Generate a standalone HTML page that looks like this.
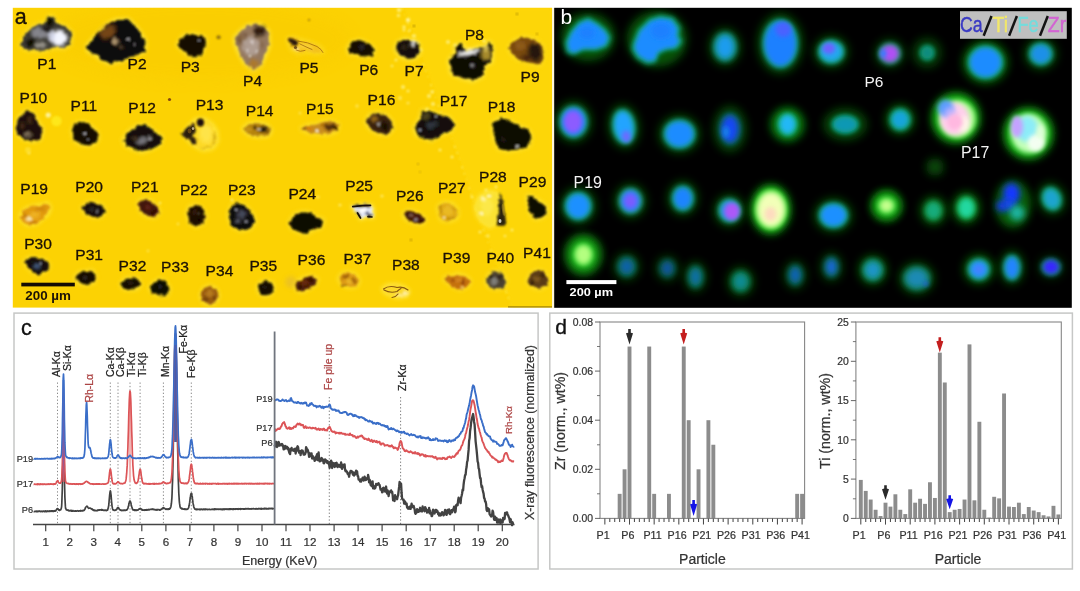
<!DOCTYPE html>
<html><head><meta charset="utf-8"><title>figure</title>
<style>
html,body{margin:0;padding:0;background:#fff;}
body{width:1080px;height:591px;overflow:hidden;font-family:"Liberation Sans",sans-serif;}
svg{display:block;position:absolute;left:0;top:0;will-change:transform;}
text{font-family:"Liberation Sans",sans-serif;}
</style></head><body>
<svg width="1080" height="591" viewBox="0 0 1080 591">
<rect x="0" y="0" width="1080" height="591" fill="#ffffff"/>
<g id="pa">
<defs>
<filter id="a07" x="-30%" y="-30%" width="160%" height="160%"><feGaussianBlur stdDeviation="0.75"/></filter>
<filter id="rg" x="-30%" y="-30%" width="160%" height="160%"><feTurbulence type="fractalNoise" baseFrequency="0.22" numOctaves="2" seed="3" result="n"/><feDisplacementMap in="SourceGraphic" in2="n" scale="4.5" xChannelSelector="R" yChannelSelector="G"/><feGaussianBlur stdDeviation="1.0"/></filter>
<filter id="rg2" x="-30%" y="-30%" width="160%" height="160%"><feTurbulence type="fractalNoise" baseFrequency="0.35" numOctaves="2" seed="8" result="n"/><feDisplacementMap in="SourceGraphic" in2="n" scale="4" xChannelSelector="G" yChannelSelector="R"/><feGaussianBlur stdDeviation="0.8"/></filter>
<filter id="a08" x="-50%" y="-50%" width="200%" height="200%"><feGaussianBlur stdDeviation="0.9"/></filter>
<filter id="a12" x="-50%" y="-50%" width="200%" height="200%"><feGaussianBlur stdDeviation="1.4"/></filter>
<filter id="a2" x="-50%" y="-50%" width="200%" height="200%"><feGaussianBlur stdDeviation="2"/></filter>
<filter id="a6" x="-50%" y="-50%" width="200%" height="200%"><feGaussianBlur stdDeviation="7"/></filter>
<clipPath id="ca"><rect x="12.8" y="7.8" width="539.2" height="299.8"/></clipPath>
</defs>
<rect x="12.8" y="7.8" width="539.2" height="299.8" fill="#fcd203"/>
<g clip-path="url(#ca)">
<polygon points="404,8 552,8 552,308 512,308 458,155" fill="#fed908" opacity="0.6" filter="url(#a12)"/>
<polyline points="402,8 420,55 440,110 458,155 478,215 498,270 512,308" fill="none" stroke="#ffef60" stroke-width="1.6" stroke-dasharray="2 5 1 7 3 4" opacity="0.7" filter="url(#a08)"/>
<ellipse cx="200" cy="40" rx="150" ry="40" fill="#f9cb00" opacity="0.45" filter="url(#a6)"/>
<polygon points="21.3,45.5 26.9,33.0 35.2,26.1 47.7,21.9 48.4,17.0 53.3,17.0 54.7,22.6 65.8,27.4 71.3,33.0 69.9,44.1 64.4,47.6 54.7,46.9 43.6,50.4 33.8,49.7 26.9,49.0" fill="#ffe840" stroke="#ffe840" stroke-width="4.0" stroke-linejoin="round" opacity="0.7425" filter="url(#a2)"/>
<g filter="url(#rg)"><polygon points="21.3,45.5 26.9,33.0 35.2,26.1 47.7,21.9 48.4,17.0 53.3,17.0 54.7,22.6 65.8,27.4 71.3,33.0 69.9,44.1 64.4,47.6 54.7,46.9 43.6,50.4 33.8,49.7 26.9,49.0" fill="#3a3832" stroke="#3a3832" stroke-width="0.8" stroke-linejoin="round"/>
<ellipse cx="40.0" cy="33.0" rx="9.0" ry="6.0" fill="#8e8e96" opacity="0.9" filter="url(#a12)"/>
<ellipse cx="59.0" cy="38.0" rx="8.0" ry="8.0" fill="#f4f6ff" filter="url(#a12)"/>
<ellipse cx="52.0" cy="36.0" rx="4.0" ry="6.0" fill="#d8dcf0" opacity="0.9" filter="url(#a12)"/>
<ellipse cx="31.0" cy="43.0" rx="4.2" ry="4.0" fill="#0c0806" filter="url(#a08)"/>
<ellipse cx="50.0" cy="22.0" rx="3.5" ry="4.5" fill="#0c0806" filter="url(#a08)"/>
<ellipse cx="40.0" cy="45.0" rx="7.0" ry="3.0" fill="#b8b4a8" opacity="0.8" filter="url(#a12)"/>
<ellipse cx="46.0" cy="29.0" rx="5.0" ry="3.0" fill="#1c1814" opacity="0.9" filter="url(#a08)"/>
</g>
<polygon points="87.3,46.2 96.3,35.8 107.4,24.7 115.8,20.5 128.3,19.8 138.0,30.2 144.9,41.3 144.3,51.1 133.8,55.2 124.1,59.4 110.2,62.9 101.9,59.4 94.9,53.8 88.7,51.1" fill="#ffe840" stroke="#ffe840" stroke-width="4.0" stroke-linejoin="round" opacity="0.945" filter="url(#a2)"/>
<g filter="url(#rg)"><polygon points="87.3,46.2 96.3,35.8 107.4,24.7 115.8,20.5 128.3,19.8 138.0,30.2 144.9,41.3 144.3,51.1 133.8,55.2 124.1,59.4 110.2,62.9 101.9,59.4 94.9,53.8 88.7,51.1" fill="#100a08" stroke="#100a08" stroke-width="0.8" stroke-linejoin="round"/>
<ellipse cx="108.0" cy="32.0" rx="9.0" ry="6.0" fill="#7a4a12" opacity="0.95" filter="url(#a12)" transform="rotate(-40 108.0 32.0)"/>
<ellipse cx="115.0" cy="41.0" rx="3.6" ry="3.4" fill="#b89c74" opacity="0.95" filter="url(#a08)"/>
<ellipse cx="121.0" cy="47.0" rx="2.5" ry="2.0" fill="#6a5a40" opacity="0.8" filter="url(#a08)"/>
<ellipse cx="128.0" cy="40.0" rx="1.0" ry="1.0" fill="#e8e8f0" opacity="0.8" filter="url(#a07)"/>
<ellipse cx="134.0" cy="45.0" rx="0.9" ry="0.9" fill="#e8e8f0" opacity="0.7" filter="url(#a07)"/>
</g>
<polygon points="177.6,44.8 183.8,35.8 194.9,34.4 204.7,37.9 205.4,42.7 201.2,53.8 194.9,57.3 188.0,54.5 182.4,49.0" fill="#ffe840" stroke="#ffe840" stroke-width="4.0" stroke-linejoin="round" opacity="0.7425" filter="url(#a2)"/>
<g filter="url(#rg)"><polygon points="177.6,44.8 183.8,35.8 194.9,34.4 204.7,37.9 205.4,42.7 201.2,53.8 194.9,57.3 188.0,54.5 182.4,49.0" fill="#140c06" stroke="#140c06" stroke-width="0.8" stroke-linejoin="round"/>
<ellipse cx="199.5" cy="41.0" rx="1.2" ry="1.0" fill="#c8c8d0" opacity="0.8" filter="url(#a07)"/>
</g>
<ellipse cx="218.6" cy="37.2" rx="2.2" ry="2.0" fill="#8a6a10" opacity="0.9" filter="url(#a08)"/>
<polygon points="235.2,37.9 240.8,31.6 249.1,25.4 260.2,24.7 267.9,31.6 268.6,45.5 265.1,53.8 260.2,64.9 253.3,69.8 244.9,62.2 238.7,51.1 235.9,44.1" fill="#ffe840" stroke="#ffe840" stroke-width="4.0" stroke-linejoin="round" opacity="1" filter="url(#a2)"/>
<g filter="url(#rg)"><polygon points="235.2,37.9 240.8,31.6 249.1,25.4 260.2,24.7 267.9,31.6 268.6,45.5 265.1,53.8 260.2,64.9 253.3,69.8 244.9,62.2 238.7,51.1 235.9,44.1" fill="#94785f" stroke="#94785f" stroke-width="0.8" stroke-linejoin="round"/>
<ellipse cx="251.0" cy="46.0" rx="8.5" ry="10.0" fill="#b4a49c" opacity="0.85" filter="url(#a12)"/>
<ellipse cx="259.5" cy="31.0" rx="6.5" ry="5.5" fill="#2c180c" opacity="0.95" filter="url(#a12)"/>
<ellipse cx="254.0" cy="64.0" rx="5.0" ry="4.5" fill="#b07822" opacity="0.9" filter="url(#a12)"/>
<ellipse cx="240.0" cy="40.0" rx="3.0" ry="5.0" fill="#70502a" opacity="0.8" filter="url(#a12)"/>
<ellipse cx="252.0" cy="42.0" rx="2.0" ry="2.0" fill="#d8ccc8" opacity="0.8" filter="url(#a07)"/>
<ellipse cx="247.0" cy="50.0" rx="1.3" ry="1.3" fill="#e0d8d4" opacity="0.8" filter="url(#a07)"/>
<ellipse cx="256.0" cy="52.0" rx="1.3" ry="1.3" fill="#dcd4d0" opacity="0.8" filter="url(#a07)"/>
<ellipse cx="250.0" cy="57.0" rx="1.2" ry="1.2" fill="#e8e0d0" opacity="0.8" filter="url(#a07)"/>
<ellipse cx="246.0" cy="35.0" rx="2.5" ry="2.0" fill="#6a4a30" opacity="0.7" filter="url(#a08)"/>
<ellipse cx="262.0" cy="45.0" rx="2.0" ry="4.0" fill="#7a5c40" opacity="0.6" filter="url(#a08)"/>
</g>
<polygon points="288.0,39.0 294.0,38.0 300.0,40.5 310.0,43.0 319.0,47.0 323.0,51.5 317.0,52.5 306.0,51.0 298.0,52.5 292.0,49.0" fill="#ffe840" stroke="#ffe840" stroke-width="4.0" stroke-linejoin="round" opacity="0.54" filter="url(#a2)"/>
<g filter="url(#rg)"><polygon points="288.0,39.0 294.0,38.0 300.0,40.5 310.0,43.0 319.0,47.0 323.0,51.5 317.0,52.5 306.0,51.0 298.0,52.5 292.0,49.0" fill="#f4c21c" stroke="#f4c21c" stroke-width="0.8" stroke-linejoin="round"/>
<ellipse cx="306.0" cy="46.5" rx="8.0" ry="2.0" fill="#fbd84a" opacity="0.8" filter="url(#a08)" transform="rotate(15 306.0 46.5)"/>
<ellipse cx="296.0" cy="49.0" rx="3.0" ry="2.0" fill="#f8e4a0" opacity="0.8" filter="url(#a07)"/>
</g>
<path d="M298,41 Q308,42 317,46.5 Q322,49.5 323,52.5 M296,50 Q300,52.5 305,50.5 M300,44 Q306,47 312,49.5" fill="none" stroke="#a8700f" stroke-width="1.0" stroke-linecap="round" opacity="0.85" filter="url(#a07)"/>
<polygon points="286.8,39.5 291,38.2 296.5,39.5 298.6,43 296,46 292.5,45 289.5,42.5" fill="#2a1608" filter="url(#rg2)"/>
<ellipse cx="295.5" cy="47.5" rx="1.6" ry="1.6" fill="#5a3a10" opacity="0.8" filter="url(#a07)"/>
<polygon points="348.0,49.0 352.0,42.5 360.0,40.5 368.0,44.0 374.0,49.5 372.0,55.0 364.0,56.0 357.0,53.5 350.0,53.5" fill="#ffe840" stroke="#ffe840" stroke-width="4.0" stroke-linejoin="round" opacity="0.7425" filter="url(#a2)"/>
<g filter="url(#rg)"><polygon points="348.0,49.0 352.0,42.5 360.0,40.5 368.0,44.0 374.0,49.5 372.0,55.0 364.0,56.0 357.0,53.5 350.0,53.5" fill="#140c06" stroke="#140c06" stroke-width="0.8" stroke-linejoin="round"/>
<ellipse cx="362.0" cy="47.0" rx="3.0" ry="2.0" fill="#3a3440" opacity="0.8" filter="url(#a08)"/>
</g>
<polygon points="396.0,50.0 398.0,43.0 405.0,39.5 411.0,41.0 418.0,44.0 419.5,52.0 415.0,57.5 408.0,58.5 401.0,56.0" fill="#ffe840" stroke="#ffe840" stroke-width="4.0" stroke-linejoin="round" opacity="1" filter="url(#a2)"/>
<g filter="url(#rg)"><polygon points="396.0,50.0 398.0,43.0 405.0,39.5 411.0,41.0 418.0,44.0 419.5,52.0 415.0,57.5 408.0,58.5 401.0,56.0" fill="#181008" stroke="#181008" stroke-width="0.8" stroke-linejoin="round"/>
<ellipse cx="412.7" cy="43.6" rx="2.2" ry="3.6" fill="#ffffff" filter="url(#a08)" transform="rotate(20 412.7 43.6)"/>
<ellipse cx="404.0" cy="47.0" rx="2.5" ry="2.0" fill="#40342c" opacity="0.8" filter="url(#a08)"/>
</g>
<polygon points="449.5,60.3 455.8,53.3 455.1,46.4 461.3,44.3 466.9,51.9 478.0,47.8 486.3,47.8 489.1,42.2 491.9,47.8 491.2,61.7 483.6,65.8 482.2,75.6 472.4,80.4 462.7,77.6 451.6,72.8" fill="#ffe840" stroke="#ffe840" stroke-width="4.0" stroke-linejoin="round" opacity="1" filter="url(#a2)"/>
<g filter="url(#rg)"><polygon points="449.5,60.3 455.8,53.3 455.1,46.4 461.3,44.3 466.9,51.9 478.0,47.8 486.3,47.8 489.1,42.2 491.9,47.8 491.2,61.7 483.6,65.8 482.2,75.6 472.4,80.4 462.7,77.6 451.6,72.8" fill="#0c0806" stroke="#0c0806" stroke-width="0.8" stroke-linejoin="round"/>
<ellipse cx="486.0" cy="54.0" rx="5.0" ry="7.0" fill="#b89a30" opacity="0.9" filter="url(#a12)"/>
<ellipse cx="469.0" cy="52.5" rx="12.0" ry="2.6" fill="#ffffff" filter="url(#a08)" transform="rotate(-12 469.0 52.5)"/>
<ellipse cx="473.0" cy="65.5" rx="2.0" ry="1.8" fill="#e0e0e8" opacity="0.9" filter="url(#a08)"/>
<ellipse cx="486.0" cy="48.0" rx="3.0" ry="3.0" fill="#e8d060" opacity="0.8" filter="url(#a08)"/>
</g>
<polygon points="509.3,48.5 514.1,40.8 523.8,37.4 533.6,39.4 541.9,46.4 542.6,56.1 539.8,64.4 528.0,61.7 518.3,58.9 512.0,53.3" fill="#ffe840" stroke="#ffe840" stroke-width="4.0" stroke-linejoin="round" opacity="0.54" filter="url(#a2)"/>
<g filter="url(#rg)"><polygon points="509.3,48.5 514.1,40.8 523.8,37.4 533.6,39.4 541.9,46.4 542.6,56.1 539.8,64.4 528.0,61.7 518.3,58.9 512.0,53.3" fill="#7a4a10" stroke="#7a4a10" stroke-width="0.8" stroke-linejoin="round"/>
<ellipse cx="535.0" cy="52.0" rx="6.5" ry="9.0" fill="#24120a" opacity="0.95" filter="url(#a12)" transform="rotate(-20 535.0 52.0)"/>
<ellipse cx="527.0" cy="58.0" rx="6.0" ry="3.0" fill="#3a1e0c" opacity="0.8" filter="url(#a12)" transform="rotate(15 527.0 58.0)"/>
<ellipse cx="520.0" cy="46.0" rx="5.0" ry="4.0" fill="#94601a" opacity="0.8" filter="url(#a12)"/>
</g>
<polygon points="16.0,128.0 19.0,118.0 26.0,111.5 32.0,113.0 37.0,121.0 42.5,130.0 40.0,139.0 32.0,141.0 23.0,138.0 18.0,134.0" fill="#ffe840" stroke="#ffe840" stroke-width="4.0" stroke-linejoin="round" opacity="0.81" filter="url(#a2)"/>
<g filter="url(#rg)"><polygon points="16.0,128.0 19.0,118.0 26.0,111.5 32.0,113.0 37.0,121.0 42.5,130.0 40.0,139.0 32.0,141.0 23.0,138.0 18.0,134.0" fill="#1c100a" stroke="#1c100a" stroke-width="0.8" stroke-linejoin="round"/>
<ellipse cx="30.0" cy="120.0" rx="3.0" ry="4.0" fill="#4a2c14" opacity="0.8" filter="url(#a08)"/>
<ellipse cx="28.0" cy="134.5" rx="4.0" ry="2.5" fill="#9a8a70" opacity="0.8" filter="url(#a08)"/>
<ellipse cx="22.0" cy="126.0" rx="2.5" ry="4.0" fill="#5a3414" opacity="0.7" filter="url(#a08)"/>
</g>
<polygon points="72.5,131.0 76.0,124.0 83.0,122.5 90.0,126.0 97.0,133.0 97.5,140.0 91.0,145.0 82.0,144.5 75.0,140.0" fill="#ffe840" stroke="#ffe840" stroke-width="4.0" stroke-linejoin="round" opacity="0.7425" filter="url(#a2)"/>
<g filter="url(#rg)"><polygon points="72.5,131.0 76.0,124.0 83.0,122.5 90.0,126.0 97.0,133.0 97.5,140.0 91.0,145.0 82.0,144.5 75.0,140.0" fill="#140c06" stroke="#140c06" stroke-width="0.8" stroke-linejoin="round"/>
<ellipse cx="84.0" cy="134.0" rx="1.6" ry="1.6" fill="#e8e8f0" opacity="0.9" filter="url(#a07)"/>
<ellipse cx="88.0" cy="139.0" rx="1.2" ry="1.0" fill="#c0c0d0" opacity="0.8" filter="url(#a07)"/>
</g>
<polygon points="123.5,140.0 129.0,132.0 138.0,126.0 146.0,125.5 152.0,131.0 161.5,137.0 160.0,144.0 152.0,148.0 142.0,151.5 132.0,148.0 126.0,145.0" fill="#ffe840" stroke="#ffe840" stroke-width="4.0" stroke-linejoin="round" opacity="0.81" filter="url(#a2)"/>
<g filter="url(#rg)"><polygon points="123.5,140.0 129.0,132.0 138.0,126.0 146.0,125.5 152.0,131.0 161.5,137.0 160.0,144.0 152.0,148.0 142.0,151.5 132.0,148.0 126.0,145.0" fill="#120c08" stroke="#120c08" stroke-width="0.8" stroke-linejoin="round"/>
<ellipse cx="142.0" cy="141.0" rx="6.0" ry="3.5" fill="#8c8c94" opacity="0.85" filter="url(#a12)" transform="rotate(-15 142.0 141.0)"/>
<ellipse cx="150.0" cy="138.0" rx="3.0" ry="2.0" fill="#c8c8d0" opacity="0.8" filter="url(#a08)"/>
<ellipse cx="135.0" cy="138.0" rx="3.0" ry="2.5" fill="#5a4630" opacity="0.7" filter="url(#a08)"/>
</g>
<polygon points="184.0,134.0 190.0,126.0 196.0,120.0 204.0,119.5 211.0,124.0 216.0,131.0 217.0,141.0 212.0,148.0 203.0,149.5 196.0,146.0 190.0,141.0" fill="#ffe840" stroke="#ffe840" stroke-width="4.0" stroke-linejoin="round" opacity="0.945" filter="url(#a2)"/>
<g filter="url(#rg)"><polygon points="184.0,134.0 190.0,126.0 196.0,120.0 204.0,119.5 211.0,124.0 216.0,131.0 217.0,141.0 212.0,148.0 203.0,149.5 196.0,146.0 190.0,141.0" fill="#fdd926" stroke="#fdd926" stroke-width="0.8" stroke-linejoin="round"/>
<ellipse cx="206.0" cy="134.0" rx="6.5" ry="9.0" fill="#ffe650" opacity="0.85" filter="url(#a12)"/>
<ellipse cx="214.0" cy="138.0" rx="1.1" ry="8.0" fill="#c09a10" opacity="0.6" filter="url(#a07)" transform="rotate(8 214.0 138.0)"/>
<ellipse cx="206.0" cy="148.0" rx="6.0" ry="1.1" fill="#c09a10" opacity="0.6" filter="url(#a07)" transform="rotate(-8 206.0 148.0)"/>
</g>
<polygon points="181,134 187,127.5 194.5,123.5 195,131 192,137 196.5,139.5 196,145 192,143.5 190,139 184.5,138" fill="#2a1a0a" filter="url(#rg2)"/>
<ellipse cx="200.4" cy="122.5" rx="3.6" ry="4.0" fill="#1c1008" filter="url(#a08)"/>
<ellipse cx="189.5" cy="131.0" rx="2.0" ry="2.4" fill="#6a4818" opacity="0.85" filter="url(#a07)"/>
<ellipse cx="193.0" cy="128.5" rx="1.2" ry="1.5" fill="#d8c8a0" opacity="0.8" filter="url(#a07)"/>
<polygon points="243.5,129.0 249.0,124.5 258.0,123.5 266.0,125.5 270.5,130.0 268.0,135.0 259.0,136.0 250.0,134.5" fill="#ffe840" stroke="#ffe840" stroke-width="4.0" stroke-linejoin="round" opacity="0.945" filter="url(#a2)"/>
<g filter="url(#rg)"><polygon points="243.5,129.0 249.0,124.5 258.0,123.5 266.0,125.5 270.5,130.0 268.0,135.0 259.0,136.0 250.0,134.5" fill="#b4820e" stroke="#b4820e" stroke-width="0.8" stroke-linejoin="round"/>
<ellipse cx="263.5" cy="129.5" rx="5.0" ry="3.2" fill="#1c1208" opacity="0.98" filter="url(#a08)"/>
<ellipse cx="254.5" cy="128.0" rx="2.2" ry="1.8" fill="#3a260e" opacity="0.85" filter="url(#a07)"/>
<ellipse cx="259.5" cy="129.0" rx="1.6" ry="1.4" fill="#e0dcd0" opacity="0.9" filter="url(#a07)"/>
<ellipse cx="248.5" cy="129.5" rx="3.0" ry="2.4" fill="#c89418" opacity="0.8" filter="url(#a08)"/>
</g>
<polygon points="301.5,128.5 308.0,125.5 316.0,125.0 322.0,122.5 331.0,121.5 338.5,125.0 336.0,131.0 327.0,134.0 316.0,133.0 307.0,131.5" fill="#ffe840" stroke="#ffe840" stroke-width="4.0" stroke-linejoin="round" opacity="0.675" filter="url(#a2)"/>
<g filter="url(#rg)"><polygon points="301.5,128.5 308.0,125.5 316.0,125.0 322.0,122.5 331.0,121.5 338.5,125.0 336.0,131.0 327.0,134.0 316.0,133.0 307.0,131.5" fill="#c88c1c" stroke="#c88c1c" stroke-width="0.8" stroke-linejoin="round"/>
<ellipse cx="330.0" cy="126.5" rx="6.0" ry="3.4" fill="#4a2808" opacity="0.95" filter="url(#a08)"/>
<ellipse cx="335.0" cy="128.0" rx="2.5" ry="2.0" fill="#2a1606" opacity="0.9" filter="url(#a07)"/>
<ellipse cx="323.0" cy="125.0" rx="2.5" ry="1.6" fill="#a8680f" opacity="0.8" filter="url(#a07)"/>
<ellipse cx="316.7" cy="130.8" rx="2.4" ry="1.5" fill="#fff8e0" opacity="0.9" filter="url(#a07)"/>
<ellipse cx="309.0" cy="128.5" rx="4.0" ry="1.4" fill="#d87c10" opacity="0.8" filter="url(#a07)"/>
<ellipse cx="304.0" cy="128.5" rx="1.6" ry="1.2" fill="#7a4a10" opacity="0.8" filter="url(#a07)"/>
</g>
<polygon points="366.5,122.0 370.0,115.5 378.0,113.5 386.0,116.0 391.5,122.0 392.0,129.0 387.0,134.0 379.0,133.0 371.0,129.0" fill="#ffe840" stroke="#ffe840" stroke-width="4.0" stroke-linejoin="round" opacity="0.81" filter="url(#a2)"/>
<g filter="url(#rg)"><polygon points="366.5,122.0 370.0,115.5 378.0,113.5 386.0,116.0 391.5,122.0 392.0,129.0 387.0,134.0 379.0,133.0 371.0,129.0" fill="#3a2410" stroke="#3a2410" stroke-width="0.8" stroke-linejoin="round"/>
<ellipse cx="374.0" cy="119.0" rx="4.0" ry="3.0" fill="#a0701c" opacity="0.9" filter="url(#a08)"/>
<ellipse cx="385.0" cy="127.0" rx="4.0" ry="4.5" fill="#120a06" opacity="0.9" filter="url(#a08)"/>
<ellipse cx="379.0" cy="124.0" rx="1.8" ry="1.5" fill="#d0d0d8" opacity="0.7" filter="url(#a07)"/>
</g>
<polygon points="414.8,127.5 421.1,117.8 422.4,110.8 430.8,111.5 439.1,115.0 448.8,117.8 453.7,124.7 450.9,130.3 440.5,134.4 430.8,140.0 423.8,137.2 416.9,134.4" fill="#ffe840" stroke="#ffe840" stroke-width="4.0" stroke-linejoin="round" opacity="0.81" filter="url(#a2)"/>
<g filter="url(#rg)"><polygon points="414.8,127.5 421.1,117.8 422.4,110.8 430.8,111.5 439.1,115.0 448.8,117.8 453.7,124.7 450.9,130.3 440.5,134.4 430.8,140.0 423.8,137.2 416.9,134.4" fill="#12100e" stroke="#12100e" stroke-width="0.8" stroke-linejoin="round"/>
<ellipse cx="426.0" cy="116.0" rx="4.0" ry="3.5" fill="#5a5020" opacity="0.8" filter="url(#a08)"/>
<ellipse cx="432.0" cy="125.0" rx="7.0" ry="3.0" fill="#3a4250" opacity="0.8" filter="url(#a12)" transform="rotate(-15 432.0 125.0)"/>
<ellipse cx="420.0" cy="130.0" rx="1.5" ry="1.5" fill="#b0b4c8" opacity="0.8" filter="url(#a07)"/>
<ellipse cx="436.0" cy="116.0" rx="1.5" ry="1.2" fill="#d8d8e0" opacity="0.8" filter="url(#a07)"/>
</g>
<polygon points="493.3,123.3 500.2,118.5 508.6,121.3 518.3,126.1 528.0,130.3 530.8,135.8 528.7,145.6 518.3,149.0 507.2,150.4 498.8,148.3 494.7,138.6" fill="#ffe840" stroke="#ffe840" stroke-width="4.0" stroke-linejoin="round" opacity="0.675" filter="url(#a2)"/>
<g filter="url(#rg)"><polygon points="493.3,123.3 500.2,118.5 508.6,121.3 518.3,126.1 528.0,130.3 530.8,135.8 528.7,145.6 518.3,149.0 507.2,150.4 498.8,148.3 494.7,138.6" fill="#0e0a06" stroke="#0e0a06" stroke-width="0.8" stroke-linejoin="round"/>
<ellipse cx="516.9" cy="146.3" rx="2.6" ry="1.4" fill="#d8d8d0" opacity="0.85" filter="url(#a07)"/>
<ellipse cx="503.0" cy="140.0" rx="2.5" ry="2.0" fill="#4a3a20" opacity="0.6" filter="url(#a08)"/>
</g>
<ellipse cx="169.5" cy="99.5" rx="1.6" ry="1.6" fill="#7a3a10" opacity="0.9" filter="url(#a07)"/>
<polygon points="20.5,216.0 25.0,209.5 33.0,206.5 42.0,205.5 47.0,203.5 50.0,207.5 47.5,214.0 42.0,218.5 36.0,223.5 28.0,224.5 23.0,221.0" fill="#ffe840" stroke="#ffe840" stroke-width="4.0" stroke-linejoin="round" opacity="0.81" filter="url(#a2)"/>
<g filter="url(#rg)"><polygon points="20.5,216.0 25.0,209.5 33.0,206.5 42.0,205.5 47.0,203.5 50.0,207.5 47.5,214.0 42.0,218.5 36.0,223.5 28.0,224.5 23.0,221.0" fill="#e29a10" stroke="#e29a10" stroke-width="0.8" stroke-linejoin="round"/>
<ellipse cx="29.0" cy="218.6" rx="2.4" ry="2.4" fill="#fffbe0" opacity="0.95" filter="url(#a08)"/>
<ellipse cx="40.0" cy="209.5" rx="6.0" ry="2.2" fill="#c87c0a" opacity="0.75" filter="url(#a08)" transform="rotate(-15 40.0 209.5)"/>
<ellipse cx="35.0" cy="215.0" rx="5.0" ry="3.5" fill="#f2b828" opacity="0.85" filter="url(#a12)"/>
<ellipse cx="24.0" cy="216.0" rx="2.0" ry="3.0" fill="#c07808" opacity="0.7" filter="url(#a07)"/>
<ellipse cx="33.0" cy="222.5" rx="4.0" ry="1.2" fill="#b86c08" opacity="0.7" filter="url(#a07)"/>
</g>
<polygon points="82.5,208.0 87.0,203.5 95.0,203.0 102.0,206.0 104.5,211.0 101.0,216.0 93.0,216.5 86.0,213.5" fill="#ffe840" stroke="#ffe840" stroke-width="4.0" stroke-linejoin="round" opacity="0.7425" filter="url(#a2)"/>
<g filter="url(#rg)"><polygon points="82.5,208.0 87.0,203.5 95.0,203.0 102.0,206.0 104.5,211.0 101.0,216.0 93.0,216.5 86.0,213.5" fill="#181008" stroke="#181008" stroke-width="0.8" stroke-linejoin="round"/>
<ellipse cx="92.0" cy="209.0" rx="2.5" ry="1.6" fill="#3c4054" opacity="0.8" filter="url(#a08)"/>
<ellipse cx="98.0" cy="211.0" rx="1.2" ry="1.0" fill="#a0a4b8" opacity="0.7" filter="url(#a07)"/>
</g>
<polygon points="138.5,203.0 143.0,199.8 150.0,201.0 156.0,206.0 158.8,212.0 155.0,216.5 147.0,215.5 141.0,211.0" fill="#ffe840" stroke="#ffe840" stroke-width="4.0" stroke-linejoin="round" opacity="0.7425" filter="url(#a2)"/>
<g filter="url(#rg)"><polygon points="138.5,203.0 143.0,199.8 150.0,201.0 156.0,206.0 158.8,212.0 155.0,216.5 147.0,215.5 141.0,211.0" fill="#42140a" stroke="#42140a" stroke-width="0.8" stroke-linejoin="round"/>
<ellipse cx="148.0" cy="207.5" rx="3.0" ry="2.5" fill="#6a2a12" opacity="0.7" filter="url(#a08)"/>
<ellipse cx="153.0" cy="212.0" rx="2.5" ry="2.0" fill="#260c04" opacity="0.8" filter="url(#a08)"/>
</g>
<polygon points="187.5,213.0 190.0,207.0 196.0,205.6 202.0,209.0 205.3,216.0 203.0,223.0 196.0,226.2 190.0,222.0" fill="#ffe840" stroke="#ffe840" stroke-width="4.0" stroke-linejoin="round" opacity="0.675" filter="url(#a2)"/>
<g filter="url(#rg)"><polygon points="187.5,213.0 190.0,207.0 196.0,205.6 202.0,209.0 205.3,216.0 203.0,223.0 196.0,226.2 190.0,222.0" fill="#1e0e06" stroke="#1e0e06" stroke-width="0.8" stroke-linejoin="round"/>
<ellipse cx="194.5" cy="211.5" rx="2.2" ry="2.2" fill="#4a2410" opacity="0.7" filter="url(#a08)"/>
<ellipse cx="199.0" cy="219.0" rx="2.0" ry="2.0" fill="#0c0604" opacity="0.8" filter="url(#a08)"/>
<ellipse cx="198.0" cy="214.0" rx="1.0" ry="1.0" fill="#c8b8a0" opacity="0.7" filter="url(#a07)"/>
</g>
<polygon points="229.0,214.0 232.0,206.0 238.0,203.5 246.0,207.0 252.0,214.0 255.0,222.0 250.0,228.0 241.0,230.3 233.0,226.0 230.0,220.0" fill="#ffe840" stroke="#ffe840" stroke-width="4.0" stroke-linejoin="round" opacity="0.675" filter="url(#a2)"/>
<g filter="url(#rg)"><polygon points="229.0,214.0 232.0,206.0 238.0,203.5 246.0,207.0 252.0,214.0 255.0,222.0 250.0,228.0 241.0,230.3 233.0,226.0 230.0,220.0" fill="#100c0c" stroke="#100c0c" stroke-width="0.8" stroke-linejoin="round"/>
<ellipse cx="242.0" cy="214.0" rx="5.0" ry="4.0" fill="#5a6078" opacity="0.75" filter="url(#a12)"/>
<ellipse cx="238.0" cy="221.0" rx="3.0" ry="2.5" fill="#8088a0" opacity="0.7" filter="url(#a08)"/>
<ellipse cx="246.0" cy="222.0" rx="1.5" ry="1.5" fill="#d0d4e8" opacity="0.8" filter="url(#a07)"/>
<ellipse cx="236.0" cy="210.0" rx="1.3" ry="1.3" fill="#c8cce0" opacity="0.8" filter="url(#a07)"/>
</g>
<polygon points="290.0,222.0 295.0,215.0 303.0,212.5 311.0,213.5 316.0,218.0 323.3,220.0 321.0,227.0 313.0,229.0 306.0,233.5 298.0,231.0 292.0,228.0" fill="#ffe840" stroke="#ffe840" stroke-width="4.0" stroke-linejoin="round" opacity="0.675" filter="url(#a2)"/>
<g filter="url(#rg)"><polygon points="290.0,222.0 295.0,215.0 303.0,212.5 311.0,213.5 316.0,218.0 323.3,220.0 321.0,227.0 313.0,229.0 306.0,233.5 298.0,231.0 292.0,228.0" fill="#0a0806" stroke="#0a0806" stroke-width="0.8" stroke-linejoin="round"/>
</g>
<polygon points="352.5,206.5 362.0,205.0 371.0,205.5 373.0,211.0 372.5,217.0 366.0,216.0 361.0,218.5 357.5,213.0" fill="#ffe840" stroke="#ffe840" stroke-width="4.0" stroke-linejoin="round" opacity="1" filter="url(#a2)"/>
<g filter="url(#rg)"><polygon points="352.5,206.5 362.0,205.0 371.0,205.5 373.0,211.0 372.5,217.0 366.0,216.0 361.0,218.5 357.5,213.0" fill="#e4e8f6" stroke="#e4e8f6" stroke-width="0.8" stroke-linejoin="round"/>
<ellipse cx="362.0" cy="206.0" rx="9.0" ry="1.3" fill="#181008" opacity="0.95" filter="url(#a07)" transform="rotate(-2 362.0 206.0)"/>
<ellipse cx="358.5" cy="214.5" rx="1.3" ry="3.2" fill="#20160e" opacity="0.9" filter="url(#a07)" transform="rotate(-35 358.5 214.5)"/>
<ellipse cx="366.5" cy="213.0" rx="2.5" ry="1.6" fill="#3a4270" opacity="0.8" filter="url(#a07)"/>
<ellipse cx="369.5" cy="216.0" rx="2.6" ry="1.2" fill="#241a14" opacity="0.85" filter="url(#a07)"/>
<ellipse cx="363.0" cy="210.0" rx="3.0" ry="2.0" fill="#ffffff" opacity="0.9" filter="url(#a07)"/>
</g>
<path d="M352.8,206.6 L362,205.6 L370.5,205.3 M357.5,213 L360.5,218 M368,216.6 L372,217" fill="none" stroke="#181008" stroke-width="1.7" stroke-linecap="round" filter="url(#a07)"/>
<polygon points="404.0,214.0 408.0,211.0 415.0,212.5 422.0,216.5 425.0,220.5 421.0,223.5 413.0,222.0 406.0,218.5" fill="#ffe840" stroke="#ffe840" stroke-width="4.0" stroke-linejoin="round" opacity="0.7425" filter="url(#a2)"/>
<g filter="url(#rg)"><polygon points="404.0,214.0 408.0,211.0 415.0,212.5 422.0,216.5 425.0,220.5 421.0,223.5 413.0,222.0 406.0,218.5" fill="#3c1408" stroke="#3c1408" stroke-width="0.8" stroke-linejoin="round"/>
<ellipse cx="414.0" cy="217.0" rx="5.0" ry="1.6" fill="#6a3018" opacity="0.7" filter="url(#a08)" transform="rotate(22 414.0 217.0)"/>
<ellipse cx="417.0" cy="219.0" rx="1.2" ry="1.0" fill="#a8a4b8" opacity="0.8" filter="url(#a07)"/>
<ellipse cx="420.0" cy="220.5" rx="1.6" ry="1.3" fill="#1c0a04" opacity="0.8" filter="url(#a07)"/>
<ellipse cx="411.0" cy="215.5" rx="1.0" ry="0.9" fill="#b09890" opacity="0.7" filter="url(#a07)"/>
</g>
<polygon points="438.3,207.0 444.0,203.0 452.3,204.3 458.0,212.0 456.1,218.3 448.5,220.8 441.5,219.6 439.6,213.2" fill="#ffe840" stroke="#ffe840" stroke-width="4.0" stroke-linejoin="round" opacity="0.675" filter="url(#a2)"/>
<g filter="url(#rg)"><polygon points="438.3,207.0 444.0,203.0 452.3,204.3 458.0,212.0 456.1,218.3 448.5,220.8 441.5,219.6 439.6,213.2" fill="#e0aa14" stroke="#e0aa14" stroke-width="0.8" stroke-linejoin="round"/>
<ellipse cx="448.0" cy="211.0" rx="5.0" ry="4.5" fill="#ecbc28" opacity="0.9" filter="url(#a08)"/>
<ellipse cx="441.0" cy="209.0" rx="1.3" ry="4.5" fill="#b07c0c" opacity="0.8" filter="url(#a07)"/>
<ellipse cx="451.0" cy="218.5" rx="4.5" ry="1.3" fill="#b07c0c" opacity="0.7" filter="url(#a07)" transform="rotate(-12 451.0 218.5)"/>
<ellipse cx="444.0" cy="217.5" rx="1.2" ry="1.2" fill="#fff8d0" opacity="0.9" filter="url(#a07)"/>
<ellipse cx="454.0" cy="209.0" rx="1.5" ry="3.0" fill="#c89010" opacity="0.7" filter="url(#a07)" transform="rotate(-35 454.0 209.0)"/>
</g>
<polygon points="476.0,206.0 480.0,197.0 488.0,192.5 496.0,193.5 499.0,200.0 499.5,212.0 497.0,222.0 490.0,226.0 483.0,222.0 478.0,215.0" fill="#ffe840" stroke="#ffe840" stroke-width="4.3" stroke-linejoin="round" opacity="0.945" filter="url(#a2)"/>
<g filter="url(#rg)"><polygon points="476.0,206.0 480.0,197.0 488.0,192.5 496.0,193.5 499.0,200.0 499.5,212.0 497.0,222.0 490.0,226.0 483.0,222.0 478.0,215.0" fill="#fbe232" stroke="#fbe232" stroke-width="0.8" stroke-linejoin="round"/>
<ellipse cx="487.0" cy="207.0" rx="6.0" ry="9.0" fill="#fdea50" opacity="0.8" filter="url(#a12)"/>
<ellipse cx="483.5" cy="199.0" rx="2.5" ry="1.8" fill="#fffce0" opacity="0.95" filter="url(#a08)"/>
<ellipse cx="489.0" cy="196.0" rx="1.5" ry="1.2" fill="#fffce0" opacity="0.8" filter="url(#a07)"/>
<ellipse cx="481.0" cy="214.0" rx="1.5" ry="1.5" fill="#fffbd0" opacity="0.8" filter="url(#a07)"/>
</g>
<polygon points="499.6,193.5 501.3,194 505.5,218 506.5,224.5 503,226 496.5,225.5 498.5,214" fill="#2c2210" filter="url(#rg2)"/>
<ellipse cx="500.0" cy="221.0" rx="1.5" ry="2.0" fill="#d8d8d0" opacity="0.9" filter="url(#a07)"/>
<ellipse cx="503.5" cy="210.0" rx="1.2" ry="6.0" fill="#b89828" opacity="0.7" filter="url(#a07)" transform="rotate(-8 503.5 210.0)"/>
<polygon points="527.8,196.1 532.9,197.4 539.2,201.8 545.6,206.9 546.2,213.2 541.8,217.0 535.4,218.3 531.0,213.2 529.1,205.6 528.4,199.9" fill="#ffe840" stroke="#ffe840" stroke-width="4.0" stroke-linejoin="round" opacity="0.7425" filter="url(#a2)"/>
<g filter="url(#rg)"><polygon points="527.8,196.1 532.9,197.4 539.2,201.8 545.6,206.9 546.2,213.2 541.8,217.0 535.4,218.3 531.0,213.2 529.1,205.6 528.4,199.9" fill="#0e0806" stroke="#0e0806" stroke-width="0.8" stroke-linejoin="round"/>
</g>
<polygon points="24.5,261.0 30.0,257.5 38.0,259.0 46.0,261.0 49.3,266.0 45.0,271.0 38.0,274.2 32.0,271.0 27.0,266.0" fill="#ffe840" stroke="#ffe840" stroke-width="4.0" stroke-linejoin="round" opacity="0.54" filter="url(#a2)"/>
<g filter="url(#rg)"><polygon points="24.5,261.0 30.0,257.5 38.0,259.0 46.0,261.0 49.3,266.0 45.0,271.0 38.0,274.2 32.0,271.0 27.0,266.0" fill="#14100e" stroke="#14100e" stroke-width="0.8" stroke-linejoin="round"/>
<ellipse cx="37.0" cy="266.0" rx="4.0" ry="3.0" fill="#4a6088" opacity="0.85" filter="url(#a08)"/>
<ellipse cx="41.0" cy="263.5" rx="1.5" ry="1.2" fill="#c0c8e0" opacity="0.8" filter="url(#a07)"/>
</g>
<polygon points="75.5,278.0 79.0,273.0 86.0,272.0 92.0,270.6 95.0,276.0 94.0,281.5 87.0,284.0 79.0,283.0" fill="#ffe840" stroke="#ffe840" stroke-width="4.0" stroke-linejoin="round" opacity="0.675" filter="url(#a2)"/>
<g filter="url(#rg)"><polygon points="75.5,278.0 79.0,273.0 86.0,272.0 92.0,270.6 95.0,276.0 94.0,281.5 87.0,284.0 79.0,283.0" fill="#140c06" stroke="#140c06" stroke-width="0.8" stroke-linejoin="round"/>
<ellipse cx="85.0" cy="277.0" rx="2.0" ry="1.5" fill="#3a3430" opacity="0.7" filter="url(#a07)"/>
</g>
<polygon points="121.5,284.0 125.0,279.5 132.0,278.5 138.0,280.0 139.8,285.0 136.0,288.8 128.0,289.0 123.0,287.5" fill="#ffe840" stroke="#ffe840" stroke-width="4.0" stroke-linejoin="round" opacity="0.7425" filter="url(#a2)"/>
<g filter="url(#rg)"><polygon points="121.5,284.0 125.0,279.5 132.0,278.5 138.0,280.0 139.8,285.0 136.0,288.8 128.0,289.0 123.0,287.5" fill="#120a06" stroke="#120a06" stroke-width="0.8" stroke-linejoin="round"/>
<ellipse cx="131.0" cy="283.0" rx="2.0" ry="1.3" fill="#3c2c20" opacity="0.7" filter="url(#a07)"/>
</g>
<polygon points="150.0,288.0 154.0,283.0 160.0,279.6 165.0,282.0 169.3,289.0 167.0,294.5 159.0,295.0 153.0,292.0" fill="#ffe840" stroke="#ffe840" stroke-width="4.0" stroke-linejoin="round" opacity="0.675" filter="url(#a2)"/>
<g filter="url(#rg)"><polygon points="150.0,288.0 154.0,283.0 160.0,279.6 165.0,282.0 169.3,289.0 167.0,294.5 159.0,295.0 153.0,292.0" fill="#100a06" stroke="#100a06" stroke-width="0.8" stroke-linejoin="round"/>
<ellipse cx="160.0" cy="287.0" rx="2.0" ry="1.6" fill="#303848" opacity="0.7" filter="url(#a07)"/>
</g>
<polygon points="201.0,295.0 204.0,288.5 210.0,286.2 216.0,289.5 218.3,296.0 215.0,302.0 209.0,304.3 203.0,301.0" fill="#ffe840" stroke="#ffe840" stroke-width="4.0" stroke-linejoin="round" opacity="0.7425" filter="url(#a2)"/>
<g filter="url(#rg)"><polygon points="201.0,295.0 204.0,288.5 210.0,286.2 216.0,289.5 218.3,296.0 215.0,302.0 209.0,304.3 203.0,301.0" fill="#9a5c10" stroke="#9a5c10" stroke-width="0.8" stroke-linejoin="round"/>
<ellipse cx="210.0" cy="293.0" rx="3.5" ry="3.5" fill="#c08420" opacity="0.85" filter="url(#a08)"/>
<ellipse cx="206.0" cy="299.0" rx="2.5" ry="2.5" fill="#5a300a" opacity="0.8" filter="url(#a08)"/>
<ellipse cx="214.0" cy="298.0" rx="1.5" ry="2.0" fill="#4a2808" opacity="0.7" filter="url(#a07)"/>
</g>
<polygon points="258.0,287.0 261.0,282.5 267.0,281.5 272.0,283.5 273.4,289.0 270.0,294.0 264.0,295.2 259.5,292.0" fill="#ffe840" stroke="#ffe840" stroke-width="4.0" stroke-linejoin="round" opacity="0.7425" filter="url(#a2)"/>
<g filter="url(#rg)"><polygon points="258.0,287.0 261.0,282.5 267.0,281.5 272.0,283.5 273.4,289.0 270.0,294.0 264.0,295.2 259.5,292.0" fill="#140c06" stroke="#140c06" stroke-width="0.8" stroke-linejoin="round"/>
<ellipse cx="265.0" cy="287.0" rx="2.0" ry="1.5" fill="#3a2c20" opacity="0.6" filter="url(#a07)"/>
</g>
<ellipse cx="291.0" cy="282.0" rx="6.0" ry="6.0" fill="#ddb440" opacity="0.5" filter="url(#a2)"/>
<polygon points="295.8,286.0 299.0,281.0 305.0,278.0 311.0,276.3 316.8,279.0 315.0,284.5 309.0,287.5 303.0,291.0 297.5,290.0" fill="#ffe840" stroke="#ffe840" stroke-width="4.0" stroke-linejoin="round" opacity="0.7425" filter="url(#a2)"/>
<g filter="url(#rg)"><polygon points="295.8,286.0 299.0,281.0 305.0,278.0 311.0,276.3 316.8,279.0 315.0,284.5 309.0,287.5 303.0,291.0 297.5,290.0" fill="#4a1c08" stroke="#4a1c08" stroke-width="0.8" stroke-linejoin="round"/>
<ellipse cx="305.0" cy="283.0" rx="4.0" ry="2.5" fill="#7a3410" opacity="0.8" filter="url(#a08)"/>
<ellipse cx="311.0" cy="280.0" rx="2.5" ry="1.5" fill="#2a0e04" opacity="0.8" filter="url(#a07)"/>
<ellipse cx="300.0" cy="287.0" rx="2.0" ry="1.5" fill="#1c0a04" opacity="0.8" filter="url(#a07)"/>
</g>
<polygon points="339.0,279.0 342.0,274.0 348.0,272.6 355.0,275.0 358.8,281.0 356.0,286.0 349.0,286.8 343.0,284.5" fill="#ffe840" stroke="#ffe840" stroke-width="4.0" stroke-linejoin="round" opacity="0.675" filter="url(#a2)"/>
<g filter="url(#rg)"><polygon points="339.0,279.0 342.0,274.0 348.0,272.6 355.0,275.0 358.8,281.0 356.0,286.0 349.0,286.8 343.0,284.5" fill="#dc9a14" stroke="#dc9a14" stroke-width="0.8" stroke-linejoin="round"/>
<ellipse cx="346.0" cy="276.5" rx="3.0" ry="1.8" fill="#9a5a0a" opacity="0.85" filter="url(#a07)"/>
<ellipse cx="354.0" cy="280.5" rx="2.2" ry="3.0" fill="#a0600c" opacity="0.8" filter="url(#a07)"/>
<ellipse cx="349.0" cy="281.0" rx="2.6" ry="2.0" fill="#f4c838" opacity="0.85" filter="url(#a08)"/>
<ellipse cx="344.0" cy="285.3" rx="3.0" ry="0.9" fill="#6a3c08" opacity="0.85" filter="url(#a07)"/>
<ellipse cx="342.0" cy="279.0" rx="1.4" ry="1.6" fill="#b87410" opacity="0.7" filter="url(#a07)"/>
</g>
<polygon points="383.0,288.5 388.0,285.5 396.0,285.0 404.0,287.5 408.5,291.5 406.0,295.5 398.0,297.0 390.0,294.5 385.0,292.0" fill="#ffe840" stroke="#ffe840" stroke-width="4.0" stroke-linejoin="round" opacity="0.945" filter="url(#a2)"/>
<g filter="url(#rg)"><polygon points="383.0,288.5 388.0,285.5 396.0,285.0 404.0,287.5 408.5,291.5 406.0,295.5 398.0,297.0 390.0,294.5 385.0,292.0" fill="#fcd92c" stroke="#fcd92c" stroke-width="0.8" stroke-linejoin="round"/>
<ellipse cx="405.0" cy="293.6" rx="2.6" ry="2.0" fill="#fffbe6" opacity="0.95" filter="url(#a08)"/>
<ellipse cx="399.0" cy="295.5" rx="3.0" ry="1.4" fill="#fff2a8" opacity="0.8" filter="url(#a07)"/>
</g>
<path d="M383.5,289 Q389,285 397,287.5 Q403,286 408,290 M384,290 Q390,293.5 397,291.5 Q399,289.5 401,288.5 M398,294 Q396,297 392,297.5" fill="none" stroke="#8a5a10" stroke-width="1.1" stroke-linecap="round" filter="url(#a07)"/>
<polygon points="444.5,279.0 448.0,276.5 453.0,277.0 457.0,274.5 465.0,276.5 470.0,281.0 467.0,286.0 460.0,289.0 453.0,286.0 449.0,282.5" fill="#ffe840" stroke="#ffe840" stroke-width="4.0" stroke-linejoin="round" opacity="0.675" filter="url(#a2)"/>
<g filter="url(#rg)"><polygon points="444.5,279.0 448.0,276.5 453.0,277.0 457.0,274.5 465.0,276.5 470.0,281.0 467.0,286.0 460.0,289.0 453.0,286.0 449.0,282.5" fill="#c4700f" stroke="#c4700f" stroke-width="0.8" stroke-linejoin="round"/>
<ellipse cx="459.0" cy="280.0" rx="4.0" ry="2.6" fill="#d88820" opacity="0.8" filter="url(#a08)"/>
<ellipse cx="463.0" cy="282.0" rx="2.5" ry="2.5" fill="#8a3c08" opacity="0.85" filter="url(#a07)"/>
<ellipse cx="453.0" cy="281.0" rx="2.0" ry="1.6" fill="#9a4a0a" opacity="0.8" filter="url(#a07)"/>
<ellipse cx="461.5" cy="287.0" rx="1.8" ry="1.3" fill="#f4cc68" opacity="0.85" filter="url(#a07)"/>
<ellipse cx="446.5" cy="279.0" rx="2.0" ry="1.0" fill="#a85c0c" opacity="0.8" filter="url(#a07)"/>
</g>
<polygon points="486.5,282.0 489.0,275.0 495.0,271.3 501.0,273.5 505.5,280.0 504.0,286.5 497.0,288.6 490.0,287.0" fill="#ffe840" stroke="#ffe840" stroke-width="4.0" stroke-linejoin="round" opacity="0.675" filter="url(#a2)"/>
<g filter="url(#rg)"><polygon points="486.5,282.0 489.0,275.0 495.0,271.3 501.0,273.5 505.5,280.0 504.0,286.5 497.0,288.6 490.0,287.0" fill="#4a4030" stroke="#4a4030" stroke-width="0.8" stroke-linejoin="round"/>
<ellipse cx="494.0" cy="281.0" rx="3.5" ry="3.5" fill="#8a8a88" opacity="0.85" filter="url(#a08)"/>
<ellipse cx="500.0" cy="277.0" rx="2.0" ry="2.5" fill="#1c140c" opacity="0.85" filter="url(#a08)"/>
<ellipse cx="491.0" cy="277.0" rx="1.8" ry="2.0" fill="#241a0e" opacity="0.8" filter="url(#a07)"/>
</g>
<polygon points="527.5,281.0 531.0,274.0 537.0,270.6 543.0,272.0 547.5,278.0 546.0,285.0 540.0,288.6 533.0,287.0" fill="#ffe840" stroke="#ffe840" stroke-width="4.0" stroke-linejoin="round" opacity="0.54" filter="url(#a2)"/>
<g filter="url(#rg)"><polygon points="527.5,281.0 531.0,274.0 537.0,270.6 543.0,272.0 547.5,278.0 546.0,285.0 540.0,288.6 533.0,287.0" fill="#5a3a14" stroke="#5a3a14" stroke-width="0.8" stroke-linejoin="round"/>
<ellipse cx="537.0" cy="279.0" rx="3.0" ry="3.0" fill="#8a6428" opacity="0.8" filter="url(#a08)"/>
<ellipse cx="543.0" cy="276.0" rx="2.0" ry="2.2" fill="#1e1208" opacity="0.85" filter="url(#a08)"/>
<ellipse cx="532.0" cy="283.0" rx="2.0" ry="1.8" fill="#241608" opacity="0.8" filter="url(#a07)"/>
</g>
<ellipse cx="29.0" cy="153.0" rx="1.5" ry="1.5" fill="#fff080" opacity="0.7" filter="url(#a08)"/>
<ellipse cx="48.2" cy="115.0" rx="2.6" ry="2.6" fill="#fff8b0" opacity="0.85" filter="url(#a08)"/>
<ellipse cx="56.5" cy="121.0" rx="5.2" ry="5.2" fill="#ffee24" opacity="0.75" filter="url(#a08)"/>
<ellipse cx="28.0" cy="150.0" rx="3.0" ry="3.0" fill="#ffe84a" opacity="0.5" filter="url(#a08)"/>
<ellipse cx="408.0" cy="20.0" rx="2.2" ry="2.2" fill="#fff6a0" opacity="0.9" filter="url(#a08)"/>
<ellipse cx="404.0" cy="30.0" rx="1.4" ry="1.4" fill="#fff6a0" opacity="0.7" filter="url(#a08)"/>
<ellipse cx="416.0" cy="70.0" rx="1.5" ry="1.5" fill="#fff080" opacity="0.6" filter="url(#a08)"/>
<ellipse cx="400.0" cy="98.0" rx="2.0" ry="2.0" fill="#fff080" opacity="0.6" filter="url(#a08)"/>
<ellipse cx="432.0" cy="92.0" rx="2.0" ry="2.0" fill="#fff080" opacity="0.7" filter="url(#a08)"/>
<ellipse cx="408.0" cy="103.0" rx="1.6" ry="1.6" fill="#fff080" opacity="0.6" filter="url(#a08)"/>
<ellipse cx="309.0" cy="20.0" rx="1.1" ry="1.1" fill="#7a5a10" opacity="0.8" filter="url(#a08)"/>
<ellipse cx="414.0" cy="26.0" rx="1.0" ry="1.0" fill="#5a4008" opacity="0.7" filter="url(#a08)"/>
<ellipse cx="517.0" cy="14.0" rx="1.0" ry="1.0" fill="#6a4a08" opacity="0.7" filter="url(#a08)"/>
<ellipse cx="537.0" cy="34.0" rx="0.9" ry="0.9" fill="#6a4a08" opacity="0.6" filter="url(#a08)"/>
<ellipse cx="300.0" cy="113.0" rx="1.5" ry="1.5" fill="#ffec70" opacity="0.6" filter="url(#a08)"/>
<ellipse cx="357.0" cy="106.0" rx="1.8" ry="1.8" fill="#ffec70" opacity="0.6" filter="url(#a08)"/>
<ellipse cx="318.0" cy="197.0" rx="1.6" ry="1.6" fill="#fff080" opacity="0.7" filter="url(#a08)"/>
<ellipse cx="340.0" cy="205.0" rx="1.6" ry="1.6" fill="#fff080" opacity="0.7" filter="url(#a08)"/>
<ellipse cx="382.0" cy="196.0" rx="1.6" ry="1.6" fill="#fff080" opacity="0.7" filter="url(#a08)"/>
<ellipse cx="411.0" cy="240.0" rx="0.9" ry="0.9" fill="#6a4a08" opacity="0.7" filter="url(#a08)"/>
<ellipse cx="366.0" cy="262.0" rx="1.6" ry="1.6" fill="#fff080" opacity="0.6" filter="url(#a08)"/>
<ellipse cx="418.0" cy="164.0" rx="1.0" ry="1.0" fill="#9a7a10" opacity="0.6" filter="url(#a08)"/>
<ellipse cx="420.0" cy="172.0" rx="0.9" ry="0.9" fill="#9a7a10" opacity="0.5" filter="url(#a08)"/>
<ellipse cx="148.0" cy="251.0" rx="1.4" ry="1.4" fill="#fff080" opacity="0.5" filter="url(#a08)"/>
<ellipse cx="178.0" cy="224.0" rx="1.4" ry="1.4" fill="#fff080" opacity="0.5" filter="url(#a08)"/>
<ellipse cx="399.0" cy="10.0" rx="2.2" ry="2.2" fill="#fff48a" opacity="0.75" filter="url(#a08)"/>
<ellipse cx="398.5" cy="15.5" rx="1.7" ry="1.7" fill="#fff48a" opacity="0.75" filter="url(#a08)"/>
<ellipse cx="404.0" cy="27.0" rx="1.8" ry="1.8" fill="#fff48a" opacity="0.75" filter="url(#a08)"/>
<ellipse cx="409.0" cy="31.0" rx="1.3" ry="1.3" fill="#fff48a" opacity="0.75" filter="url(#a08)"/>
<ellipse cx="414.0" cy="36.0" rx="2.0" ry="2.0" fill="#fff48a" opacity="0.75" filter="url(#a08)"/>
<ellipse cx="418.0" cy="43.0" rx="1.6" ry="1.6" fill="#fff48a" opacity="0.75" filter="url(#a08)"/>
<ellipse cx="421.0" cy="50.0" rx="1.4" ry="1.4" fill="#fff48a" opacity="0.75" filter="url(#a08)"/>
<ellipse cx="403.0" cy="87.0" rx="2.0" ry="2.0" fill="#fff48a" opacity="0.75" filter="url(#a08)"/>
<ellipse cx="408.0" cy="91.0" rx="1.5" ry="1.5" fill="#fff48a" opacity="0.75" filter="url(#a08)"/>
<ellipse cx="429.0" cy="96.0" rx="2.0" ry="2.0" fill="#fff48a" opacity="0.75" filter="url(#a08)"/>
<ellipse cx="433.0" cy="104.0" rx="2.0" ry="2.0" fill="#fff48a" opacity="0.75" filter="url(#a08)"/>
<ellipse cx="427.0" cy="109.0" rx="1.5" ry="1.5" fill="#fff48a" opacity="0.75" filter="url(#a08)"/>
<ellipse cx="440.0" cy="150.0" rx="1.5" ry="1.5" fill="#fff48a" opacity="0.75" filter="url(#a08)"/>
<ellipse cx="452.0" cy="157.0" rx="1.5" ry="1.5" fill="#fff48a" opacity="0.75" filter="url(#a08)"/>
<ellipse cx="396.0" cy="60.0" rx="1.5" ry="1.5" fill="#fff48a" opacity="0.75" filter="url(#a08)"/>
<ellipse cx="392.0" cy="66.0" rx="1.3" ry="1.3" fill="#fff48a" opacity="0.75" filter="url(#a08)"/>
<ellipse cx="448.0" cy="42.0" rx="2.0" ry="2.0" fill="#fff48a" opacity="0.75" filter="url(#a08)"/>
<ellipse cx="455.0" cy="45.0" rx="1.6" ry="1.6" fill="#fff48a" opacity="0.75" filter="url(#a08)"/>
<ellipse cx="484.0" cy="41.0" rx="1.8" ry="1.8" fill="#fff48a" opacity="0.75" filter="url(#a08)"/>
<ellipse cx="160.0" cy="203.0" rx="1.3" ry="1.3" fill="#fff48a" opacity="0.75" filter="url(#a08)"/>
<ellipse cx="232.0" cy="200.0" rx="1.4" ry="1.4" fill="#fff48a" opacity="0.75" filter="url(#a08)"/>
<ellipse cx="472.0" cy="197.0" rx="1.5" ry="1.5" fill="#fff48a" opacity="0.75" filter="url(#a08)"/>
<ellipse cx="486.0" cy="190.0" rx="1.6" ry="1.6" fill="#fff48a" opacity="0.75" filter="url(#a08)"/>
<ellipse cx="496.0" cy="187.0" rx="1.4" ry="1.4" fill="#fff48a" opacity="0.75" filter="url(#a08)"/>
<ellipse cx="512.0" cy="230.0" rx="1.5" ry="1.5" fill="#fff48a" opacity="0.75" filter="url(#a08)"/>
<ellipse cx="505.0" cy="236.0" rx="1.3" ry="1.3" fill="#fff48a" opacity="0.75" filter="url(#a08)"/>
<ellipse cx="480.0" cy="232.0" rx="1.5" ry="1.5" fill="#fff48a" opacity="0.75" filter="url(#a08)"/>
<ellipse cx="488.0" cy="236.0" rx="1.4" ry="1.4" fill="#fff48a" opacity="0.75" filter="url(#a08)"/>
<line x1="508" y1="307.1" x2="552" y2="307.1" stroke="#2a1c04" stroke-width="0.9" opacity="0.85"/>
</g>
<text transform="translate(37.3,68.6) scale(1.06,1)" font-size="14.7" fill="#1c1206" stroke="#1c1206" stroke-width="0.3">P1</text>
<text transform="translate(127.5,69.0) scale(1.06,1)" font-size="14.7" fill="#1c1206" stroke="#1c1206" stroke-width="0.3">P2</text>
<text transform="translate(180.7,71.8) scale(1.06,1)" font-size="14.7" fill="#1c1206" stroke="#1c1206" stroke-width="0.3">P3</text>
<text transform="translate(243.1,86.1) scale(1.06,1)" font-size="14.7" fill="#1c1206" stroke="#1c1206" stroke-width="0.3">P4</text>
<text transform="translate(299.4,73.0) scale(1.06,1)" font-size="14.7" fill="#1c1206" stroke="#1c1206" stroke-width="0.3">P5</text>
<text transform="translate(359.2,75.0) scale(1.06,1)" font-size="14.7" fill="#1c1206" stroke="#1c1206" stroke-width="0.3">P6</text>
<text transform="translate(404.6,76.3) scale(1.06,1)" font-size="14.7" fill="#1c1206" stroke="#1c1206" stroke-width="0.3">P7</text>
<text transform="translate(464.9,39.8) scale(1.06,1)" font-size="14.7" fill="#1c1206" stroke="#1c1206" stroke-width="0.3">P8</text>
<text transform="translate(520.5,82.2) scale(1.06,1)" font-size="14.7" fill="#1c1206" stroke="#1c1206" stroke-width="0.3">P9</text>
<text transform="translate(19.5,102.6) scale(1.06,1)" font-size="14.7" fill="#1c1206" stroke="#1c1206" stroke-width="0.3">P10</text>
<text transform="translate(70.6,110.5) scale(1.06,1)" font-size="14.7" fill="#1c1206" stroke="#1c1206" stroke-width="0.3">P11</text>
<text transform="translate(128.3,113.1) scale(1.06,1)" font-size="14.7" fill="#1c1206" stroke="#1c1206" stroke-width="0.3">P12</text>
<text transform="translate(195.7,109.9) scale(1.06,1)" font-size="14.7" fill="#1c1206" stroke="#1c1206" stroke-width="0.3">P13</text>
<text transform="translate(245.8,115.7) scale(1.06,1)" font-size="14.7" fill="#1c1206" stroke="#1c1206" stroke-width="0.3">P14</text>
<text transform="translate(306.0,113.5) scale(1.06,1)" font-size="14.7" fill="#1c1206" stroke="#1c1206" stroke-width="0.3">P15</text>
<text transform="translate(367.6,105.1) scale(1.06,1)" font-size="14.7" fill="#1c1206" stroke="#1c1206" stroke-width="0.3">P16</text>
<text transform="translate(439.7,105.6) scale(1.06,1)" font-size="14.7" fill="#1c1206" stroke="#1c1206" stroke-width="0.3">P17</text>
<text transform="translate(487.7,111.7) scale(1.06,1)" font-size="14.7" fill="#1c1206" stroke="#1c1206" stroke-width="0.3">P18</text>
<text transform="translate(20.3,193.6) scale(1.06,1)" font-size="14.7" fill="#1c1206" stroke="#1c1206" stroke-width="0.3">P19</text>
<text transform="translate(75.3,191.7) scale(1.06,1)" font-size="14.7" fill="#1c1206" stroke="#1c1206" stroke-width="0.3">P20</text>
<text transform="translate(130.9,191.7) scale(1.06,1)" font-size="14.7" fill="#1c1206" stroke="#1c1206" stroke-width="0.3">P21</text>
<text transform="translate(180.0,194.9) scale(1.06,1)" font-size="14.7" fill="#1c1206" stroke="#1c1206" stroke-width="0.3">P22</text>
<text transform="translate(227.9,194.9) scale(1.06,1)" font-size="14.7" fill="#1c1206" stroke="#1c1206" stroke-width="0.3">P23</text>
<text transform="translate(288.4,198.9) scale(1.06,1)" font-size="14.7" fill="#1c1206" stroke="#1c1206" stroke-width="0.3">P24</text>
<text transform="translate(345.3,191.4) scale(1.06,1)" font-size="14.7" fill="#1c1206" stroke="#1c1206" stroke-width="0.3">P25</text>
<text transform="translate(395.9,201.0) scale(1.06,1)" font-size="14.7" fill="#1c1206" stroke="#1c1206" stroke-width="0.3">P26</text>
<text transform="translate(437.9,192.7) scale(1.06,1)" font-size="14.7" fill="#1c1206" stroke="#1c1206" stroke-width="0.3">P27</text>
<text transform="translate(479.0,181.7) scale(1.06,1)" font-size="14.7" fill="#1c1206" stroke="#1c1206" stroke-width="0.3">P28</text>
<text transform="translate(518.6,187.2) scale(1.06,1)" font-size="14.7" fill="#1c1206" stroke="#1c1206" stroke-width="0.3">P29</text>
<text transform="translate(24.2,249.2) scale(1.06,1)" font-size="14.7" fill="#1c1206" stroke="#1c1206" stroke-width="0.3">P30</text>
<text transform="translate(75.3,259.7) scale(1.06,1)" font-size="14.7" fill="#1c1206" stroke="#1c1206" stroke-width="0.3">P31</text>
<text transform="translate(118.6,271.0) scale(1.06,1)" font-size="14.7" fill="#1c1206" stroke="#1c1206" stroke-width="0.3">P32</text>
<text transform="translate(161.1,271.5) scale(1.06,1)" font-size="14.7" fill="#1c1206" stroke="#1c1206" stroke-width="0.3">P33</text>
<text transform="translate(205.6,276.1) scale(1.06,1)" font-size="14.7" fill="#1c1206" stroke="#1c1206" stroke-width="0.3">P34</text>
<text transform="translate(249.4,271.0) scale(1.06,1)" font-size="14.7" fill="#1c1206" stroke="#1c1206" stroke-width="0.3">P35</text>
<text transform="translate(297.6,264.9) scale(1.06,1)" font-size="14.7" fill="#1c1206" stroke="#1c1206" stroke-width="0.3">P36</text>
<text transform="translate(343.5,263.8) scale(1.06,1)" font-size="14.7" fill="#1c1206" stroke="#1c1206" stroke-width="0.3">P37</text>
<text transform="translate(392.0,270.4) scale(1.06,1)" font-size="14.7" fill="#1c1206" stroke="#1c1206" stroke-width="0.3">P38</text>
<text transform="translate(442.6,262.5) scale(1.06,1)" font-size="14.7" fill="#1c1206" stroke="#1c1206" stroke-width="0.3">P39</text>
<text transform="translate(486.4,263.1) scale(1.06,1)" font-size="14.7" fill="#1c1206" stroke="#1c1206" stroke-width="0.3">P40</text>
<text transform="translate(523.1,258.4) scale(1.06,1)" font-size="14.7" fill="#1c1206" stroke="#1c1206" stroke-width="0.3">P41</text>
<text x="14.8" y="23.6" font-size="21.5" fill="#1c1206" stroke="#1c1206" stroke-width="0.35">a</text>
<rect x="21.3" y="282.7" width="53.5" height="3.7" fill="#140c04"/>
<text transform="translate(48.1,299.9) scale(1.08,1)" font-size="12.4" font-weight="bold" fill="#1c1206" text-anchor="middle">200 µm</text>
</g>
<g id="pb">
<defs>
<filter id="b4" x="-60%" y="-60%" width="220%" height="220%"><feGaussianBlur stdDeviation="4.2"/></filter>
<filter id="b2" x="-60%" y="-60%" width="220%" height="220%"><feGaussianBlur stdDeviation="2.6"/></filter>
<filter id="b3" x="-80%" y="-80%" width="260%" height="260%"><feGaussianBlur stdDeviation="3.1"/></filter>
<filter id="b15" x="-60%" y="-60%" width="220%" height="220%"><feGaussianBlur stdDeviation="2.0"/></filter>
<clipPath id="cb"><rect x="554.4" y="8" width="517.4" height="299.8"/></clipPath>
</defs>
<rect x="552" y="8" width="3" height="300" fill="#fdf6d8"/>
<rect x="554.2" y="7.8" width="517.6" height="300" fill="#000"/>
<g clip-path="url(#cb)">
<ellipse cx="588.0" cy="37.0" rx="27.0" ry="24.0" fill="#0b8a10" filter="url(#b4)" opacity="0.6"/>
<path d="M566.8,52.4 L565.4,42.7 L570.3,31.6 L578.6,21.9 L588.3,17.7 L598,23.3 L606.4,30.2 L610.6,37.9 L607,46.2 L596.7,49.7 L582.8,49.7 L573,54.5 Z" fill="#14c090" stroke="#14c090" stroke-width="1.5" opacity="0.75" filter="url(#b2)"/>
<path d="M566.8,52.4 L565.4,42.7 L570.3,31.6 L578.6,21.9 L588.3,17.7 L598,23.3 L606.4,30.2 L610.6,37.9 L607,46.2 L596.7,49.7 L582.8,49.7 L573,54.5 Z" transform="translate(588 37) scale(0.9) translate(-588 -37)" fill="#1e8cff" filter="url(#b2)"/>
<ellipse cx="587.0" cy="33.0" rx="8.0" ry="6.0" fill="#1a80ff" filter="url(#b2)"/>
<ellipse cx="657.0" cy="39.0" rx="30.0" ry="28.0" fill="#0b8a10" filter="url(#b4)" opacity="0.6"/>
<path d="M632.8,44.1 L638.3,30.2 L649.4,19.1 L660.6,15.6 L673.1,17.7 L680,27.4 L678.6,35.8 L682.1,41.3 L677.2,48.3 L666.1,49.7 L657.8,53.8 L655,62.2 L646.7,63.6 L636.9,58 L632.1,49.7 Z" fill="#14c090" stroke="#14c090" stroke-width="1.5" opacity="0.75" filter="url(#b2)"/>
<path d="M632.8,44.1 L638.3,30.2 L649.4,19.1 L660.6,15.6 L673.1,17.7 L680,27.4 L678.6,35.8 L682.1,41.3 L677.2,48.3 L666.1,49.7 L657.8,53.8 L655,62.2 L646.7,63.6 L636.9,58 L632.1,49.7 Z" transform="translate(657 39) scale(0.9) translate(-657 -39)" fill="#1e8cff" filter="url(#b2)"/>
<ellipse cx="661.0" cy="31.0" rx="10.0" ry="8.0" fill="#1a80ff" filter="url(#b2)"/>
<ellipse cx="725.0" cy="46.9" rx="16.1" ry="19.1" fill="#0b8a10" filter="url(#b4)" opacity="0.5"/>
<ellipse cx="725.0" cy="46.9" rx="11.6" ry="14.3" fill="#14c090" filter="url(#b2)" opacity="0.55"/>
<ellipse cx="725.0" cy="46.9" rx="9.6" ry="12.3" fill="#1e9cee" filter="url(#b3)"/>
<ellipse cx="780.3" cy="43.6" rx="23.1" ry="30.5" fill="#0b8a10" filter="url(#b4)" opacity="0.5"/>
<ellipse cx="780.3" cy="43.6" rx="17.9" ry="24.6" fill="#14c090" filter="url(#b2)" opacity="0.75"/>
<ellipse cx="780.3" cy="43.6" rx="15.9" ry="22.6" fill="#1e80ff" filter="url(#b2)"/>
<ellipse cx="783.3" cy="29.6" rx="8.0" ry="7.5" fill="#4a62ff" filter="url(#b15)"/>
<ellipse cx="831.2" cy="51.8" rx="17.7" ry="16.5" fill="#0b8a10" filter="url(#b4)" opacity="0.5"/>
<ellipse cx="831.2" cy="51.8" rx="13.1" ry="12.0" fill="#14c090" filter="url(#b2)" opacity="0.75"/>
<ellipse cx="831.2" cy="51.8" rx="11.1" ry="10.0" fill="#24a8f0" filter="url(#b2)"/>
<ellipse cx="828.7" cy="48.3" rx="6.5" ry="5.5" fill="#7060ff" filter="url(#b15)"/>
<ellipse cx="889.8" cy="53.5" rx="15.5" ry="15.0" fill="#0b8a10" filter="url(#b4)" opacity="0.4"/>
<ellipse cx="889.8" cy="53.5" rx="11.1" ry="10.7" fill="#14c090" filter="url(#b2)" opacity="0.75"/>
<ellipse cx="889.8" cy="53.5" rx="9.1" ry="8.7" fill="#b050f4" filter="url(#b2)"/>
<ellipse cx="883.3" cy="53.5" rx="3.0" ry="4.5" fill="#3080ff" filter="url(#b15)"/>
<ellipse cx="927.2" cy="52.8" rx="15.0" ry="15.5" fill="#0b8a10" filter="url(#b4)" opacity="0.4"/>
<ellipse cx="927.2" cy="52.8" rx="7.5" ry="7.8" fill="#14c090" filter="url(#b2)" opacity="0.75"/>
<ellipse cx="927.2" cy="52.8" rx="5.5" ry="5.8" fill="#0e8a80" filter="url(#b2)"/>
<ellipse cx="985.5" cy="62.3" rx="22.8" ry="21.7" fill="#0b8a10" filter="url(#b4)" opacity="0.72"/>
<ellipse cx="985.5" cy="62.3" rx="17.7" ry="16.7" fill="#14c090" filter="url(#b2)" opacity="0.75"/>
<ellipse cx="985.5" cy="62.3" rx="15.7" ry="14.7" fill="#1e8cff" filter="url(#b2)"/>
<ellipse cx="1040.8" cy="53.9" rx="16.5" ry="16.0" fill="#0b8a10" filter="url(#b4)" opacity="0.5"/>
<ellipse cx="1040.8" cy="53.9" rx="12.0" ry="11.5" fill="#14c090" filter="url(#b2)" opacity="0.75"/>
<ellipse cx="1040.8" cy="53.9" rx="10.0" ry="9.5" fill="#1e90e8" filter="url(#b2)"/>
<ellipse cx="573.5" cy="121.8" rx="18.8" ry="21.1" fill="#0b8a10" filter="url(#b4)" opacity="0.5"/>
<ellipse cx="573.5" cy="121.8" rx="14.1" ry="16.1" fill="#14c090" filter="url(#b2)" opacity="0.75"/>
<ellipse cx="573.5" cy="121.8" rx="12.1" ry="14.1" fill="#2a80ff" filter="url(#b2)"/>
<ellipse cx="573.0" cy="121.8" rx="9.0" ry="11.0" fill="#8c5cff" filter="url(#b15)"/>
<ellipse cx="623.8" cy="126.5" rx="15.9" ry="22.5" fill="#0b8a10" filter="url(#b4)" opacity="0.5" transform="rotate(-8 623.8 126.5)"/>
<ellipse cx="623.8" cy="126.5" rx="11.5" ry="17.4" fill="#14c090" filter="url(#b2)" opacity="0.75" transform="rotate(-8 623.8 126.5)"/>
<ellipse cx="623.8" cy="126.5" rx="9.5" ry="15.4" fill="#22a4ff" filter="url(#b2)" transform="rotate(-8 623.8 126.5)"/>
<ellipse cx="626.3" cy="136.5" rx="4.5" ry="6.0" fill="#6a6cff" filter="url(#b15)" transform="rotate(-8 626.3 136.5)"/>
<ellipse cx="679.4" cy="134.0" rx="21.0" ry="19.5" fill="#0b8a10" filter="url(#b4)" opacity="0.5"/>
<ellipse cx="679.4" cy="134.0" rx="16.1" ry="14.7" fill="#14c090" filter="url(#b2)" opacity="0.75"/>
<ellipse cx="679.4" cy="134.0" rx="14.0" ry="12.7" fill="#1e8cff" filter="url(#b2)"/>
<ellipse cx="730.0" cy="129.0" rx="17.0" ry="23.5" fill="#0b8a10" filter="url(#b4)" opacity="0.45"/>
<ellipse cx="730.0" cy="129.0" rx="10.9" ry="16.0" fill="#14c090" filter="url(#b2)" opacity="0.35"/>
<ellipse cx="730.0" cy="129.0" rx="8.9" ry="14.0" fill="#1246f4" filter="url(#b3)"/>
<ellipse cx="726.0" cy="132.0" rx="3.5" ry="6.0" fill="#1880e8" filter="url(#b15)"/>
<ellipse cx="787.5" cy="124.5" rx="17.0" ry="17.0" fill="#0e9a12" filter="url(#b4)" opacity="0.75"/>
<ellipse cx="787.5" cy="124.3" rx="14.1" ry="16.1" fill="#0b8a10" filter="url(#b4)" opacity="0.3"/>
<ellipse cx="787.5" cy="124.3" rx="9.8" ry="11.6" fill="#14c090" filter="url(#b2)" opacity="0.75"/>
<ellipse cx="787.5" cy="124.3" rx="7.8" ry="9.6" fill="#24b8f6" filter="url(#b2)"/>
<ellipse cx="845.2" cy="124.3" rx="22.2" ry="16.5" fill="#0b8a10" filter="url(#b4)" opacity="0.47"/>
<ellipse cx="845.2" cy="124.3" rx="13.6" ry="9.6" fill="#14c090" filter="url(#b2)" opacity="0.75"/>
<ellipse cx="845.2" cy="124.3" rx="11.6" ry="7.6" fill="#1098b4" filter="url(#b2)"/>
<ellipse cx="900.2" cy="119.5" rx="14.8" ry="15.3" fill="#0b8a10" filter="url(#b4)" opacity="0.61"/>
<ellipse cx="900.2" cy="119.5" rx="10.5" ry="10.9" fill="#14c090" filter="url(#b2)" opacity="0.75"/>
<ellipse cx="900.2" cy="119.5" rx="8.5" ry="8.9" fill="#16a4dc" filter="url(#b2)"/>
<ellipse cx="956.0" cy="118.0" rx="24.0" ry="25.0" fill="#16c016" filter="url(#b4)"/>
<ellipse cx="958.0" cy="119.0" rx="17.5" ry="18.5" fill="#b4ff98" filter="url(#b2)"/>
<ellipse cx="954.5" cy="119.0" rx="15.0" ry="16.5" fill="#ffd0ec" filter="url(#b2)"/>
<ellipse cx="963.0" cy="124.0" rx="6.0" ry="8.0" fill="#fffbe8" filter="url(#b15)" opacity="0.9"/>
<ellipse cx="945.5" cy="108.0" rx="8.0" ry="8.5" fill="#5a9cff" filter="url(#b2)"/>
<ellipse cx="950.0" cy="113.0" rx="6.0" ry="6.0" fill="#c8b4ff" filter="url(#b2)" opacity="0.8"/>
<ellipse cx="955.0" cy="122.0" rx="8.0" ry="8.0" fill="#ffb8e0" filter="url(#b15)"/>
<ellipse cx="1028.5" cy="133.5" rx="24.5" ry="25.5" fill="#16c016" filter="url(#b4)"/>
<ellipse cx="1029.0" cy="133.5" rx="18.0" ry="19.5" fill="#c4ffb8" filter="url(#b2)"/>
<ellipse cx="1027.0" cy="129.0" rx="11.0" ry="13.0" fill="#8cecf8" filter="url(#b2)"/>
<ellipse cx="1016.8" cy="126.5" rx="6.2" ry="11.0" fill="#c4a2ff" filter="url(#b15)"/>
<ellipse cx="1036.0" cy="143.0" rx="8.5" ry="8.5" fill="#f6fff4" filter="url(#b15)" opacity="0.95"/>
<ellipse cx="1040.0" cy="132.0" rx="4.0" ry="7.0" fill="#e8ffe0" filter="url(#b15)" opacity="0.8"/>
<ellipse cx="578.2" cy="206.0" rx="18.3" ry="18.9" fill="#0b8a10" filter="url(#b4)" opacity="0.5"/>
<ellipse cx="578.2" cy="206.0" rx="13.6" ry="14.2" fill="#14c090" filter="url(#b2)" opacity="0.75"/>
<ellipse cx="578.2" cy="206.0" rx="11.6" ry="12.2" fill="#1e90ff" filter="url(#b2)"/>
<ellipse cx="630.5" cy="201.0" rx="16.3" ry="17.5" fill="#0b8a10" filter="url(#b4)" opacity="0.5"/>
<ellipse cx="630.5" cy="201.0" rx="11.8" ry="12.9" fill="#14c090" filter="url(#b2)" opacity="0.75"/>
<ellipse cx="630.5" cy="201.0" rx="9.8" ry="10.9" fill="#3a7cff" filter="url(#b2)"/>
<ellipse cx="630.5" cy="201.0" rx="6.0" ry="7.0" fill="#7a5cff" filter="url(#b15)"/>
<ellipse cx="682.8" cy="198.3" rx="15.5" ry="17.5" fill="#0b8a10" filter="url(#b4)" opacity="0.5"/>
<ellipse cx="682.8" cy="198.3" rx="11.1" ry="12.9" fill="#14c090" filter="url(#b2)" opacity="0.75"/>
<ellipse cx="682.8" cy="198.3" rx="9.1" ry="10.9" fill="#1e84ff" filter="url(#b2)"/>
<ellipse cx="729.5" cy="210.5" rx="15.7" ry="16.5" fill="#0b8a10" filter="url(#b4)" opacity="0.5"/>
<ellipse cx="729.5" cy="210.5" rx="11.3" ry="12.0" fill="#14c090" filter="url(#b2)" opacity="0.75"/>
<ellipse cx="729.5" cy="210.5" rx="9.3" ry="10.0" fill="#3090f0" filter="url(#b2)"/>
<ellipse cx="732.0" cy="211.3" rx="7.6" ry="8.6" fill="#ac58f8" filter="url(#b15)"/>
<ellipse cx="770.8" cy="209.4" rx="19.5" ry="24.5" fill="#16c016" filter="url(#b4)"/>
<ellipse cx="771.0" cy="209.5" rx="15.5" ry="19.5" fill="#7cf060" filter="url(#b2)"/>
<ellipse cx="771.0" cy="209.8" rx="13.4" ry="17.0" fill="#f2ffb8" filter="url(#b2)"/>
<ellipse cx="770.5" cy="214.0" rx="6.0" ry="7.0" fill="#ffd8c0" filter="url(#b15)" opacity="0.9"/>
<ellipse cx="833.4" cy="215.3" rx="19.5" ry="17.5" fill="#0b8a10" filter="url(#b4)" opacity="0.5"/>
<ellipse cx="833.4" cy="215.3" rx="14.7" ry="12.9" fill="#14c090" filter="url(#b2)" opacity="0.75"/>
<ellipse cx="833.4" cy="215.3" rx="12.7" ry="10.9" fill="#1e90ff" filter="url(#b2)"/>
<ellipse cx="886.5" cy="205.8" rx="15.0" ry="15.0" fill="#12a814" filter="url(#b4)" opacity="0.9"/>
<ellipse cx="886.5" cy="205.6" rx="14.1" ry="13.5" fill="#14b414" filter="url(#b4)" opacity="0.5"/>
<ellipse cx="886.5" cy="205.6" rx="8.9" ry="8.4" fill="#40e040" filter="url(#b2)" opacity="0.9"/>
<ellipse cx="886.5" cy="205.6" rx="6.9" ry="6.4" fill="#c4ff8c" filter="url(#b2)"/>
<ellipse cx="933.4" cy="210.6" rx="13.5" ry="14.7" fill="#0b8a10" filter="url(#b4)" opacity="0.6"/>
<ellipse cx="933.4" cy="210.6" rx="9.3" ry="10.4" fill="#12a050" filter="url(#b2)" opacity="0.6"/>
<ellipse cx="933.4" cy="210.6" rx="7.3" ry="8.4" fill="#18ac7c" filter="url(#b2)"/>
<ellipse cx="966.3" cy="207.9" rx="14.1" ry="16.1" fill="#0b8a10" filter="url(#b4)" opacity="0.68"/>
<ellipse cx="966.3" cy="207.9" rx="9.8" ry="11.6" fill="#14b050" filter="url(#b2)" opacity="0.7"/>
<ellipse cx="966.3" cy="207.9" rx="7.8" ry="9.6" fill="#20d8a0" filter="url(#b2)"/>
<ellipse cx="1013.0" cy="204.0" rx="18.0" ry="24.0" fill="#0b8a10" filter="url(#b4)" opacity="0.7"/>
<ellipse cx="1011.5" cy="193.5" rx="8.5" ry="10.5" fill="#1238ff" filter="url(#b3)"/>
<ellipse cx="1002.0" cy="206.0" rx="5.5" ry="5.5" fill="#1236f0" filter="url(#b3)"/>
<ellipse cx="1009.0" cy="204.0" rx="6.5" ry="6.5" fill="#1444f0" filter="url(#b3)"/>
<ellipse cx="1017.0" cy="212.8" rx="7.5" ry="7.5" fill="#1eb4a0" filter="url(#b3)"/>
<ellipse cx="1051.7" cy="198.8" rx="14.1" ry="16.5" fill="#0b8a10" filter="url(#b4)" opacity="0.5" transform="rotate(-20 1051.7 198.8)"/>
<ellipse cx="1051.7" cy="198.8" rx="9.8" ry="12.0" fill="#14c090" filter="url(#b2)" opacity="0.75" transform="rotate(-20 1051.7 198.8)"/>
<ellipse cx="1051.7" cy="198.8" rx="7.8" ry="10.0" fill="#1ea4d0" filter="url(#b2)" transform="rotate(-20 1051.7 198.8)"/>
<ellipse cx="935.0" cy="167.0" rx="9.0" ry="9.0" fill="#0a5a0a" filter="url(#b4)" opacity="0.8"/>
<ellipse cx="583.4" cy="254.6" rx="18.3" ry="20.2" fill="#14b414" filter="url(#b4)" opacity="0.85"/>
<ellipse cx="583.4" cy="254.6" rx="10.3" ry="11.6" fill="#38d838" filter="url(#b2)" opacity="0.9"/>
<ellipse cx="583.4" cy="254.6" rx="8.3" ry="9.6" fill="#b4ff80" filter="url(#b2)"/>
<ellipse cx="626.7" cy="266.5" rx="13.5" ry="14.3" fill="#0b8a10" filter="url(#b4)" opacity="0.43"/>
<ellipse cx="626.7" cy="266.5" rx="9.3" ry="10.0" fill="#14c090" filter="url(#b2)" opacity="0.35"/>
<ellipse cx="626.7" cy="266.5" rx="7.3" ry="8.0" fill="#1062a8" filter="url(#b3)"/>
<ellipse cx="667.3" cy="268.4" rx="12.3" ry="13.5" fill="#0b8a10" filter="url(#b4)" opacity="0.36"/>
<ellipse cx="667.3" cy="268.4" rx="8.2" ry="9.3" fill="#14c090" filter="url(#b2)" opacity="0.25"/>
<ellipse cx="667.3" cy="268.4" rx="6.2" ry="7.3" fill="#0e54a2" filter="url(#b3)"/>
<ellipse cx="695.5" cy="276.8" rx="11.7" ry="15.5" fill="#0b8a10" filter="url(#b4)" opacity="0.43"/>
<ellipse cx="695.5" cy="276.8" rx="7.7" ry="11.1" fill="#14c090" filter="url(#b2)" opacity="0.35"/>
<ellipse cx="695.5" cy="276.8" rx="5.7" ry="9.1" fill="#1070a8" filter="url(#b3)"/>
<ellipse cx="740.7" cy="281.5" rx="13.5" ry="14.7" fill="#0b8a10" filter="url(#b4)" opacity="0.5"/>
<ellipse cx="740.7" cy="281.5" rx="9.3" ry="10.4" fill="#14c090" filter="url(#b2)" opacity="0.35"/>
<ellipse cx="740.7" cy="281.5" rx="7.3" ry="8.4" fill="#108c94" filter="url(#b3)"/>
<ellipse cx="795.2" cy="275.0" rx="11.7" ry="14.7" fill="#0b8a10" filter="url(#b4)" opacity="0.4"/>
<ellipse cx="795.2" cy="275.0" rx="7.7" ry="10.4" fill="#14c090" filter="url(#b2)" opacity="0.3"/>
<ellipse cx="795.2" cy="275.0" rx="5.7" ry="8.4" fill="#1064b8" filter="url(#b3)"/>
<ellipse cx="831.4" cy="267.0" rx="11.7" ry="14.7" fill="#0b8a10" filter="url(#b4)" opacity="0.4"/>
<ellipse cx="831.4" cy="267.0" rx="7.7" ry="10.4" fill="#14c090" filter="url(#b2)" opacity="0.3"/>
<ellipse cx="831.4" cy="267.0" rx="5.7" ry="8.4" fill="#1468d8" filter="url(#b3)"/>
<ellipse cx="872.8" cy="270.0" rx="14.5" ry="15.1" fill="#0b8a10" filter="url(#b4)" opacity="0.6"/>
<ellipse cx="872.8" cy="270.0" rx="10.2" ry="10.7" fill="#14c090" filter="url(#b2)" opacity="0.5"/>
<ellipse cx="872.8" cy="270.0" rx="8.2" ry="8.7" fill="#1a94c8" filter="url(#b3)"/>
<ellipse cx="916.8" cy="278.3" rx="18.0" ry="16.5" fill="#0b8a10" filter="url(#b4)" opacity="0.5"/>
<ellipse cx="916.8" cy="278.3" rx="13.3" ry="12.0" fill="#14c090" filter="url(#b2)" opacity="0.4"/>
<ellipse cx="916.8" cy="278.3" rx="11.3" ry="10.0" fill="#1a8ab4" filter="url(#b3)"/>
<ellipse cx="925.8" cy="283.8" rx="2.5" ry="2.5" fill="#2060e0" filter="url(#b15)"/>
<ellipse cx="978.8" cy="269.3" rx="15.5" ry="15.3" fill="#0b8a10" filter="url(#b4)" opacity="0.62"/>
<ellipse cx="978.8" cy="269.3" rx="11.1" ry="10.9" fill="#14c090" filter="url(#b2)" opacity="0.75"/>
<ellipse cx="978.8" cy="269.3" rx="9.1" ry="8.9" fill="#2a90ff" filter="url(#b2)"/>
<ellipse cx="978.8" cy="269.3" rx="4.0" ry="4.0" fill="#4a80ff" filter="url(#b15)"/>
<ellipse cx="1012.0" cy="267.6" rx="13.1" ry="17.5" fill="#0b8a10" filter="url(#b4)" opacity="0.45"/>
<ellipse cx="1012.0" cy="267.6" rx="8.9" ry="12.9" fill="#14c090" filter="url(#b2)" opacity="0.75"/>
<ellipse cx="1012.0" cy="267.6" rx="6.9" ry="10.9" fill="#2084ff" filter="url(#b2)"/>
<ellipse cx="1051.0" cy="267.0" rx="14.3" ry="13.0" fill="#0b8a10" filter="url(#b4)" opacity="0.22"/>
<ellipse cx="1051.0" cy="267.0" rx="10.0" ry="8.8" fill="#14c090" filter="url(#b2)" opacity="0.75"/>
<ellipse cx="1051.0" cy="267.0" rx="8.0" ry="6.9" fill="#3828ff" filter="url(#b2)"/>
</g>
<rect x="960" y="11.2" width="106.8" height="27.6" fill="#bfbfbf"/>
<text x="960.0" y="32" font-size="21.6" textLength="22.6" lengthAdjust="spacingAndGlyphs" fill="#3a3ac4" stroke="#3a3ac4" stroke-width="0.45">Ca</text>
<text x="992.6" y="32" font-size="21.6" textLength="15.4" lengthAdjust="spacingAndGlyphs" fill="#f2e86a" stroke="#f2e86a" stroke-width="0.45">Ti</text>
<text x="1017.4" y="32" font-size="21.6" textLength="21.2" lengthAdjust="spacingAndGlyphs" fill="#74dcdc" stroke="#74dcdc" stroke-width="0.45">Fe</text>
<text x="1047.8" y="32" font-size="21.6" textLength="18.4" lengthAdjust="spacingAndGlyphs" fill="#d264d2" stroke="#d264d2" stroke-width="0.45">Zr</text>
<line x1="991.5" y1="16" x2="983.7" y2="35.8" stroke="#141414" stroke-width="2.5"/>
<line x1="1016.9" y1="16" x2="1009.1" y2="35.8" stroke="#141414" stroke-width="2.5"/>
<line x1="1047.8" y1="16" x2="1040.0" y2="35.8" stroke="#141414" stroke-width="2.5"/>
<text x="560.6" y="24.2" font-size="21" fill="#fff">b</text>
<text transform="translate(864.4,86.8) scale(1.02,1)" font-size="15.2" fill="#f4f4f4">P6</text>
<text transform="translate(961,158.4) scale(1.02,1)" font-size="15.6" fill="#f4f4f4">P17</text>
<text transform="translate(573.6,188.4) scale(1.02,1)" font-size="15.6" fill="#f4f4f4">P19</text>
<rect x="566.4" y="280.1" width="50" height="4" fill="#fff"/>
<text transform="translate(591.3,296.3) scale(1.08,1)" font-size="11.8" font-weight="bold" fill="#fff" text-anchor="middle">200 µm</text>
</g>
<g id="pc">
<rect x="14" y="313.1" width="524.1" height="255.9" fill="#fff" stroke="#c6c7c6" stroke-width="1.5"/>
<text x="20.9" y="334.5" font-size="21.5" fill="#111" stroke="#111" stroke-width="0.35">c</text>
<line x1="57.5" y1="382.5" x2="57.5" y2="524.5" stroke="#7c7c7c" stroke-width="0.9" stroke-dasharray="1.3 2.1"/>
<line x1="110.3" y1="382.5" x2="110.3" y2="524.5" stroke="#7c7c7c" stroke-width="0.9" stroke-dasharray="1.3 2.1"/>
<line x1="118.0" y1="382.5" x2="118.0" y2="524.5" stroke="#7c7c7c" stroke-width="0.9" stroke-dasharray="1.3 2.1"/>
<line x1="130.0" y1="382.5" x2="130.0" y2="524.5" stroke="#7c7c7c" stroke-width="0.9" stroke-dasharray="1.3 2.1"/>
<line x1="140.1" y1="382.5" x2="140.1" y2="524.5" stroke="#7c7c7c" stroke-width="0.9" stroke-dasharray="1.3 2.1"/>
<line x1="163.4" y1="382.5" x2="163.4" y2="524.5" stroke="#7c7c7c" stroke-width="0.9" stroke-dasharray="1.3 2.1"/>
<line x1="191.3" y1="382.5" x2="191.3" y2="524.5" stroke="#7c7c7c" stroke-width="0.9" stroke-dasharray="1.3 2.1"/>
<line x1="329.3" y1="397" x2="329.3" y2="524.5" stroke="#6c6c6c" stroke-width="0.9" stroke-dasharray="1.3 2.1"/>
<line x1="400.6" y1="397" x2="400.6" y2="524.5" stroke="#6c6c6c" stroke-width="0.9" stroke-dasharray="1.3 2.1"/>
<defs><linearGradient id="gsi" x1="0" y1="0" x2="0" y2="1"><stop offset="0" stop-color="#3a6ec8"/><stop offset="0.45" stop-color="#5a62b8"/><stop offset="0.75" stop-color="#8a58a0"/><stop offset="1" stop-color="#d25560"/></linearGradient></defs>
<line x1="175.5" y1="442" x2="175.5" y2="345" stroke="#55579a" stroke-width="2.6"/>
<line x1="130.0" y1="482" x2="130.0" y2="402" stroke="#f0b4b4" stroke-width="2.2"/>
<path d="M33.7,511.4 L33.9,511.5 L34.2,511.7 L34.4,511.4 L34.6,511.5 L34.9,511.5 L35.1,511.3 L35.4,511.5 L35.6,511.5 L35.8,511.6 L36.1,511.2 L36.3,511.3 L36.6,511.2 L36.8,511.6 L37.0,511.5 L37.3,511.2 L37.5,511.7 L37.8,511.7 L38.0,511.5 L38.3,511.5 L38.5,511.2 L38.7,511.1 L39.0,511.4 L39.2,511.1 L39.5,511.2 L39.7,511.2 L39.9,511.1 L40.2,511.4 L40.4,511.3 L40.7,511.6 L40.9,511.4 L41.1,511.5 L41.4,511.4 L41.6,511.5 L41.9,511.3 L42.1,511.2 L42.3,511.7 L42.6,511.6 L42.8,511.5 L43.1,511.5 L43.3,511.2 L43.5,511.2 L43.8,511.2 L44.0,511.1 L44.3,511.5 L44.5,511.3 L44.7,511.5 L45.0,511.2 L45.2,511.6 L45.5,511.5 L45.7,511.0 L45.9,511.1 L46.2,511.5 L46.4,511.3 L46.7,511.6 L46.9,511.2 L47.1,511.0 L47.4,511.3 L47.6,511.4 L47.9,511.1 L48.1,511.0 L48.3,511.1 L48.6,511.5 L48.8,511.4 L49.1,511.0 L49.3,511.1 L49.5,511.0 L49.8,510.9 L50.0,511.4 L50.3,511.0 L50.5,511.2 L50.7,511.1 L51.0,511.0 L51.2,511.3 L51.5,510.9 L51.7,511.2 L51.9,510.9 L52.2,511.1 L52.4,510.9 L52.7,511.0 L52.9,511.4 L53.1,511.3 L53.4,511.0 L53.6,511.3 L53.9,510.9 L54.1,511.0 L54.4,511.2 L54.6,511.1 L54.8,510.7 L55.1,511.2 L55.3,510.7 L55.6,510.6 L55.8,510.8 L56.0,510.3 L56.3,510.0 L56.5,509.5 L56.8,509.1 L57.0,509.0 L57.2,508.6 L57.5,508.7 L57.7,508.6 L58.0,508.8 L58.2,509.4 L58.4,509.4 L58.7,509.8 L58.9,510.2 L59.2,509.9 L59.4,509.9 L59.6,510.4 L59.9,510.3 L60.1,509.8 L60.4,509.7 L60.6,509.8 L60.8,509.7 L61.1,508.8 L61.3,508.3 L61.6,506.6 L61.8,503.3 L62.0,497.7 L62.3,489.2 L62.5,477.8 L62.8,465.1 L63.0,451.9 L63.2,442.7 L63.5,439.0 L63.7,442.8 L64.0,452.1 L64.2,464.7 L64.4,477.9 L64.7,489.5 L64.9,497.5 L65.2,503.0 L65.4,506.4 L65.6,508.3 L65.9,509.0 L66.1,509.2 L66.4,509.9 L66.6,509.6 L66.8,509.7 L67.1,509.9 L67.3,510.1 L67.6,510.0 L67.8,510.1 L68.0,510.3 L68.3,510.5 L68.5,510.3 L68.8,510.5 L69.0,510.8 L69.2,510.9 L69.5,510.7 L69.7,510.8 L70.0,510.7 L70.2,510.5 L70.5,510.4 L70.7,510.5 L70.9,511.0 L71.2,510.9 L71.4,511.1 L71.7,510.5 L71.9,510.9 L72.1,510.8 L72.4,511.0 L72.6,510.7 L72.9,511.1 L73.1,510.6 L73.3,510.9 L73.6,511.0 L73.8,511.1 L74.1,511.0 L74.3,511.0 L74.5,511.0 L74.8,511.1 L75.0,510.8 L75.3,511.0 L75.5,511.1 L75.7,511.1 L76.0,510.8 L76.2,511.0 L76.5,511.1 L76.7,510.9 L76.9,510.9 L77.2,510.8 L77.4,510.9 L77.7,510.9 L77.9,510.6 L78.1,510.9 L78.4,511.2 L78.6,511.1 L78.9,511.0 L79.1,510.8 L79.3,511.0 L79.6,510.9 L79.8,510.8 L80.1,511.0 L80.3,510.6 L80.5,511.0 L80.8,510.6 L81.0,510.9 L81.3,510.8 L81.5,510.7 L81.7,510.9 L82.0,510.8 L82.2,510.9 L82.5,511.0 L82.7,510.6 L82.9,510.4 L83.2,510.6 L83.4,510.7 L83.7,510.3 L83.9,510.2 L84.1,510.4 L84.4,510.0 L84.6,509.5 L84.9,509.4 L85.1,508.6 L85.3,508.2 L85.6,507.4 L85.8,507.1 L86.1,506.9 L86.3,506.6 L86.6,506.4 L86.8,506.1 L87.0,506.3 L87.3,506.4 L87.5,506.6 L87.8,507.1 L88.0,507.6 L88.2,507.9 L88.5,508.0 L88.7,508.3 L89.0,508.0 L89.2,508.0 L89.4,508.1 L89.7,508.0 L89.9,508.0 L90.2,508.1 L90.4,508.3 L90.6,508.3 L90.9,508.3 L91.1,508.7 L91.4,509.0 L91.6,508.8 L91.8,508.8 L92.1,508.9 L92.3,509.6 L92.6,509.3 L92.8,509.9 L93.0,510.0 L93.3,509.9 L93.5,510.3 L93.8,510.0 L94.0,510.1 L94.2,510.4 L94.5,510.2 L94.7,510.7 L95.0,510.4 L95.2,510.3 L95.4,510.3 L95.7,510.6 L95.9,510.5 L96.2,510.6 L96.4,510.6 L96.6,510.7 L96.9,510.8 L97.1,510.6 L97.4,510.2 L97.6,510.4 L97.8,510.1 L98.1,510.0 L98.3,510.2 L98.6,510.3 L98.8,509.9 L99.0,509.9 L99.3,509.9 L99.5,510.1 L99.8,509.9 L100.0,510.0 L100.2,510.0 L100.5,509.8 L100.7,510.0 L101.0,510.0 L101.2,509.6 L101.4,510.1 L101.7,510.0 L101.9,509.6 L102.2,509.9 L102.4,510.0 L102.7,510.2 L102.9,509.9 L103.1,510.1 L103.4,510.3 L103.6,510.3 L103.9,510.4 L104.1,510.2 L104.3,510.3 L104.6,510.1 L104.8,510.4 L105.1,510.5 L105.3,510.4 L105.5,510.4 L105.8,510.1 L106.0,510.5 L106.3,510.6 L106.5,510.6 L106.7,510.3 L107.0,510.4 L107.2,510.0 L107.5,510.2 L107.7,509.8 L107.9,509.0 L108.2,508.1 L108.4,507.2 L108.7,505.6 L108.9,503.7 L109.1,501.0 L109.4,497.9 L109.6,495.7 L109.9,492.9 L110.1,491.8 L110.3,490.8 L110.6,491.5 L110.8,493.3 L111.1,495.3 L111.3,498.0 L111.5,501.0 L111.8,503.6 L112.0,505.8 L112.3,507.3 L112.5,508.6 L112.7,509.1 L113.0,509.8 L113.2,509.6 L113.5,509.9 L113.7,510.1 L113.9,510.0 L114.2,510.3 L114.4,510.3 L114.7,510.2 L114.9,510.4 L115.1,510.3 L115.4,510.1 L115.6,510.0 L115.9,510.2 L116.1,510.1 L116.3,509.4 L116.6,509.5 L116.8,509.2 L117.1,508.6 L117.3,508.2 L117.5,507.7 L117.8,507.7 L118.0,507.6 L118.3,507.7 L118.5,507.6 L118.8,508.5 L119.0,508.6 L119.2,508.9 L119.5,509.5 L119.7,509.7 L120.0,509.8 L120.2,510.1 L120.4,509.9 L120.7,510.2 L120.9,510.2 L121.2,510.6 L121.4,510.6 L121.6,510.2 L121.9,510.3 L122.1,510.1 L122.4,510.3 L122.6,510.5 L122.8,510.6 L123.1,510.3 L123.3,510.2 L123.6,510.1 L123.8,510.4 L124.0,510.5 L124.3,510.1 L124.5,510.4 L124.8,510.0 L125.0,510.1 L125.2,510.1 L125.5,510.4 L125.7,510.1 L126.0,510.1 L126.2,510.2 L126.4,509.9 L126.7,510.1 L126.9,509.6 L127.2,509.7 L127.4,509.2 L127.6,508.7 L127.9,508.4 L128.1,507.6 L128.4,506.6 L128.6,505.6 L128.8,504.6 L129.1,503.3 L129.3,502.3 L129.6,501.8 L129.8,501.3 L130.0,501.0 L130.3,501.4 L130.5,501.8 L130.8,502.7 L131.0,503.3 L131.2,504.7 L131.5,505.9 L131.7,506.9 L132.0,507.4 L132.2,508.2 L132.4,509.1 L132.7,509.1 L132.9,509.9 L133.2,510.0 L133.4,509.7 L133.6,509.9 L133.9,510.2 L134.1,510.0 L134.4,509.9 L134.6,510.3 L134.9,510.1 L135.1,510.3 L135.3,509.9 L135.6,510.1 L135.8,510.3 L136.1,509.9 L136.3,510.0 L136.5,510.3 L136.8,510.4 L137.0,510.4 L137.3,509.9 L137.5,510.1 L137.7,510.2 L138.0,509.9 L138.2,509.9 L138.5,509.5 L138.7,509.2 L138.9,509.1 L139.2,508.8 L139.4,509.0 L139.7,508.8 L139.9,508.7 L140.1,508.4 L140.4,508.5 L140.6,508.6 L140.9,509.1 L141.1,509.4 L141.3,509.5 L141.6,509.2 L141.8,509.4 L142.1,510.0 L142.3,509.9 L142.5,510.1 L142.8,509.9 L143.0,510.0 L143.3,510.1 L143.5,510.0 L143.7,510.1 L144.0,509.8 L144.2,510.2 L144.5,510.3 L144.7,509.9 L144.9,510.0 L145.2,510.2 L145.4,510.0 L145.7,509.8 L145.9,509.8 L146.1,510.0 L146.4,509.7 L146.6,510.2 L146.9,510.1 L147.1,510.0 L147.3,510.1 L147.6,509.9 L147.8,509.7 L148.1,509.8 L148.3,509.7 L148.5,509.9 L148.8,509.8 L149.0,509.4 L149.3,509.8 L149.5,509.6 L149.7,509.6 L150.0,509.5 L150.2,509.3 L150.5,509.5 L150.7,509.5 L151.0,509.3 L151.2,509.4 L151.4,509.4 L151.7,509.1 L151.9,509.3 L152.2,509.0 L152.4,509.1 L152.6,509.3 L152.9,509.0 L153.1,509.3 L153.4,509.5 L153.6,509.5 L153.8,509.3 L154.1,509.8 L154.3,509.7 L154.6,509.5 L154.8,509.7 L155.0,509.7 L155.3,509.7 L155.5,509.7 L155.8,510.1 L156.0,509.9 L156.2,509.9 L156.5,510.0 L156.7,510.1 L157.0,509.5 L157.2,509.9 L157.4,510.0 L157.7,509.7 L157.9,509.8 L158.2,509.6 L158.4,509.6 L158.6,509.7 L158.9,509.6 L159.1,509.6 L159.4,510.0 L159.6,509.8 L159.8,509.8 L160.1,510.0 L160.3,509.7 L160.6,509.9 L160.8,509.7 L161.0,509.7 L161.3,509.1 L161.5,509.3 L161.8,509.2 L162.0,508.6 L162.2,508.9 L162.5,508.2 L162.7,508.2 L163.0,507.8 L163.2,507.9 L163.4,507.9 L163.7,507.6 L163.9,508.2 L164.2,508.1 L164.4,508.3 L164.6,508.5 L164.9,508.6 L165.1,508.7 L165.4,509.1 L165.6,509.2 L165.8,509.1 L166.1,509.4 L166.3,509.2 L166.6,509.0 L166.8,509.2 L167.1,509.0 L167.3,509.1 L167.5,509.4 L167.8,509.1 L168.0,509.4 L168.3,509.3 L168.5,508.8 L168.7,509.3 L169.0,509.2 L169.2,508.6 L169.5,509.0 L169.7,508.6 L169.9,508.4 L170.2,508.5 L170.4,507.6 L170.7,507.3 L170.9,506.7 L171.1,505.4 L171.4,503.5 L171.6,501.4 L171.9,497.9 L172.1,493.3 L172.3,487.0 L172.6,479.7 L172.8,470.2 L173.1,458.7 L173.3,445.5 L173.5,431.0 L173.8,414.7 L174.0,398.2 L174.3,381.9 L174.5,366.4 L174.7,352.9 L175.0,342.7 L175.2,336.0 L175.5,333.9 L175.7,336.0 L175.9,342.9 L176.2,353.3 L176.4,366.5 L176.7,381.6 L176.9,398.0 L177.1,415.1 L177.4,431.1 L177.6,445.8 L177.9,458.8 L178.1,470.0 L178.3,479.7 L178.6,487.2 L178.8,493.2 L179.1,497.7 L179.3,501.1 L179.5,503.2 L179.8,505.0 L180.0,506.6 L180.3,507.4 L180.5,507.9 L180.7,507.8 L181.0,508.0 L181.2,508.3 L181.5,508.6 L181.7,508.8 L182.0,508.5 L182.2,508.9 L182.4,508.6 L182.7,508.7 L182.9,509.1 L183.2,509.0 L183.4,509.1 L183.6,509.0 L183.9,509.1 L184.1,508.9 L184.4,509.0 L184.6,509.3 L184.8,509.4 L185.1,508.9 L185.3,508.9 L185.6,509.4 L185.8,509.3 L186.0,509.4 L186.3,509.0 L186.5,509.1 L186.8,509.0 L187.0,509.3 L187.2,509.0 L187.5,509.1 L187.7,509.2 L188.0,508.6 L188.2,508.4 L188.4,508.1 L188.7,507.5 L188.9,506.4 L189.2,505.3 L189.4,503.8 L189.6,502.7 L189.9,500.5 L190.1,498.7 L190.4,497.3 L190.6,495.6 L190.8,494.5 L191.1,493.4 L191.3,493.4 L191.6,493.3 L191.8,494.2 L192.0,495.7 L192.3,497.0 L192.5,498.9 L192.8,501.0 L193.0,502.7 L193.2,504.0 L193.5,505.2 L193.7,506.4 L194.0,507.5 L194.2,507.9 L194.4,508.2 L194.7,508.9 L194.9,509.0 L195.2,509.3 L195.4,509.4 L195.6,509.5 L195.9,509.2 L196.1,509.5 L196.4,509.2 L196.6,509.2 L196.8,509.3 L197.1,509.6 L197.3,509.6 L197.6,509.2 L197.8,509.3 L198.1,509.3 L198.3,509.3 L198.5,509.3 L198.8,509.3 L199.0,509.2 L199.3,509.4 L199.5,509.6 L199.7,509.4 L200.0,509.6 L200.2,509.4 L200.5,509.2 L200.7,509.5 L200.9,509.6 L201.2,509.2 L201.4,509.1 L201.7,509.4 L201.9,509.4 L202.1,509.4 L202.4,509.7 L202.6,509.5 L202.9,509.6 L203.1,509.1 L203.3,509.4 L203.6,509.5 L203.8,509.1 L204.1,509.1 L204.3,509.5 L204.5,509.6 L204.8,509.1 L205.0,509.4 L205.3,509.1 L205.5,509.5 L205.7,509.4 L206.0,509.2 L206.2,509.2 L206.5,509.5 L206.7,509.4 L206.9,509.5 L207.2,509.3 L207.4,509.3 L207.7,509.6 L207.9,509.4 L208.1,509.3 L208.4,509.4 L208.6,509.5 L208.9,509.5 L209.1,509.6 L209.3,509.3 L209.6,509.5 L209.8,509.4 L210.1,509.5 L210.3,509.5 L210.5,509.5 L210.8,509.6 L211.0,509.6 L211.3,509.4 L211.5,509.3 L211.7,509.4 L212.0,509.5 L212.2,509.3 L212.5,509.3 L212.7,509.1 L212.9,509.4 L213.2,509.6 L213.4,509.2 L213.7,509.1 L213.9,509.1 L214.2,509.2 L214.4,509.2 L214.6,509.6 L214.9,509.0 L215.1,509.2 L215.4,509.0 L215.6,509.4 L215.8,509.4 L216.1,509.1 L216.3,509.0 L216.6,509.2 L216.8,509.3 L217.0,509.5 L217.3,509.0 L217.5,509.0 L217.8,509.1 L218.0,509.1 L218.2,509.1 L218.5,509.4 L218.7,509.3 L219.0,509.1 L219.2,509.0 L219.4,509.1 L219.7,509.0 L219.9,509.4 L220.2,509.1 L220.4,509.2 L220.6,509.4 L220.9,509.2 L221.1,509.1 L221.4,509.4 L221.6,509.5 L221.8,509.1 L222.1,509.2 L222.3,509.5 L222.6,509.2 L222.8,509.0 L223.0,508.9 L223.3,509.5 L223.5,509.4 L223.8,509.1 L224.0,509.2 L224.2,509.2 L224.5,509.0 L224.7,509.5 L225.0,509.3 L225.2,509.0 L225.4,508.9 L225.7,509.1 L225.9,509.1 L226.2,509.3 L226.4,509.3 L226.6,509.2 L226.9,508.9 L227.1,508.9 L227.4,509.0 L227.6,509.0 L227.8,509.4 L228.1,509.1 L228.3,509.2 L228.6,509.4 L228.8,509.0 L229.0,509.1 L229.3,508.9 L229.5,509.3 L229.8,508.8 L230.0,509.3 L230.3,509.3 L230.5,509.3 L230.7,508.9 L231.0,509.0 L231.2,509.2 L231.5,508.9 L231.7,509.1 L231.9,509.1 L232.2,509.4 L232.4,509.1 L232.7,509.3 L232.9,509.0 L233.1,509.3 L233.4,509.0 L233.6,509.3 L233.9,508.8 L234.1,509.3 L234.3,508.9 L234.6,509.1 L234.8,509.1 L235.1,508.8 L235.3,509.3 L235.5,508.9 L235.8,508.9 L236.0,508.8 L236.3,508.9 L236.5,509.0 L236.7,509.2 L237.0,508.9 L237.2,509.1 L237.5,508.8 L237.7,509.0 L237.9,509.0 L238.2,509.3 L238.4,509.2 L238.7,509.1 L238.9,508.7 L239.1,508.9 L239.4,509.1 L239.6,508.8 L239.9,509.0 L240.1,509.0 L240.3,508.7 L240.6,509.3 L240.8,509.2 L241.1,508.8 L241.3,509.1 L241.5,508.9 L241.8,508.9 L242.0,509.0 L242.3,508.9 L242.5,508.9 L242.7,508.9 L243.0,509.1 L243.2,508.8 L243.5,508.8 L243.7,509.1 L243.9,508.8 L244.2,509.2 L244.4,509.0 L244.7,509.1 L244.9,508.8 L245.1,509.1 L245.4,508.7 L245.6,508.7 L245.9,508.7 L246.1,509.0 L246.4,509.0 L246.6,508.7 L246.8,508.9 L247.1,509.1 L247.3,509.0 L247.6,508.7 L247.8,508.7 L248.0,508.7 L248.3,508.7 L248.5,508.8 L248.8,508.6 L249.0,509.1 L249.2,508.8 L249.5,508.9 L249.7,509.0 L250.0,509.0 L250.2,509.1 L250.4,508.8 L250.7,508.8 L250.9,508.8 L251.2,508.6 L251.4,508.8 L251.6,509.0 L251.9,509.1 L252.1,509.0 L252.4,508.9 L252.6,508.9 L252.8,508.6 L253.1,508.7 L253.3,508.7 L253.6,508.9 L253.8,508.6 L254.0,508.8 L254.3,508.8 L254.5,509.0 L254.8,509.0 L255.0,508.9 L255.2,508.6 L255.5,509.0 L255.7,509.1 L256.0,508.8 L256.2,508.7 L256.4,508.8 L256.7,508.6 L256.9,508.9 L257.2,509.1 L257.4,508.8 L257.6,508.9 L257.9,509.0 L258.1,508.6 L258.4,509.0 L258.6,508.9 L258.8,508.6 L259.1,508.5 L259.3,508.6 L259.6,508.8 L259.8,508.9 L260.0,508.7 L260.3,509.0 L260.5,508.7 L260.8,508.7 L261.0,508.5 L261.2,509.0 L261.5,508.5 L261.7,509.0 L262.0,508.8 L262.2,508.8 L262.5,508.8 L262.7,508.6 L262.9,509.0 L263.2,509.0 L263.4,508.9 L263.7,508.8 L263.9,508.5 L264.1,508.9 L264.4,508.6 L264.6,508.9 L264.9,508.5 L265.1,508.7 L265.3,508.9 L265.6,508.5 L265.8,508.7 L266.1,508.4 L266.3,508.4 L266.5,508.5 L266.8,509.0 L267.0,508.9 L267.3,508.8 L267.5,508.6 L267.7,508.8 L268.0,508.8 L268.2,508.6 L268.5,508.7 L268.7,508.8 L268.9,508.4 L269.2,508.5 L269.4,508.6 L269.7,508.4 L269.9,508.6 L270.1,508.7 L270.4,508.4 L270.6,508.6 L270.9,508.5 L271.1,508.7 L271.3,508.5 L271.6,508.7 L271.8,508.3 L272.1,508.7 L272.3,508.4 L272.5,508.9 L272.8,508.7 L273.0,508.6 L273.3,508.6 L273.5,508.7 L273.7,508.7 L274.0,508.7" fill="none" stroke="#424242" stroke-width="1.7" stroke-linejoin="round"/>
<path d="M33.7,484.3 L33.9,484.4 L34.2,484.4 L34.4,484.1 L34.6,484.0 L34.9,484.2 L35.1,484.2 L35.4,484.4 L35.6,484.4 L35.8,484.3 L36.1,484.3 L36.3,484.3 L36.6,484.1 L36.8,484.2 L37.0,484.1 L37.3,484.5 L37.5,484.0 L37.8,484.4 L38.0,484.0 L38.3,484.3 L38.5,484.2 L38.7,484.2 L39.0,484.4 L39.2,484.0 L39.5,484.0 L39.7,484.5 L39.9,484.3 L40.2,484.0 L40.4,484.5 L40.7,484.5 L40.9,484.0 L41.1,484.2 L41.4,484.1 L41.6,484.1 L41.9,484.3 L42.1,484.1 L42.3,484.3 L42.6,484.0 L42.8,484.1 L43.1,484.4 L43.3,484.2 L43.5,484.2 L43.8,484.3 L44.0,484.2 L44.3,484.2 L44.5,484.0 L44.7,484.3 L45.0,484.4 L45.2,484.4 L45.5,484.3 L45.7,484.1 L45.9,484.1 L46.2,484.3 L46.4,484.3 L46.7,484.0 L46.9,484.1 L47.1,484.1 L47.4,484.2 L47.6,484.3 L47.9,484.2 L48.1,483.9 L48.3,484.3 L48.6,484.1 L48.8,484.2 L49.1,484.0 L49.3,484.1 L49.5,484.1 L49.8,484.3 L50.0,484.0 L50.3,484.2 L50.5,484.0 L50.7,484.2 L51.0,483.9 L51.2,484.0 L51.5,484.0 L51.7,484.2 L51.9,483.9 L52.2,484.1 L52.4,484.0 L52.7,484.0 L52.9,484.1 L53.1,484.3 L53.4,484.0 L53.6,484.3 L53.9,483.9 L54.1,484.2 L54.4,483.9 L54.6,483.8 L54.8,484.1 L55.1,484.1 L55.3,483.6 L55.6,483.6 L55.8,483.6 L56.0,483.1 L56.3,482.6 L56.5,482.0 L56.8,481.4 L57.0,481.2 L57.2,481.0 L57.5,480.9 L57.7,480.7 L58.0,480.8 L58.2,481.4 L58.4,482.1 L58.7,482.6 L58.9,482.9 L59.2,482.9 L59.4,483.2 L59.6,483.2 L59.9,483.2 L60.1,483.0 L60.4,483.2 L60.6,483.1 L60.8,482.5 L61.1,482.1 L61.3,481.6 L61.6,479.8 L61.8,477.4 L62.0,472.3 L62.3,465.0 L62.5,454.9 L62.8,442.9 L63.0,431.6 L63.2,423.2 L63.5,420.3 L63.7,423.4 L64.0,431.5 L64.2,443.3 L64.4,454.8 L64.7,464.7 L64.9,472.3 L65.2,477.4 L65.4,480.0 L65.6,481.5 L65.9,482.5 L66.1,482.9 L66.4,483.0 L66.6,483.0 L66.8,483.2 L67.1,483.5 L67.3,483.5 L67.6,483.5 L67.8,483.4 L68.0,483.5 L68.3,483.7 L68.5,483.7 L68.8,483.5 L69.0,483.9 L69.2,484.0 L69.5,484.0 L69.7,484.0 L70.0,484.1 L70.2,483.9 L70.5,484.0 L70.7,483.8 L70.9,483.7 L71.2,483.9 L71.4,483.9 L71.7,484.2 L71.9,484.1 L72.1,484.0 L72.4,484.1 L72.6,483.8 L72.9,484.0 L73.1,484.1 L73.3,484.0 L73.6,483.9 L73.8,484.0 L74.1,483.9 L74.3,484.1 L74.5,483.9 L74.8,483.8 L75.0,484.0 L75.3,484.2 L75.5,484.2 L75.7,484.1 L76.0,484.3 L76.2,484.0 L76.5,483.8 L76.7,484.1 L76.9,484.0 L77.2,483.9 L77.4,484.2 L77.7,484.0 L77.9,483.9 L78.1,484.0 L78.4,484.3 L78.6,483.8 L78.9,484.0 L79.1,484.0 L79.3,483.9 L79.6,484.0 L79.8,483.9 L80.1,484.3 L80.3,484.1 L80.5,484.2 L80.8,483.9 L81.0,484.0 L81.3,484.1 L81.5,484.2 L81.7,483.8 L82.0,483.9 L82.2,484.1 L82.5,484.0 L82.7,483.6 L82.9,483.7 L83.2,483.7 L83.4,483.4 L83.7,483.3 L83.9,483.2 L84.1,483.2 L84.4,482.8 L84.6,482.6 L84.9,482.3 L85.1,482.3 L85.3,481.9 L85.6,481.8 L85.8,481.6 L86.1,481.5 L86.3,481.3 L86.6,481.4 L86.8,481.5 L87.0,481.5 L87.3,481.5 L87.5,482.0 L87.8,481.9 L88.0,482.4 L88.2,482.4 L88.5,482.5 L88.7,482.9 L89.0,483.1 L89.2,483.0 L89.4,483.1 L89.7,483.5 L89.9,483.7 L90.2,483.7 L90.4,483.9 L90.6,483.8 L90.9,483.9 L91.1,483.8 L91.4,483.9 L91.6,483.9 L91.8,483.9 L92.1,484.0 L92.3,484.2 L92.6,483.9 L92.8,483.9 L93.0,483.9 L93.3,484.3 L93.5,484.1 L93.8,483.8 L94.0,484.2 L94.2,484.2 L94.5,484.2 L94.7,484.0 L95.0,484.2 L95.2,484.0 L95.4,483.9 L95.7,484.2 L95.9,484.2 L96.2,483.9 L96.4,484.2 L96.6,483.8 L96.9,484.0 L97.1,483.8 L97.4,483.9 L97.6,483.9 L97.8,484.2 L98.1,483.9 L98.3,483.9 L98.6,483.9 L98.8,483.9 L99.0,484.2 L99.3,484.1 L99.5,483.8 L99.8,484.1 L100.0,484.0 L100.2,484.0 L100.5,484.0 L100.7,484.1 L101.0,484.2 L101.2,484.0 L101.4,484.1 L101.7,484.0 L101.9,484.1 L102.2,483.9 L102.4,484.0 L102.7,484.0 L102.9,484.1 L103.1,483.9 L103.4,484.2 L103.6,484.0 L103.9,484.1 L104.1,484.1 L104.3,484.2 L104.6,484.0 L104.8,483.9 L105.1,483.9 L105.3,484.0 L105.5,484.0 L105.8,484.1 L106.0,483.7 L106.3,483.6 L106.5,483.6 L106.7,483.6 L107.0,483.5 L107.2,483.4 L107.5,483.4 L107.7,483.1 L107.9,483.0 L108.2,482.4 L108.4,481.7 L108.7,480.5 L108.9,478.8 L109.1,477.0 L109.4,474.4 L109.6,472.4 L109.9,471.0 L110.1,469.6 L110.3,469.0 L110.6,469.7 L110.8,470.8 L111.1,472.6 L111.3,474.5 L111.5,476.6 L111.8,478.4 L112.0,480.3 L112.3,481.7 L112.5,482.5 L112.7,483.0 L113.0,483.5 L113.2,483.4 L113.5,483.5 L113.7,483.9 L113.9,483.8 L114.2,483.8 L114.4,483.5 L114.7,483.6 L114.9,483.8 L115.1,483.9 L115.4,483.9 L115.6,483.8 L115.9,483.5 L116.1,483.4 L116.3,483.5 L116.6,483.3 L116.8,482.8 L117.1,482.4 L117.3,482.3 L117.5,482.1 L117.8,481.8 L118.0,481.7 L118.3,481.8 L118.5,482.1 L118.8,482.1 L119.0,482.5 L119.2,483.0 L119.5,483.2 L119.7,483.1 L120.0,483.4 L120.2,483.3 L120.4,483.7 L120.7,483.7 L120.9,483.5 L121.2,483.7 L121.4,483.7 L121.6,483.7 L121.9,483.6 L122.1,483.6 L122.4,483.6 L122.6,483.9 L122.8,483.5 L123.1,483.6 L123.3,483.5 L123.6,483.3 L123.8,483.4 L124.0,483.2 L124.3,483.2 L124.5,483.1 L124.8,482.9 L125.0,482.9 L125.2,482.2 L125.5,481.6 L125.7,481.0 L126.0,479.7 L126.2,478.2 L126.4,476.2 L126.7,473.2 L126.9,470.0 L127.2,465.4 L127.4,460.2 L127.6,454.3 L127.9,447.4 L128.1,439.5 L128.4,431.0 L128.6,422.7 L128.8,414.4 L129.1,407.1 L129.3,400.2 L129.6,395.1 L129.8,392.1 L130.0,391.0 L130.3,392.1 L130.5,395.3 L130.8,400.6 L131.0,406.9 L131.2,414.7 L131.5,422.7 L131.7,431.2 L132.0,439.3 L132.2,447.2 L132.4,454.3 L132.7,460.2 L132.9,465.5 L133.2,470.0 L133.4,473.3 L133.6,476.1 L133.9,478.2 L134.1,479.8 L134.4,480.8 L134.6,481.5 L134.9,481.9 L135.1,482.8 L135.3,483.0 L135.6,483.0 L135.8,483.4 L136.1,483.4 L136.3,483.0 L136.5,483.4 L136.8,483.1 L137.0,483.0 L137.3,482.7 L137.5,482.5 L137.7,481.8 L138.0,481.0 L138.2,480.0 L138.5,478.8 L138.7,477.1 L138.9,475.3 L139.2,473.8 L139.4,471.9 L139.7,470.5 L139.9,469.6 L140.1,469.5 L140.4,469.4 L140.6,470.4 L140.9,472.2 L141.1,474.0 L141.3,475.8 L141.6,477.4 L141.8,479.0 L142.1,480.2 L142.3,481.6 L142.5,482.3 L142.8,482.7 L143.0,483.2 L143.3,483.2 L143.5,483.5 L143.7,483.8 L144.0,483.4 L144.2,483.7 L144.5,483.5 L144.7,483.9 L144.9,483.9 L145.2,483.8 L145.4,483.7 L145.7,483.5 L145.9,483.7 L146.1,483.7 L146.4,483.7 L146.6,483.6 L146.9,484.0 L147.1,483.8 L147.3,483.8 L147.6,484.0 L147.8,484.0 L148.1,483.8 L148.3,483.8 L148.5,484.0 L148.8,483.7 L149.0,484.0 L149.3,483.6 L149.5,484.0 L149.7,483.8 L150.0,483.9 L150.2,484.1 L150.5,483.7 L150.7,483.8 L151.0,484.0 L151.2,483.9 L151.4,483.8 L151.7,484.0 L151.9,483.9 L152.2,484.0 L152.4,483.9 L152.6,483.7 L152.9,483.7 L153.1,483.6 L153.4,483.6 L153.6,483.6 L153.8,484.1 L154.1,483.6 L154.3,483.9 L154.6,483.6 L154.8,484.0 L155.0,483.8 L155.3,483.6 L155.5,484.0 L155.8,484.0 L156.0,484.0 L156.2,483.7 L156.5,483.7 L156.7,483.9 L157.0,483.7 L157.2,483.8 L157.4,483.9 L157.7,483.9 L157.9,483.9 L158.2,483.9 L158.4,483.7 L158.6,483.9 L158.9,483.7 L159.1,483.6 L159.4,483.5 L159.6,483.8 L159.8,483.6 L160.1,483.5 L160.3,483.7 L160.6,483.6 L160.8,483.5 L161.0,483.5 L161.3,483.4 L161.5,483.3 L161.8,483.4 L162.0,483.2 L162.2,482.7 L162.5,482.8 L162.7,482.3 L163.0,482.5 L163.2,482.0 L163.4,482.1 L163.7,482.4 L163.9,482.3 L164.2,482.5 L164.4,482.4 L164.6,482.5 L164.9,483.1 L165.1,482.8 L165.4,483.0 L165.6,483.2 L165.8,483.5 L166.1,483.4 L166.3,483.6 L166.6,483.5 L166.8,483.4 L167.1,483.6 L167.3,483.3 L167.5,483.1 L167.8,483.5 L168.0,483.5 L168.3,483.3 L168.5,483.2 L168.7,483.0 L169.0,483.0 L169.2,482.8 L169.5,482.7 L169.7,482.8 L169.9,482.9 L170.2,482.7 L170.4,482.1 L170.7,481.8 L170.9,481.0 L171.1,480.1 L171.4,478.6 L171.6,476.7 L171.9,473.7 L172.1,469.8 L172.3,464.7 L172.6,458.0 L172.8,450.1 L173.1,440.5 L173.3,429.1 L173.5,416.5 L173.8,403.0 L174.0,388.7 L174.3,374.8 L174.5,361.6 L174.7,350.5 L175.0,341.5 L175.2,335.8 L175.5,333.8 L175.7,335.7 L175.9,341.3 L176.2,350.5 L176.4,361.8 L176.7,374.8 L176.9,388.9 L177.1,402.8 L177.4,416.7 L177.6,429.1 L177.9,440.4 L178.1,450.2 L178.3,458.0 L178.6,464.5 L178.8,469.8 L179.1,473.5 L179.3,476.6 L179.5,478.3 L179.8,479.7 L180.0,481.2 L180.3,481.7 L180.5,482.2 L180.7,482.4 L181.0,482.5 L181.2,483.0 L181.5,482.9 L181.7,483.2 L182.0,482.9 L182.2,483.0 L182.4,483.2 L182.7,483.1 L182.9,483.4 L183.2,483.1 L183.4,483.1 L183.6,483.1 L183.9,483.2 L184.1,483.6 L184.4,483.5 L184.6,483.4 L184.8,483.3 L185.1,483.2 L185.3,483.6 L185.6,483.2 L185.8,483.3 L186.0,483.4 L186.3,483.6 L186.5,483.2 L186.8,483.2 L187.0,483.5 L187.2,483.0 L187.5,483.3 L187.7,482.8 L188.0,482.7 L188.2,482.3 L188.4,481.8 L188.7,481.3 L188.9,480.3 L189.2,478.9 L189.4,477.1 L189.6,475.3 L189.9,473.3 L190.1,471.4 L190.4,469.3 L190.6,467.0 L190.8,465.6 L191.1,465.0 L191.3,464.2 L191.6,464.5 L191.8,465.6 L192.0,467.4 L192.3,469.0 L192.5,471.4 L192.8,473.2 L193.0,475.6 L193.2,477.2 L193.5,479.0 L193.7,480.3 L194.0,481.4 L194.2,481.9 L194.4,482.7 L194.7,482.8 L194.9,483.4 L195.2,483.5 L195.4,483.7 L195.6,483.3 L195.9,483.4 L196.1,483.7 L196.4,483.8 L196.6,483.5 L196.8,483.7 L197.1,483.6 L197.3,483.4 L197.6,483.4 L197.8,483.4 L198.1,483.5 L198.3,483.9 L198.5,483.8 L198.8,483.9 L199.0,483.9 L199.3,483.6 L199.5,483.8 L199.7,483.8 L200.0,483.8 L200.2,483.5 L200.5,483.9 L200.7,483.5 L200.9,483.7 L201.2,483.8 L201.4,483.8 L201.7,483.9 L201.9,483.6 L202.1,483.6 L202.4,483.8 L202.6,483.5 L202.9,483.9 L203.1,483.6 L203.3,483.7 L203.6,483.6 L203.8,483.8 L204.1,483.6 L204.3,483.5 L204.5,483.5 L204.8,483.5 L205.0,483.8 L205.3,484.0 L205.5,483.5 L205.7,483.7 L206.0,483.7 L206.2,483.6 L206.5,483.7 L206.7,483.5 L206.9,483.7 L207.2,483.6 L207.4,483.5 L207.7,483.6 L207.9,484.0 L208.1,483.8 L208.4,484.0 L208.6,483.9 L208.9,483.9 L209.1,483.6 L209.3,483.5 L209.6,484.0 L209.8,483.8 L210.1,483.9 L210.3,483.6 L210.5,483.9 L210.8,483.8 L211.0,483.5 L211.3,483.6 L211.5,484.0 L211.7,483.8 L212.0,483.5 L212.2,483.5 L212.5,483.9 L212.7,483.7 L212.9,483.7 L213.2,483.6 L213.4,483.6 L213.7,483.7 L213.9,483.7 L214.2,483.6 L214.4,483.6 L214.6,483.7 L214.9,483.5 L215.1,483.5 L215.4,483.7 L215.6,483.5 L215.8,483.9 L216.1,483.9 L216.3,483.8 L216.6,484.0 L216.8,483.6 L217.0,483.7 L217.3,483.7 L217.5,483.5 L217.8,483.9 L218.0,483.5 L218.2,484.0 L218.5,483.8 L218.7,484.0 L219.0,483.5 L219.2,483.9 L219.4,484.0 L219.7,483.9 L219.9,483.8 L220.2,483.8 L220.4,483.7 L220.6,483.9 L220.9,483.8 L221.1,483.8 L221.4,483.7 L221.6,483.8 L221.8,483.8 L222.1,483.9 L222.3,483.9 L222.6,483.6 L222.8,483.8 L223.0,483.6 L223.3,483.7 L223.5,483.7 L223.8,483.8 L224.0,483.5 L224.2,483.5 L224.5,483.6 L224.7,483.8 L225.0,483.6 L225.2,483.8 L225.4,483.9 L225.7,483.7 L225.9,483.6 L226.2,483.8 L226.4,483.7 L226.6,483.7 L226.9,483.6 L227.1,483.8 L227.4,483.6 L227.6,484.0 L227.8,483.7 L228.1,483.8 L228.3,483.9 L228.6,484.0 L228.8,483.5 L229.0,483.9 L229.3,483.5 L229.5,483.9 L229.8,483.9 L230.0,483.6 L230.3,483.8 L230.5,483.7 L230.7,483.7 L231.0,483.8 L231.2,483.7 L231.5,483.8 L231.7,483.8 L231.9,483.5 L232.2,483.8 L232.4,483.8 L232.7,483.9 L232.9,483.7 L233.1,483.7 L233.4,483.5 L233.6,483.5 L233.9,483.9 L234.1,483.5 L234.3,483.9 L234.6,483.5 L234.8,483.6 L235.1,483.8 L235.3,483.5 L235.5,483.7 L235.8,483.8 L236.0,483.6 L236.3,483.5 L236.5,483.5 L236.7,483.9 L237.0,483.5 L237.2,483.8 L237.5,483.8 L237.7,483.6 L237.9,483.7 L238.2,483.8 L238.4,483.5 L238.7,483.6 L238.9,483.9 L239.1,483.5 L239.4,483.7 L239.6,483.7 L239.9,483.8 L240.1,483.9 L240.3,483.8 L240.6,483.7 L240.8,483.7 L241.1,483.5 L241.3,483.7 L241.5,483.6 L241.8,483.8 L242.0,483.6 L242.3,483.5 L242.5,483.6 L242.7,483.8 L243.0,483.7 L243.2,483.8 L243.5,483.5 L243.7,483.5 L243.9,483.6 L244.2,483.7 L244.4,483.5 L244.7,483.9 L244.9,483.6 L245.1,483.4 L245.4,483.5 L245.6,483.7 L245.9,483.7 L246.1,483.8 L246.4,483.5 L246.6,483.9 L246.8,483.8 L247.1,483.7 L247.3,483.7 L247.6,483.6 L247.8,483.5 L248.0,483.4 L248.3,483.9 L248.5,483.9 L248.8,483.6 L249.0,483.7 L249.2,483.7 L249.5,483.8 L249.7,483.5 L250.0,483.8 L250.2,483.5 L250.4,483.7 L250.7,483.7 L250.9,483.8 L251.2,483.7 L251.4,483.5 L251.6,483.8 L251.9,483.6 L252.1,483.7 L252.4,483.8 L252.6,483.9 L252.8,483.5 L253.1,483.6 L253.3,483.6 L253.6,483.8 L253.8,483.6 L254.0,483.9 L254.3,483.8 L254.5,483.6 L254.8,483.8 L255.0,483.7 L255.2,483.5 L255.5,483.5 L255.7,483.5 L256.0,483.8 L256.2,483.6 L256.4,483.5 L256.7,483.8 L256.9,483.9 L257.2,483.5 L257.4,483.7 L257.6,483.5 L257.9,483.8 L258.1,483.8 L258.4,483.8 L258.6,483.7 L258.8,483.4 L259.1,483.8 L259.3,483.4 L259.6,483.7 L259.8,483.9 L260.0,483.5 L260.3,483.6 L260.5,483.7 L260.8,483.7 L261.0,483.5 L261.2,483.6 L261.5,483.8 L261.7,483.7 L262.0,483.5 L262.2,483.7 L262.5,483.8 L262.7,483.7 L262.9,483.8 L263.2,483.5 L263.4,483.5 L263.7,483.8 L263.9,483.5 L264.1,483.4 L264.4,483.4 L264.6,483.8 L264.9,483.8 L265.1,483.5 L265.3,483.7 L265.6,483.5 L265.8,483.7 L266.1,483.4 L266.3,483.7 L266.5,483.7 L266.8,483.6 L267.0,483.7 L267.3,483.4 L267.5,483.6 L267.7,483.8 L268.0,483.5 L268.2,483.7 L268.5,483.7 L268.7,483.8 L268.9,483.7 L269.2,483.5 L269.4,483.8 L269.7,483.8 L269.9,483.6 L270.1,483.7 L270.4,483.6 L270.6,483.6 L270.9,483.5 L271.1,483.6 L271.3,483.5 L271.6,483.8 L271.8,483.7 L272.1,483.7 L272.3,483.6 L272.5,483.6 L272.8,483.4 L273.0,483.7 L273.3,483.6 L273.5,483.5 L273.7,483.6 L274.0,483.4" fill="none" stroke="#dc5457" stroke-width="1.7" stroke-linejoin="round"/>
<path d="M33.7,458.7 L33.9,459.0 L34.2,459.0 L34.4,459.0 L34.6,458.7 L34.9,458.7 L35.1,458.7 L35.4,458.7 L35.6,459.0 L35.8,458.7 L36.1,458.9 L36.3,458.7 L36.6,458.7 L36.8,458.8 L37.0,459.0 L37.3,458.9 L37.5,458.6 L37.8,458.7 L38.0,458.7 L38.3,459.0 L38.5,459.0 L38.7,459.0 L39.0,459.0 L39.2,458.9 L39.5,459.0 L39.7,459.0 L39.9,458.7 L40.2,459.0 L40.4,458.8 L40.7,458.9 L40.9,458.8 L41.1,458.8 L41.4,458.7 L41.6,458.8 L41.9,458.7 L42.1,458.6 L42.3,459.0 L42.6,458.9 L42.8,459.0 L43.1,458.9 L43.3,458.8 L43.5,458.9 L43.8,458.6 L44.0,458.9 L44.3,458.7 L44.5,458.6 L44.7,458.6 L45.0,458.8 L45.2,458.6 L45.5,458.7 L45.7,458.8 L45.9,458.7 L46.2,458.6 L46.4,458.7 L46.7,458.6 L46.9,458.6 L47.1,458.6 L47.4,458.7 L47.6,458.5 L47.9,458.8 L48.1,458.9 L48.3,458.7 L48.6,458.8 L48.8,458.9 L49.1,458.5 L49.3,458.5 L49.5,458.8 L49.8,458.8 L50.0,458.7 L50.3,458.5 L50.5,458.6 L50.7,458.8 L51.0,458.8 L51.2,458.8 L51.5,458.5 L51.7,458.8 L51.9,458.6 L52.2,458.7 L52.4,458.4 L52.7,458.8 L52.9,458.6 L53.1,458.7 L53.4,458.4 L53.6,458.6 L53.9,458.6 L54.1,458.6 L54.4,458.4 L54.6,458.6 L54.8,458.4 L55.1,458.3 L55.3,458.2 L55.6,458.4 L55.8,458.0 L56.0,457.9 L56.3,457.6 L56.5,457.6 L56.8,457.3 L57.0,457.0 L57.2,456.6 L57.5,456.7 L57.7,456.7 L58.0,456.7 L58.2,456.8 L58.4,457.5 L58.7,457.2 L58.9,457.4 L59.2,457.5 L59.4,457.6 L59.6,457.3 L59.9,457.5 L60.1,457.3 L60.4,457.4 L60.6,456.7 L60.8,456.6 L61.1,456.1 L61.3,455.3 L61.6,453.1 L61.8,449.4 L62.0,443.1 L62.3,433.1 L62.5,419.7 L62.8,404.4 L63.0,389.5 L63.2,378.4 L63.5,374.1 L63.7,378.4 L64.0,389.5 L64.2,404.2 L64.4,419.9 L64.7,433.1 L64.9,442.9 L65.2,449.3 L65.4,452.9 L65.6,455.0 L65.9,455.9 L66.1,456.6 L66.4,456.7 L66.6,457.3 L66.8,457.4 L67.1,457.2 L67.3,457.7 L67.6,457.5 L67.8,457.8 L68.0,457.9 L68.3,457.8 L68.5,457.9 L68.8,458.0 L69.0,457.9 L69.2,458.3 L69.5,457.9 L69.7,458.3 L70.0,458.0 L70.2,458.1 L70.5,458.2 L70.7,458.0 L70.9,458.1 L71.2,458.2 L71.4,458.3 L71.7,458.5 L71.9,458.6 L72.1,458.1 L72.4,458.4 L72.6,458.2 L72.9,458.5 L73.1,458.3 L73.3,458.6 L73.6,458.4 L73.8,458.2 L74.1,458.1 L74.3,458.3 L74.5,458.6 L74.8,458.2 L75.0,458.4 L75.3,458.3 L75.5,458.3 L75.7,458.5 L76.0,458.2 L76.2,458.5 L76.5,458.5 L76.7,458.6 L76.9,458.4 L77.2,458.6 L77.4,458.3 L77.7,458.4 L77.9,458.4 L78.1,458.5 L78.4,458.5 L78.6,458.1 L78.9,458.1 L79.1,458.3 L79.3,458.4 L79.6,458.3 L79.8,458.1 L80.1,458.5 L80.3,458.1 L80.5,458.0 L80.8,457.9 L81.0,457.9 L81.3,458.2 L81.5,457.9 L81.7,458.1 L82.0,458.2 L82.2,458.2 L82.5,458.0 L82.7,457.7 L82.9,457.8 L83.2,457.8 L83.4,457.5 L83.7,457.1 L83.9,456.9 L84.1,455.8 L84.4,454.5 L84.6,452.5 L84.9,448.6 L85.1,443.1 L85.3,436.2 L85.6,427.5 L85.8,418.3 L86.1,410.2 L86.3,404.6 L86.6,402.4 L86.8,404.5 L87.0,409.5 L87.3,417.4 L87.5,425.7 L87.8,433.2 L88.0,439.7 L88.2,443.8 L88.5,446.2 L88.7,447.2 L89.0,447.6 L89.2,447.8 L89.4,447.4 L89.7,447.3 L89.9,447.7 L90.2,448.5 L90.4,449.3 L90.6,450.6 L90.9,451.6 L91.1,453.2 L91.4,454.0 L91.6,454.9 L91.8,456.0 L92.1,456.5 L92.3,457.3 L92.6,457.4 L92.8,457.7 L93.0,458.0 L93.3,457.8 L93.5,458.2 L93.8,458.2 L94.0,458.1 L94.2,458.4 L94.5,458.0 L94.7,458.4 L95.0,458.1 L95.2,458.4 L95.4,458.1 L95.7,458.0 L95.9,458.3 L96.2,458.5 L96.4,458.2 L96.6,458.3 L96.9,458.4 L97.1,458.2 L97.4,458.3 L97.6,458.1 L97.8,458.3 L98.1,458.5 L98.3,458.2 L98.6,458.2 L98.8,458.1 L99.0,458.4 L99.3,458.3 L99.5,458.5 L99.8,458.5 L100.0,458.1 L100.2,458.5 L100.5,458.6 L100.7,458.5 L101.0,458.5 L101.2,458.4 L101.4,458.4 L101.7,458.4 L101.9,458.4 L102.2,458.2 L102.4,458.1 L102.7,458.4 L102.9,458.4 L103.1,458.1 L103.4,458.4 L103.6,458.4 L103.9,458.3 L104.1,458.4 L104.3,458.5 L104.6,458.2 L104.8,458.4 L105.1,458.2 L105.3,458.3 L105.5,458.2 L105.8,458.4 L106.0,458.2 L106.3,458.4 L106.5,458.1 L106.7,458.2 L107.0,458.2 L107.2,458.0 L107.5,457.7 L107.7,457.3 L107.9,457.0 L108.2,456.3 L108.4,455.4 L108.7,453.8 L108.9,451.9 L109.1,449.3 L109.4,446.6 L109.6,444.1 L109.9,442.0 L110.1,440.2 L110.3,439.7 L110.6,440.2 L110.8,441.8 L111.1,444.0 L111.3,446.9 L111.5,449.1 L111.8,451.9 L112.0,453.5 L112.3,455.0 L112.5,456.5 L112.7,456.8 L113.0,457.3 L113.2,457.5 L113.5,457.7 L113.7,457.9 L113.9,457.9 L114.2,457.9 L114.4,457.9 L114.7,458.2 L114.9,457.9 L115.1,457.9 L115.4,458.1 L115.6,458.2 L115.9,457.9 L116.1,457.7 L116.3,457.5 L116.6,457.2 L116.8,456.8 L117.1,456.0 L117.3,455.5 L117.5,455.5 L117.8,455.2 L118.0,455.1 L118.3,455.3 L118.5,455.2 L118.8,455.9 L119.0,456.2 L119.2,456.6 L119.5,456.9 L119.7,457.3 L120.0,457.7 L120.2,457.9 L120.4,458.2 L120.7,458.0 L120.9,458.3 L121.2,458.0 L121.4,458.3 L121.6,458.1 L121.9,458.4 L122.1,458.5 L122.4,458.1 L122.6,458.4 L122.8,458.1 L123.1,458.2 L123.3,458.1 L123.6,458.2 L123.8,458.1 L124.0,458.4 L124.3,458.3 L124.5,458.2 L124.8,458.4 L125.0,458.1 L125.2,458.2 L125.5,458.2 L125.7,458.0 L126.0,458.4 L126.2,458.0 L126.4,458.0 L126.7,458.3 L126.9,458.3 L127.2,458.0 L127.4,457.9 L127.6,457.7 L127.9,457.4 L128.1,457.5 L128.4,457.1 L128.6,456.7 L128.8,456.7 L129.1,456.0 L129.3,455.8 L129.6,455.8 L129.8,455.6 L130.0,455.3 L130.3,455.6 L130.5,455.7 L130.8,456.0 L131.0,456.4 L131.2,456.7 L131.5,456.9 L131.7,457.3 L132.0,457.4 L132.2,457.7 L132.4,458.0 L132.7,458.0 L132.9,458.0 L133.2,457.9 L133.4,458.3 L133.6,458.1 L133.9,458.1 L134.1,458.1 L134.4,458.2 L134.6,458.2 L134.9,458.4 L135.1,458.3 L135.3,458.2 L135.6,458.3 L135.8,458.2 L136.1,458.2 L136.3,458.3 L136.5,458.3 L136.8,458.3 L137.0,458.4 L137.3,458.2 L137.5,458.2 L137.7,458.0 L138.0,458.1 L138.2,458.2 L138.5,458.2 L138.7,458.4 L138.9,458.0 L139.2,458.1 L139.4,458.3 L139.7,458.2 L139.9,458.4 L140.1,458.0 L140.4,458.3 L140.6,458.1 L140.9,458.2 L141.1,458.0 L141.3,458.1 L141.6,458.3 L141.8,458.3 L142.1,458.2 L142.3,458.1 L142.5,457.9 L142.8,458.3 L143.0,458.1 L143.3,458.3 L143.5,458.2 L143.7,458.1 L144.0,458.3 L144.2,458.0 L144.5,458.4 L144.7,457.9 L144.9,458.4 L145.2,458.2 L145.4,458.1 L145.7,458.3 L145.9,458.1 L146.1,458.1 L146.4,457.8 L146.6,458.1 L146.9,458.0 L147.1,457.8 L147.3,457.7 L147.6,457.8 L147.8,458.0 L148.1,457.9 L148.3,457.6 L148.5,457.3 L148.8,457.6 L149.0,457.2 L149.3,457.4 L149.5,457.2 L149.7,457.3 L150.0,456.8 L150.2,457.0 L150.5,456.9 L150.7,456.5 L151.0,456.7 L151.2,456.5 L151.4,456.6 L151.7,456.7 L151.9,456.6 L152.2,456.5 L152.4,456.6 L152.6,456.4 L152.9,456.6 L153.1,456.5 L153.4,456.9 L153.6,456.6 L153.8,456.9 L154.1,456.9 L154.3,457.1 L154.6,457.0 L154.8,457.1 L155.0,457.4 L155.3,457.6 L155.5,457.7 L155.8,457.7 L156.0,457.9 L156.2,457.5 L156.5,457.8 L156.7,457.9 L157.0,457.7 L157.2,457.7 L157.4,457.8 L157.7,457.9 L157.9,458.1 L158.2,458.0 L158.4,458.0 L158.6,457.7 L158.9,458.0 L159.1,457.9 L159.4,457.8 L159.6,458.0 L159.8,457.8 L160.1,457.8 L160.3,457.8 L160.6,457.9 L160.8,457.4 L161.0,457.4 L161.3,457.1 L161.5,457.1 L161.8,456.8 L162.0,456.2 L162.2,456.1 L162.5,455.6 L162.7,455.1 L163.0,454.8 L163.2,454.8 L163.4,454.8 L163.7,454.8 L163.9,454.6 L164.2,455.3 L164.4,455.5 L164.6,455.8 L164.9,456.1 L165.1,456.5 L165.4,456.9 L165.6,457.0 L165.8,457.1 L166.1,457.6 L166.3,457.5 L166.6,457.3 L166.8,457.8 L167.1,457.4 L167.3,457.5 L167.5,457.6 L167.8,457.6 L168.0,457.7 L168.3,457.3 L168.5,457.5 L168.7,457.6 L169.0,457.3 L169.2,457.4 L169.5,457.2 L169.7,457.2 L169.9,457.2 L170.2,456.7 L170.4,456.6 L170.7,456.0 L170.9,455.7 L171.1,454.7 L171.4,453.5 L171.6,451.7 L171.9,449.0 L172.1,445.8 L172.3,440.9 L172.6,435.4 L172.8,428.1 L173.1,419.9 L173.3,410.1 L173.5,398.8 L173.8,387.0 L174.0,374.3 L174.3,361.9 L174.5,350.3 L174.7,340.5 L175.0,332.6 L175.2,327.5 L175.5,325.9 L175.7,327.9 L175.9,332.6 L176.2,340.5 L176.4,350.4 L176.7,361.8 L176.9,374.4 L177.1,386.7 L177.4,398.6 L177.6,410.0 L177.9,419.9 L178.1,428.1 L178.3,435.6 L178.6,440.8 L178.8,445.3 L179.1,448.8 L179.3,451.6 L179.5,453.3 L179.8,454.6 L180.0,455.4 L180.3,456.2 L180.5,456.2 L180.7,456.9 L181.0,456.7 L181.2,456.9 L181.5,457.2 L181.7,457.3 L182.0,457.3 L182.2,457.2 L182.4,457.5 L182.7,457.4 L182.9,457.2 L183.2,457.2 L183.4,457.7 L183.6,457.2 L183.9,457.3 L184.1,457.4 L184.4,457.7 L184.6,457.7 L184.8,457.7 L185.1,457.6 L185.3,457.3 L185.6,457.7 L185.8,457.4 L186.0,457.8 L186.3,457.8 L186.5,457.3 L186.8,457.6 L187.0,457.3 L187.2,457.2 L187.5,457.5 L187.7,457.1 L188.0,456.8 L188.2,456.6 L188.4,455.9 L188.7,455.3 L188.9,454.5 L189.2,453.4 L189.4,451.5 L189.6,450.1 L189.9,447.8 L190.1,445.8 L190.4,443.8 L190.6,441.9 L190.8,440.4 L191.1,439.8 L191.3,439.3 L191.6,439.6 L191.8,440.7 L192.0,441.9 L192.3,444.0 L192.5,446.2 L192.8,448.0 L193.0,449.9 L193.2,451.7 L193.5,453.2 L193.7,454.4 L194.0,455.3 L194.2,456.0 L194.4,456.7 L194.7,457.0 L194.9,457.0 L195.2,457.2 L195.4,457.7 L195.6,457.5 L195.9,457.8 L196.1,457.7 L196.4,457.7 L196.6,457.6 L196.8,457.7 L197.1,457.7 L197.3,457.7 L197.6,457.9 L197.8,457.5 L198.1,457.6 L198.3,457.9 L198.5,457.9 L198.8,457.9 L199.0,457.9 L199.3,457.5 L199.5,457.9 L199.7,457.6 L200.0,457.9 L200.2,457.7 L200.5,457.8 L200.7,457.8 L200.9,457.6 L201.2,457.8 L201.4,457.9 L201.7,457.7 L201.9,457.7 L202.1,457.7 L202.4,457.6 L202.6,457.7 L202.9,457.9 L203.1,458.0 L203.3,457.7 L203.6,457.7 L203.8,457.7 L204.1,458.0 L204.3,457.7 L204.5,457.6 L204.8,457.7 L205.0,457.6 L205.3,457.6 L205.5,457.6 L205.7,457.8 L206.0,458.0 L206.2,457.6 L206.5,457.7 L206.7,457.8 L206.9,457.5 L207.2,457.6 L207.4,457.8 L207.7,457.7 L207.9,457.7 L208.1,457.7 L208.4,457.5 L208.6,457.6 L208.9,457.6 L209.1,457.6 L209.3,457.5 L209.6,457.9 L209.8,457.5 L210.1,457.7 L210.3,457.6 L210.5,457.6 L210.8,457.9 L211.0,458.0 L211.3,458.0 L211.5,457.7 L211.7,457.8 L212.0,457.7 L212.2,457.5 L212.5,457.7 L212.7,457.8 L212.9,457.7 L213.2,457.9 L213.4,457.7 L213.7,457.6 L213.9,457.9 L214.2,457.8 L214.4,457.6 L214.6,457.9 L214.9,457.7 L215.1,457.8 L215.4,457.7 L215.6,457.9 L215.8,457.9 L216.1,457.7 L216.3,457.7 L216.6,457.9 L216.8,457.9 L217.0,457.8 L217.3,457.9 L217.5,457.7 L217.8,457.7 L218.0,457.6 L218.2,457.6 L218.5,457.5 L218.7,457.9 L219.0,457.7 L219.2,457.5 L219.4,457.6 L219.7,457.7 L219.9,457.9 L220.2,457.9 L220.4,457.8 L220.6,457.6 L220.9,457.7 L221.1,457.9 L221.4,457.7 L221.6,457.8 L221.8,457.5 L222.1,457.7 L222.3,457.7 L222.6,457.9 L222.8,457.9 L223.0,457.8 L223.3,457.6 L223.5,457.9 L223.8,457.9 L224.0,457.5 L224.2,457.7 L224.5,457.7 L224.7,457.6 L225.0,457.6 L225.2,457.8 L225.4,457.5 L225.7,457.7 L225.9,457.4 L226.2,457.7 L226.4,457.9 L226.6,457.4 L226.9,457.5 L227.1,457.9 L227.4,457.9 L227.6,457.7 L227.8,457.6 L228.1,457.6 L228.3,457.8 L228.6,457.7 L228.8,457.6 L229.0,457.8 L229.3,457.5 L229.5,457.6 L229.8,457.9 L230.0,457.9 L230.3,457.7 L230.5,457.8 L230.7,457.8 L231.0,457.7 L231.2,457.5 L231.5,457.5 L231.7,457.7 L231.9,457.6 L232.2,457.7 L232.4,457.4 L232.7,457.9 L232.9,457.5 L233.1,457.7 L233.4,457.7 L233.6,457.6 L233.9,457.5 L234.1,457.7 L234.3,457.5 L234.6,457.4 L234.8,457.5 L235.1,457.4 L235.3,457.8 L235.5,457.5 L235.8,457.8 L236.0,457.7 L236.3,457.9 L236.5,457.6 L236.7,457.5 L237.0,457.4 L237.2,457.7 L237.5,457.7 L237.7,457.7 L237.9,457.8 L238.2,457.4 L238.4,457.7 L238.7,457.7 L238.9,457.8 L239.1,457.5 L239.4,457.8 L239.6,457.4 L239.9,457.6 L240.1,457.5 L240.3,457.6 L240.6,457.4 L240.8,457.5 L241.1,457.5 L241.3,457.6 L241.5,457.5 L241.8,457.4 L242.0,457.4 L242.3,457.6 L242.5,457.8 L242.7,457.8 L243.0,457.4 L243.2,457.6 L243.5,457.4 L243.7,457.5 L243.9,457.8 L244.2,457.5 L244.4,457.4 L244.7,457.6 L244.9,457.6 L245.1,457.6 L245.4,457.8 L245.6,457.6 L245.9,457.5 L246.1,457.4 L246.4,457.6 L246.6,457.7 L246.8,457.6 L247.1,457.5 L247.3,457.4 L247.6,457.7 L247.8,457.8 L248.0,457.6 L248.3,457.7 L248.5,457.5 L248.8,457.4 L249.0,457.3 L249.2,457.6 L249.5,457.8 L249.7,457.6 L250.0,457.6 L250.2,457.7 L250.4,457.5 L250.7,457.5 L250.9,457.4 L251.2,457.7 L251.4,457.6 L251.6,457.5 L251.9,457.7 L252.1,457.7 L252.4,457.3 L252.6,457.4 L252.8,457.5 L253.1,457.6 L253.3,457.4 L253.6,457.5 L253.8,457.6 L254.0,457.4 L254.3,457.6 L254.5,457.3 L254.8,457.5 L255.0,457.6 L255.2,457.7 L255.5,457.5 L255.7,457.6 L256.0,457.6 L256.2,457.6 L256.4,457.5 L256.7,457.4 L256.9,457.3 L257.2,457.7 L257.4,457.6 L257.6,457.6 L257.9,457.6 L258.1,457.4 L258.4,457.3 L258.6,457.5 L258.8,457.5 L259.1,457.6 L259.3,457.7 L259.6,457.4 L259.8,457.4 L260.0,457.6 L260.3,457.7 L260.5,457.5 L260.8,457.5 L261.0,457.7 L261.2,457.7 L261.5,457.2 L261.7,457.7 L262.0,457.3 L262.2,457.5 L262.5,457.5 L262.7,457.7 L262.9,457.3 L263.2,457.2 L263.4,457.7 L263.7,457.4 L263.9,457.4 L264.1,457.4 L264.4,457.3 L264.6,457.2 L264.9,457.5 L265.1,457.3 L265.3,457.4 L265.6,457.7 L265.8,457.7 L266.1,457.3 L266.3,457.4 L266.5,457.3 L266.8,457.5 L267.0,457.3 L267.3,457.2 L267.5,457.6 L267.7,457.5 L268.0,457.6 L268.2,457.3 L268.5,457.3 L268.7,457.5 L268.9,457.5 L269.2,457.3 L269.4,457.4 L269.7,457.5 L269.9,457.4 L270.1,457.3 L270.4,457.4 L270.6,457.2 L270.9,457.2 L271.1,457.2 L271.3,457.6 L271.6,457.3 L271.8,457.5 L272.1,457.2 L272.3,457.6 L272.5,457.2 L272.8,457.6 L273.0,457.4 L273.3,457.6 L273.5,457.6 L273.7,457.2 L274.0,457.2" fill="none" stroke="#3a6ec8" stroke-width="1.7" stroke-linejoin="round"/>
<rect x="62.63" y="380" width="1.7" height="102" fill="url(#gsi)"/>
<line x1="175.5" y1="440" x2="175.5" y2="345" stroke="#4c5cae" stroke-width="2.2" opacity="0.85"/>
<path d="M274.6,444.6 L275.1,446.6 L275.6,443.5 L276.1,441.8 L276.6,443.4 L277.1,447.0 L277.6,446.2 L278.1,442.8 L278.6,441.9 L279.1,443.1 L279.6,445.7 L280.1,445.2 L280.6,444.4 L281.1,444.4 L281.6,445.2 L282.1,444.0 L282.6,444.9 L283.1,446.0 L283.6,449.3 L284.1,447.7 L284.6,449.1 L285.1,445.9 L285.6,448.1 L286.1,447.9 L286.6,446.6 L287.1,447.0 L287.6,449.1 L288.1,447.8 L288.6,449.9 L289.1,452.0 L289.6,453.4 L290.1,454.1 L290.6,448.9 L291.1,449.5 L291.6,447.9 L292.1,450.4 L292.6,450.0 L293.1,450.2 L293.6,450.8 L294.1,449.2 L294.6,449.8 L295.1,448.6 L295.6,453.5 L296.1,451.1 L296.6,450.9 L297.1,447.4 L297.6,446.3 L298.1,447.1 L298.6,450.8 L299.1,452.7 L299.6,452.7 L300.1,451.1 L300.6,455.2 L301.1,451.7 L301.6,450.4 L302.1,452.4 L302.6,450.6 L303.1,452.3 L303.6,454.6 L304.1,453.8 L304.6,454.5 L305.1,454.1 L305.6,452.7 L306.1,447.1 L306.6,448.3 L307.1,451.3 L307.6,449.7 L308.1,451.1 L308.6,453.4 L309.1,456.9 L309.6,453.4 L310.1,453.4 L310.6,455.0 L311.1,456.4 L311.6,453.5 L312.1,458.5 L312.6,455.8 L313.1,458.3 L313.6,457.2 L314.1,457.8 L314.6,460.8 L315.1,460.4 L315.6,459.2 L316.1,456.4 L316.6,455.8 L317.1,454.1 L317.6,460.1 L318.1,456.2 L318.6,452.3 L319.1,458.8 L319.6,461.4 L320.1,459.5 L320.6,461.1 L321.1,458.6 L321.6,458.0 L322.1,459.9 L322.6,460.7 L323.1,459.6 L323.6,463.2 L324.1,463.3 L324.6,462.3 L325.1,459.3 L325.6,460.5 L326.1,460.2 L326.6,460.7 L327.1,462.8 L327.6,461.2 L328.1,462.2 L328.6,463.8 L329.1,463.9 L329.6,467.9 L330.1,462.0 L330.6,462.5 L331.1,460.6 L331.6,462.0 L332.1,468.0 L332.6,462.8 L333.1,463.0 L333.6,465.2 L334.1,465.2 L334.6,467.0 L335.1,463.1 L335.6,466.3 L336.1,464.2 L336.6,462.8 L337.1,465.7 L337.6,467.1 L338.1,465.6 L338.6,464.7 L339.1,465.7 L339.6,466.6 L340.1,466.9 L340.6,465.5 L341.1,462.4 L341.6,468.1 L342.1,468.8 L342.6,466.5 L343.1,464.8 L343.6,465.8 L344.1,467.0 L344.6,464.3 L345.1,470.1 L345.6,471.2 L346.1,470.4 L346.6,471.4 L347.1,471.8 L347.6,473.8 L348.1,473.1 L348.6,475.0 L349.1,476.7 L349.6,473.9 L350.1,472.4 L350.6,470.9 L351.1,471.5 L351.6,471.0 L352.1,472.3 L352.6,473.7 L353.1,474.9 L353.6,472.3 L354.1,475.5 L354.6,474.5 L355.1,474.5 L355.6,473.8 L356.1,470.7 L356.6,473.7 L357.1,471.3 L357.6,475.9 L358.1,476.2 L358.6,479.5 L359.1,479.5 L359.6,479.7 L360.1,481.3 L360.6,479.4 L361.1,481.7 L361.6,479.6 L362.1,479.5 L362.6,477.7 L363.1,479.4 L363.6,480.6 L364.1,479.0 L364.6,476.7 L365.1,478.2 L365.6,480.0 L366.1,479.9 L366.6,478.3 L367.1,478.1 L367.6,479.1 L368.1,475.0 L368.6,477.1 L369.1,482.3 L369.6,479.7 L370.1,480.6 L370.6,484.9 L371.1,485.3 L371.6,486.0 L372.1,484.4 L372.6,481.3 L373.1,488.3 L373.6,486.8 L374.1,486.1 L374.6,488.6 L375.1,488.3 L375.6,486.8 L376.1,483.9 L376.6,484.4 L377.1,484.9 L377.6,484.2 L378.1,483.6 L378.6,483.2 L379.1,484.9 L379.6,485.0 L380.1,487.2 L380.6,489.7 L381.1,489.7 L381.6,489.3 L382.1,492.3 L382.6,492.2 L383.1,488.1 L383.6,487.8 L384.1,489.7 L384.6,488.7 L385.1,491.6 L385.6,488.3 L386.1,486.5 L386.6,491.6 L387.1,493.5 L387.6,490.4 L388.1,492.3 L388.6,496.0 L389.1,493.2 L389.6,491.8 L390.1,491.2 L390.6,491.6 L391.1,490.4 L391.6,492.5 L392.1,491.8 L392.6,494.6 L393.1,500.4 L393.6,497.0 L394.1,499.2 L394.6,501.0 L395.1,495.1 L395.6,497.0 L396.1,497.8 L396.6,497.5 L397.1,499.2 L397.6,496.7 L398.1,495.4 L398.6,491.0 L399.1,486.9 L399.6,481.8 L400.1,485.1 L400.6,483.7 L401.1,483.7 L401.6,492.7 L402.1,498.7 L402.6,499.5 L403.1,499.6 L403.6,499.7 L404.1,503.7 L404.6,502.7 L405.1,501.5 L405.6,504.1 L406.1,503.3 L406.6,503.5 L407.1,507.7 L407.6,507.7 L408.1,508.6 L408.6,507.5 L409.1,508.8 L409.6,506.7 L410.1,507.9 L410.6,508.9 L411.1,506.5 L411.6,503.7 L412.1,506.0 L412.6,505.9 L413.1,507.4 L413.6,505.9 L414.1,507.5 L414.6,509.2 L415.1,513.0 L415.6,513.8 L416.1,511.5 L416.6,512.6 L417.1,509.1 L417.6,511.0 L418.1,510.0 L418.6,511.9 L419.1,511.0 L419.6,509.5 L420.1,507.8 L420.6,511.0 L421.1,510.3 L421.6,511.3 L422.1,511.4 L422.6,506.5 L423.1,509.3 L423.6,508.9 L424.1,510.3 L424.6,511.2 L425.1,507.1 L425.6,508.1 L426.1,509.2 L426.6,510.7 L427.1,512.6 L427.6,510.3 L428.1,510.2 L428.6,511.9 L429.1,507.9 L429.6,513.3 L430.1,510.4 L430.6,513.6 L431.1,512.9 L431.6,516.1 L432.1,516.0 L432.6,513.9 L433.1,509.6 L433.6,511.2 L434.1,512.4 L434.6,513.5 L435.1,510.5 L435.6,509.9 L436.1,509.8 L436.6,511.9 L437.1,510.6 L437.6,511.6 L438.1,514.1 L438.6,512.8 L439.1,515.6 L439.6,515.0 L440.1,513.6 L440.6,515.5 L441.1,515.3 L441.6,513.6 L442.1,512.2 L442.6,512.5 L443.1,513.4 L443.6,515.4 L444.1,514.7 L444.6,512.5 L445.1,509.9 L445.6,511.8 L446.1,512.9 L446.6,514.9 L447.1,512.6 L447.6,509.8 L448.1,512.6 L448.6,511.9 L449.1,509.4 L449.6,513.8 L450.1,514.3 L450.6,512.9 L451.1,512.5 L451.6,510.1 L452.1,512.3 L452.6,510.4 L453.1,509.3 L453.6,508.8 L454.1,506.7 L454.6,509.7 L455.1,512.3 L455.6,511.5 L456.1,505.2 L456.6,505.2 L457.1,504.2 L457.6,505.3 L458.1,500.5 L458.6,497.6 L459.1,498.9 L459.6,501.7 L460.1,500.0 L460.6,503.2 L461.1,497.7 L461.6,495.8 L462.1,493.5 L462.6,489.7 L463.1,490.4 L463.6,484.5 L464.1,480.5 L464.6,478.2 L465.1,475.0 L465.6,474.8 L466.1,469.6 L466.6,467.1 L467.1,461.9 L467.6,460.6 L468.1,454.9 L468.6,449.9 L469.1,440.9 L469.6,438.1 L470.1,431.0 L470.6,427.7 L471.1,423.0 L471.6,419.1 L472.1,417.7 L472.6,415.9 L473.1,414.0 L473.6,417.5 L474.1,422.0 L474.6,424.6 L475.1,432.5 L475.6,441.1 L476.1,445.7 L476.6,450.2 L477.1,455.4 L477.6,461.3 L478.1,462.8 L478.6,468.2 L479.1,469.3 L479.6,474.1 L480.1,478.1 L480.6,478.2 L481.1,483.7 L481.6,487.0 L482.1,486.2 L482.6,489.5 L483.1,491.9 L483.6,493.6 L484.1,498.0 L484.6,498.6 L485.1,501.5 L485.6,501.5 L486.1,503.9 L486.6,510.0 L487.1,511.0 L487.6,508.1 L488.1,508.5 L488.6,510.7 L489.1,509.3 L489.6,514.1 L490.1,514.9 L490.6,515.6 L491.1,516.5 L491.6,515.8 L492.1,514.8 L492.6,510.7 L493.1,511.9 L493.6,516.3 L494.1,519.7 L494.6,519.8 L495.1,516.7 L495.6,518.2 L496.1,519.9 L496.6,518.2 L497.1,522.7 L497.6,520.1 L498.1,521.1 L498.6,519.5 L499.1,522.7 L499.6,520.1 L500.1,519.5 L500.6,523.2 L501.1,520.4 L501.6,520.3 L502.1,522.2 L502.6,522.5 L503.1,518.0 L503.6,519.7 L504.1,517.9 L504.6,519.0 L505.1,512.9 L505.6,514.1 L506.1,513.9 L506.6,512.5 L507.1,512.5 L507.6,515.1 L508.1,515.2 L508.6,516.8 L509.1,517.4 L509.6,519.8 L510.1,522.3 L510.6,519.1 L511.1,520.8 L511.6,522.1 L512.1,525.2 L512.6,522.3 L513.1,524.8" fill="none" stroke="#424242" stroke-width="2.3" stroke-linejoin="round"/>
<path d="M274.6,429.5 L275.1,429.2 L275.6,431.1 L276.1,430.3 L276.6,429.8 L277.1,429.6 L277.6,428.9 L278.1,428.5 L278.6,429.0 L279.1,428.6 L279.6,429.0 L280.1,428.6 L280.6,427.3 L281.1,426.6 L281.6,425.9 L282.1,424.2 L282.6,423.6 L283.1,422.6 L283.6,422.7 L284.1,422.1 L284.6,423.1 L285.1,424.9 L285.6,426.5 L286.1,426.7 L286.6,428.4 L287.1,428.0 L287.6,428.8 L288.1,428.3 L288.6,428.0 L289.1,427.3 L289.6,427.5 L290.1,429.1 L290.6,428.1 L291.1,428.7 L291.6,428.9 L292.1,427.9 L292.6,428.1 L293.1,428.3 L293.6,427.3 L294.1,426.4 L294.6,426.8 L295.1,426.4 L295.6,427.0 L296.1,426.1 L296.6,424.6 L297.1,424.4 L297.6,423.5 L298.1,424.2 L298.6,424.5 L299.1,424.0 L299.6,423.5 L300.1,424.5 L300.6,424.3 L301.1,425.3 L301.6,424.7 L302.1,424.9 L302.6,425.1 L303.1,425.0 L303.6,427.2 L304.1,427.9 L304.6,427.0 L305.1,427.4 L305.6,426.2 L306.1,427.5 L306.6,428.1 L307.1,427.6 L307.6,427.4 L308.1,427.7 L308.6,428.0 L309.1,427.7 L309.6,427.4 L310.1,427.6 L310.6,427.6 L311.1,428.4 L311.6,428.4 L312.1,428.5 L312.6,427.6 L313.1,427.8 L313.6,428.0 L314.1,428.1 L314.6,428.4 L315.1,428.5 L315.6,427.8 L316.1,429.0 L316.6,429.6 L317.1,429.1 L317.6,429.6 L318.1,428.9 L318.6,428.5 L319.1,428.9 L319.6,430.1 L320.1,429.9 L320.6,428.9 L321.1,429.5 L321.6,429.4 L322.1,429.3 L322.6,429.9 L323.1,429.0 L323.6,428.6 L324.1,428.6 L324.6,430.1 L325.1,430.4 L325.6,430.1 L326.1,429.9 L326.6,430.4 L327.1,430.6 L327.6,429.0 L328.1,428.0 L328.6,428.2 L329.1,427.2 L329.6,426.7 L330.1,427.6 L330.6,428.8 L331.1,430.3 L331.6,431.2 L332.1,431.3 L332.6,431.5 L333.1,432.0 L333.6,431.6 L334.1,431.9 L334.6,431.5 L335.1,432.6 L335.6,433.4 L336.1,432.4 L336.6,433.0 L337.1,432.9 L337.6,432.9 L338.1,432.7 L338.6,433.0 L339.1,433.6 L339.6,432.7 L340.1,433.5 L340.6,433.3 L341.1,432.7 L341.6,433.1 L342.1,433.7 L342.6,433.7 L343.1,433.9 L343.6,433.7 L344.1,433.6 L344.6,434.4 L345.1,433.8 L345.6,434.7 L346.1,434.8 L346.6,434.5 L347.1,434.5 L347.6,434.5 L348.1,434.7 L348.6,434.9 L349.1,435.0 L349.6,434.0 L350.1,433.5 L350.6,434.8 L351.1,434.9 L351.6,435.0 L352.1,435.4 L352.6,435.1 L353.1,436.5 L353.6,436.4 L354.1,436.4 L354.6,435.9 L355.1,436.8 L355.6,437.2 L356.1,437.9 L356.6,438.0 L357.1,437.1 L357.6,436.5 L358.1,437.6 L358.6,436.9 L359.1,436.7 L359.6,436.3 L360.1,436.3 L360.6,436.3 L361.1,435.5 L361.6,435.7 L362.1,435.6 L362.6,437.1 L363.1,437.8 L363.6,437.4 L364.1,438.8 L364.6,439.0 L365.1,438.6 L365.6,438.8 L366.1,438.8 L366.6,439.3 L367.1,439.7 L367.6,439.5 L368.1,440.0 L368.6,438.6 L369.1,439.3 L369.6,440.2 L370.1,441.0 L370.6,441.3 L371.1,440.5 L371.6,439.8 L372.1,440.3 L372.6,442.0 L373.1,441.9 L373.6,441.3 L374.1,440.5 L374.6,441.2 L375.1,441.3 L375.6,442.0 L376.1,442.2 L376.6,440.9 L377.1,441.6 L377.6,442.5 L378.1,442.3 L378.6,441.9 L379.1,441.8 L379.6,441.7 L380.1,443.7 L380.6,444.4 L381.1,443.6 L381.6,444.4 L382.1,443.5 L382.6,443.5 L383.1,443.4 L383.6,443.7 L384.1,444.4 L384.6,445.7 L385.1,445.6 L385.6,445.2 L386.1,445.2 L386.6,445.1 L387.1,445.4 L387.6,445.0 L388.1,445.4 L388.6,445.9 L389.1,446.4 L389.6,445.8 L390.1,446.2 L390.6,446.5 L391.1,446.0 L391.6,445.2 L392.1,445.7 L392.6,446.8 L393.1,446.8 L393.6,448.3 L394.1,448.2 L394.6,447.5 L395.1,447.5 L395.6,448.0 L396.1,448.3 L396.6,448.1 L397.1,448.4 L397.6,449.9 L398.1,449.3 L398.6,447.9 L399.1,446.0 L399.6,443.1 L400.1,441.9 L400.6,440.9 L401.1,441.4 L401.6,442.7 L402.1,445.4 L402.6,447.9 L403.1,448.6 L403.6,448.8 L404.1,449.8 L404.6,451.0 L405.1,451.1 L405.6,451.2 L406.1,450.3 L406.6,450.4 L407.1,451.1 L407.6,451.5 L408.1,451.5 L408.6,451.9 L409.1,452.3 L409.6,452.2 L410.1,451.8 L410.6,451.2 L411.1,451.9 L411.6,452.1 L412.1,452.3 L412.6,453.2 L413.1,452.7 L413.6,452.8 L414.1,453.4 L414.6,452.9 L415.1,452.0 L415.6,452.6 L416.1,453.7 L416.6,453.5 L417.1,453.7 L417.6,452.9 L418.1,454.3 L418.6,453.4 L419.1,453.7 L419.6,454.1 L420.1,455.6 L420.6,455.3 L421.1,454.8 L421.6,454.2 L422.1,454.6 L422.6,454.3 L423.1,454.6 L423.6,455.1 L424.1,456.1 L424.6,455.3 L425.1,456.4 L425.6,455.1 L426.1,456.6 L426.6,456.0 L427.1,455.9 L427.6,455.9 L428.1,456.3 L428.6,456.4 L429.1,456.3 L429.6,456.1 L430.1,456.1 L430.6,456.5 L431.1,456.5 L431.6,456.4 L432.1,456.0 L432.6,456.6 L433.1,457.3 L433.6,456.8 L434.1,457.7 L434.6,457.6 L435.1,457.7 L435.6,456.8 L436.1,457.7 L436.6,458.5 L437.1,459.4 L437.6,458.4 L438.1,458.2 L438.6,458.6 L439.1,458.7 L439.6,458.1 L440.1,458.2 L440.6,458.8 L441.1,458.9 L441.6,458.5 L442.1,459.0 L442.6,457.8 L443.1,458.3 L443.6,457.9 L444.1,457.8 L444.6,458.4 L445.1,459.2 L445.6,458.9 L446.1,458.5 L446.6,459.1 L447.1,458.9 L447.6,457.2 L448.1,457.2 L448.6,457.1 L449.1,457.0 L449.6,456.4 L450.1,457.2 L450.6,457.3 L451.1,458.1 L451.6,457.3 L452.1,457.0 L452.6,456.2 L453.1,456.6 L453.6,456.9 L454.1,457.0 L454.6,456.6 L455.1,455.3 L455.6,455.4 L456.1,454.1 L456.6,453.4 L457.1,452.9 L457.6,453.7 L458.1,452.1 L458.6,450.9 L459.1,450.5 L459.6,450.4 L460.1,449.6 L460.6,448.7 L461.1,447.0 L461.6,445.8 L462.1,445.5 L462.6,444.0 L463.1,442.1 L463.6,440.5 L464.1,439.7 L464.6,438.7 L465.1,436.5 L465.6,433.9 L466.1,433.1 L466.6,430.4 L467.1,428.6 L467.6,426.7 L468.1,424.3 L468.6,421.6 L469.1,419.7 L469.6,416.4 L470.1,412.1 L470.6,408.7 L471.1,406.6 L471.6,403.5 L472.1,400.8 L472.6,400.3 L473.1,400.3 L473.6,401.0 L474.1,403.1 L474.6,405.2 L475.1,408.4 L475.6,411.8 L476.1,414.5 L476.6,418.3 L477.1,420.2 L477.6,424.1 L478.1,426.0 L478.6,428.0 L479.1,429.0 L479.6,431.5 L480.1,432.7 L480.6,434.8 L481.1,436.5 L481.6,437.7 L482.1,440.4 L482.6,441.6 L483.1,442.6 L483.6,443.7 L484.1,445.3 L484.6,446.5 L485.1,448.0 L485.6,448.4 L486.1,449.4 L486.6,449.8 L487.1,450.3 L487.6,451.7 L488.1,451.8 L488.6,451.7 L489.1,453.2 L489.6,453.6 L490.1,454.7 L490.6,455.4 L491.1,456.0 L491.6,456.3 L492.1,457.4 L492.6,456.8 L493.1,457.9 L493.6,457.9 L494.1,458.4 L494.6,458.4 L495.1,459.3 L495.6,459.8 L496.1,459.6 L496.6,460.0 L497.1,460.6 L497.6,460.6 L498.1,462.2 L498.6,462.1 L499.1,461.5 L499.6,462.1 L500.1,462.0 L500.6,461.5 L501.1,461.3 L501.6,460.4 L502.1,460.9 L502.6,461.1 L503.1,459.7 L503.6,457.9 L504.1,455.8 L504.6,454.3 L505.1,453.7 L505.6,452.9 L506.1,452.9 L506.6,453.0 L507.1,454.1 L507.6,455.4 L508.1,457.0 L508.6,458.3 L509.1,459.4 L509.6,459.8 L510.1,460.5 L510.6,460.3 L511.1,460.7 L511.6,461.2 L512.1,461.7 L512.6,461.1 L513.1,461.1 L513.6,461.5 L514.1,461.6" fill="none" stroke="#dc5457" stroke-width="1.9" stroke-linejoin="round"/>
<path d="M274.6,401.0 L275.1,399.9 L275.6,400.1 L276.1,399.9 L276.6,399.5 L277.1,399.4 L277.6,399.5 L278.1,399.7 L278.6,400.2 L279.1,400.8 L279.6,400.7 L280.1,401.1 L280.6,401.0 L281.1,400.8 L281.6,400.6 L282.1,400.0 L282.6,399.5 L283.1,400.1 L283.6,400.3 L284.1,400.8 L284.6,401.0 L285.1,400.3 L285.6,400.3 L286.1,400.1 L286.6,401.2 L287.1,401.2 L287.6,401.3 L288.1,400.9 L288.6,400.5 L289.1,400.7 L289.6,401.0 L290.1,400.9 L290.6,398.3 L291.1,398.1 L291.6,399.5 L292.1,401.0 L292.6,401.4 L293.1,401.5 L293.6,402.1 L294.1,402.6 L294.6,402.6 L295.1,402.2 L295.6,402.5 L296.1,402.7 L296.6,403.1 L297.1,403.0 L297.6,402.0 L298.1,401.9 L298.6,402.2 L299.1,403.0 L299.6,402.9 L300.1,403.5 L300.6,403.5 L301.1,402.7 L301.6,403.1 L302.1,403.5 L302.6,403.7 L303.1,402.9 L303.6,403.5 L304.1,403.3 L304.6,402.5 L305.1,402.9 L305.6,402.4 L306.1,402.6 L306.6,404.2 L307.1,405.6 L307.6,405.6 L308.1,405.3 L308.6,406.0 L309.1,405.6 L309.6,404.7 L310.1,403.5 L310.6,404.7 L311.1,403.7 L311.6,402.9 L312.1,403.8 L312.6,404.6 L313.1,404.6 L313.6,405.7 L314.1,405.6 L314.6,405.8 L315.1,406.1 L315.6,405.7 L316.1,406.0 L316.6,407.4 L317.1,406.3 L317.6,406.4 L318.1,406.7 L318.6,406.3 L319.1,406.5 L319.6,405.7 L320.1,406.0 L320.6,406.5 L321.1,407.4 L321.6,407.8 L322.1,407.2 L322.6,406.6 L323.1,408.0 L323.6,408.3 L324.1,406.9 L324.6,407.1 L325.1,406.9 L325.6,407.1 L326.1,406.5 L326.6,406.9 L327.1,406.8 L327.6,406.6 L328.1,406.7 L328.6,406.0 L329.1,404.9 L329.6,404.4 L330.1,405.3 L330.6,407.3 L331.1,408.6 L331.6,408.6 L332.1,409.7 L332.6,409.9 L333.1,409.5 L333.6,409.9 L334.1,409.9 L334.6,409.4 L335.1,409.6 L335.6,410.1 L336.1,411.0 L336.6,410.3 L337.1,410.7 L337.6,410.8 L338.1,410.9 L338.6,410.4 L339.1,411.6 L339.6,412.3 L340.1,412.8 L340.6,412.6 L341.1,413.1 L341.6,412.9 L342.1,413.1 L342.6,412.5 L343.1,412.6 L343.6,412.4 L344.1,412.0 L344.6,412.2 L345.1,412.0 L345.6,412.0 L346.1,412.4 L346.6,412.6 L347.1,414.2 L347.6,414.9 L348.1,415.0 L348.6,414.9 L349.1,414.0 L349.6,414.3 L350.1,413.6 L350.6,413.7 L351.1,413.9 L351.6,414.2 L352.1,415.0 L352.6,414.6 L353.1,416.3 L353.6,415.5 L354.1,416.0 L354.6,414.9 L355.1,415.9 L355.6,415.2 L356.1,415.7 L356.6,416.0 L357.1,416.6 L357.6,416.9 L358.1,417.0 L358.6,416.8 L359.1,418.0 L359.6,417.3 L360.1,417.3 L360.6,417.1 L361.1,417.4 L361.6,417.1 L362.1,417.3 L362.6,418.0 L363.1,417.8 L363.6,418.4 L364.1,418.2 L364.6,419.4 L365.1,419.1 L365.6,420.2 L366.1,420.1 L366.6,419.8 L367.1,420.3 L367.6,420.8 L368.1,421.4 L368.6,421.6 L369.1,421.6 L369.6,420.5 L370.1,421.3 L370.6,421.2 L371.1,421.5 L371.6,422.2 L372.1,421.6 L372.6,422.5 L373.1,423.6 L373.6,423.2 L374.1,422.7 L374.6,423.4 L375.1,423.2 L375.6,423.7 L376.1,424.1 L376.6,422.9 L377.1,423.4 L377.6,422.8 L378.1,423.0 L378.6,423.9 L379.1,423.4 L379.6,423.6 L380.1,423.9 L380.6,424.6 L381.1,425.0 L381.6,425.4 L382.1,425.1 L382.6,425.0 L383.1,425.6 L383.6,425.3 L384.1,425.3 L384.6,426.2 L385.1,426.0 L385.6,425.9 L386.1,427.0 L386.6,427.1 L387.1,425.9 L387.6,426.3 L388.1,428.1 L388.6,429.5 L389.1,428.6 L389.6,428.8 L390.1,429.0 L390.6,429.0 L391.1,427.9 L391.6,429.0 L392.1,429.3 L392.6,429.2 L393.1,428.5 L393.6,428.8 L394.1,429.3 L394.6,429.6 L395.1,430.1 L395.6,430.1 L396.1,430.9 L396.6,431.2 L397.1,430.5 L397.6,430.5 L398.1,431.2 L398.6,431.1 L399.1,432.2 L399.6,431.7 L400.1,432.0 L400.6,432.4 L401.1,431.7 L401.6,432.8 L402.1,432.6 L402.6,432.3 L403.1,432.2 L403.6,431.6 L404.1,431.6 L404.6,433.3 L405.1,433.2 L405.6,433.2 L406.1,433.5 L406.6,433.9 L407.1,433.5 L407.6,433.6 L408.1,434.0 L408.6,434.7 L409.1,434.7 L409.6,435.5 L410.1,434.9 L410.6,434.7 L411.1,434.0 L411.6,434.5 L412.1,435.2 L412.6,435.1 L413.1,435.1 L413.6,434.8 L414.1,434.9 L414.6,435.1 L415.1,435.4 L415.6,436.3 L416.1,436.5 L416.6,436.9 L417.1,437.3 L417.6,436.6 L418.1,437.4 L418.6,437.1 L419.1,436.3 L419.6,436.3 L420.1,436.7 L420.6,436.1 L421.1,438.0 L421.6,437.7 L422.1,438.2 L422.6,437.3 L423.1,437.6 L423.6,437.9 L424.1,437.6 L424.6,438.0 L425.1,438.1 L425.6,438.5 L426.1,437.8 L426.6,438.5 L427.1,438.4 L427.6,438.1 L428.1,437.2 L428.6,438.0 L429.1,438.3 L429.6,440.0 L430.1,438.9 L430.6,439.9 L431.1,440.3 L431.6,440.1 L432.1,439.9 L432.6,440.0 L433.1,439.0 L433.6,440.1 L434.1,439.8 L434.6,439.4 L435.1,439.7 L435.6,438.3 L436.1,438.5 L436.6,438.7 L437.1,438.6 L437.6,439.8 L438.1,441.0 L438.6,440.7 L439.1,440.5 L439.6,440.7 L440.1,440.5 L440.6,440.7 L441.1,441.0 L441.6,440.9 L442.1,440.7 L442.6,440.9 L443.1,441.1 L443.6,441.5 L444.1,440.5 L444.6,440.2 L445.1,440.5 L445.6,441.1 L446.1,440.5 L446.6,441.5 L447.1,442.2 L447.6,441.3 L448.1,441.9 L448.6,440.4 L449.1,440.8 L449.6,440.1 L450.1,441.2 L450.6,441.6 L451.1,441.6 L451.6,441.0 L452.1,440.3 L452.6,440.7 L453.1,440.4 L453.6,440.7 L454.1,439.6 L454.6,439.9 L455.1,440.1 L455.6,438.4 L456.1,438.0 L456.6,437.9 L457.1,437.7 L457.6,436.8 L458.1,437.0 L458.6,436.2 L459.1,436.0 L459.6,434.5 L460.1,433.7 L460.6,433.8 L461.1,432.1 L461.6,431.6 L462.1,431.5 L462.6,430.5 L463.1,428.0 L463.6,428.0 L464.1,425.6 L464.6,424.3 L465.1,422.7 L465.6,420.1 L466.1,418.3 L466.6,414.5 L467.1,413.1 L467.6,411.5 L468.1,409.3 L468.6,407.3 L469.1,405.6 L469.6,403.3 L470.1,399.9 L470.6,397.5 L471.1,395.2 L471.6,392.2 L472.1,389.9 L472.6,386.5 L473.1,385.3 L473.6,386.1 L474.1,386.4 L474.6,389.2 L475.1,392.1 L475.6,393.9 L476.1,396.2 L476.6,399.3 L477.1,402.3 L477.6,405.4 L478.1,407.5 L478.6,409.7 L479.1,411.2 L479.6,413.5 L480.1,414.9 L480.6,417.5 L481.1,419.5 L481.6,420.1 L482.1,422.3 L482.6,423.4 L483.1,425.7 L483.6,426.5 L484.1,428.8 L484.6,430.4 L485.1,432.2 L485.6,432.7 L486.1,433.2 L486.6,434.4 L487.1,434.1 L487.6,434.9 L488.1,435.5 L488.6,436.3 L489.1,436.1 L489.6,436.3 L490.1,436.6 L490.6,438.8 L491.1,439.1 L491.6,440.0 L492.1,440.3 L492.6,440.5 L493.1,441.7 L493.6,440.5 L494.1,441.3 L494.6,441.5 L495.1,441.8 L495.6,441.7 L496.1,441.9 L496.6,442.3 L497.1,443.9 L497.6,443.9 L498.1,444.1 L498.6,444.5 L499.1,445.2 L499.6,445.8 L500.1,445.7 L500.6,445.6 L501.1,445.7 L501.6,445.0 L502.1,444.9 L502.6,445.3 L503.1,443.7 L503.6,442.1 L504.1,440.3 L504.6,439.7 L505.1,439.3 L505.6,438.4 L506.1,438.2 L506.6,439.4 L507.1,440.0 L507.6,441.4 L508.1,442.1 L508.6,443.9 L509.1,444.9 L509.6,445.2 L510.1,445.3 L510.6,447.1 L511.1,446.0 L511.6,445.6 L512.1,444.7 L512.6,446.0 L513.1,446.5 L513.6,446.8 L514.1,446.3" fill="none" stroke="#3a6ec8" stroke-width="1.9" stroke-linejoin="round"/>
<line x1="33" y1="524.5" x2="514.5" y2="524.5" stroke="#444" stroke-width="1.4"/>
<line x1="274.6" y1="331.5" x2="274.6" y2="524.5" stroke="#70757e" stroke-width="1.8"/>
<line x1="45.7" y1="524.5" x2="45.7" y2="531.3" stroke="#444" stroke-width="1.2"/>
<text x="45.7" y="546.2" font-size="11.6" fill="#333" text-anchor="middle" stroke="#333" stroke-width="0.22">1</text>
<line x1="69.7" y1="524.5" x2="69.7" y2="531.3" stroke="#444" stroke-width="1.2"/>
<text x="69.7" y="546.2" font-size="11.6" fill="#333" text-anchor="middle" stroke="#333" stroke-width="0.22">2</text>
<line x1="93.8" y1="524.5" x2="93.8" y2="531.3" stroke="#444" stroke-width="1.2"/>
<text x="93.8" y="546.2" font-size="11.6" fill="#333" text-anchor="middle" stroke="#333" stroke-width="0.22">3</text>
<line x1="117.8" y1="524.5" x2="117.8" y2="531.3" stroke="#444" stroke-width="1.2"/>
<text x="117.8" y="546.2" font-size="11.6" fill="#333" text-anchor="middle" stroke="#333" stroke-width="0.22">4</text>
<line x1="141.8" y1="524.5" x2="141.8" y2="531.3" stroke="#444" stroke-width="1.2"/>
<text x="141.8" y="546.2" font-size="11.6" fill="#333" text-anchor="middle" stroke="#333" stroke-width="0.22">5</text>
<line x1="165.9" y1="524.5" x2="165.9" y2="531.3" stroke="#444" stroke-width="1.2"/>
<text x="165.9" y="546.2" font-size="11.6" fill="#333" text-anchor="middle" stroke="#333" stroke-width="0.22">6</text>
<line x1="189.9" y1="524.5" x2="189.9" y2="531.3" stroke="#444" stroke-width="1.2"/>
<text x="189.9" y="546.2" font-size="11.6" fill="#333" text-anchor="middle" stroke="#333" stroke-width="0.22">7</text>
<line x1="213.9" y1="524.5" x2="213.9" y2="531.3" stroke="#444" stroke-width="1.2"/>
<text x="213.9" y="546.2" font-size="11.6" fill="#333" text-anchor="middle" stroke="#333" stroke-width="0.22">8</text>
<line x1="237.9" y1="524.5" x2="237.9" y2="531.3" stroke="#444" stroke-width="1.2"/>
<text x="237.9" y="546.2" font-size="11.6" fill="#333" text-anchor="middle" stroke="#333" stroke-width="0.22">9</text>
<line x1="262.0" y1="524.5" x2="262.0" y2="531.3" stroke="#444" stroke-width="1.2"/>
<text x="262.0" y="546.2" font-size="11.6" fill="#333" text-anchor="middle" stroke="#333" stroke-width="0.22">10</text>
<line x1="286.0" y1="524.5" x2="286.0" y2="531.3" stroke="#444" stroke-width="1.2"/>
<text x="286.0" y="546.2" font-size="11.6" fill="#333" text-anchor="middle" stroke="#333" stroke-width="0.22">11</text>
<line x1="310.0" y1="524.5" x2="310.0" y2="531.3" stroke="#444" stroke-width="1.2"/>
<text x="310.0" y="546.2" font-size="11.6" fill="#333" text-anchor="middle" stroke="#333" stroke-width="0.22">12</text>
<line x1="334.1" y1="524.5" x2="334.1" y2="531.3" stroke="#444" stroke-width="1.2"/>
<text x="334.1" y="546.2" font-size="11.6" fill="#333" text-anchor="middle" stroke="#333" stroke-width="0.22">13</text>
<line x1="358.1" y1="524.5" x2="358.1" y2="531.3" stroke="#444" stroke-width="1.2"/>
<text x="358.1" y="546.2" font-size="11.6" fill="#333" text-anchor="middle" stroke="#333" stroke-width="0.22">14</text>
<line x1="382.1" y1="524.5" x2="382.1" y2="531.3" stroke="#444" stroke-width="1.2"/>
<text x="382.1" y="546.2" font-size="11.6" fill="#333" text-anchor="middle" stroke="#333" stroke-width="0.22">15</text>
<line x1="406.2" y1="524.5" x2="406.2" y2="531.3" stroke="#444" stroke-width="1.2"/>
<text x="406.2" y="546.2" font-size="11.6" fill="#333" text-anchor="middle" stroke="#333" stroke-width="0.22">16</text>
<line x1="430.2" y1="524.5" x2="430.2" y2="531.3" stroke="#444" stroke-width="1.2"/>
<text x="430.2" y="546.2" font-size="11.6" fill="#333" text-anchor="middle" stroke="#333" stroke-width="0.22">17</text>
<line x1="454.2" y1="524.5" x2="454.2" y2="531.3" stroke="#444" stroke-width="1.2"/>
<text x="454.2" y="546.2" font-size="11.6" fill="#333" text-anchor="middle" stroke="#333" stroke-width="0.22">18</text>
<line x1="478.2" y1="524.5" x2="478.2" y2="531.3" stroke="#444" stroke-width="1.2"/>
<text x="478.2" y="546.2" font-size="11.6" fill="#333" text-anchor="middle" stroke="#333" stroke-width="0.22">19</text>
<line x1="502.3" y1="524.5" x2="502.3" y2="531.3" stroke="#444" stroke-width="1.2"/>
<text x="502.3" y="546.2" font-size="11.6" fill="#333" text-anchor="middle" stroke="#333" stroke-width="0.22">20</text>
<text x="279.6" y="564.8" font-size="12.55" fill="#333" text-anchor="middle" stroke="#333" stroke-width="0.22">Energy (KeV)</text>
<text transform="translate(533.8,432.5) rotate(-90)" font-size="12.35" fill="#333" text-anchor="middle" stroke="#333" stroke-width="0.22">X-ray fluorescence (normalized)</text>
<text x="33.0" y="462.0" font-size="9.2" fill="#333" text-anchor="end" stroke="#333" stroke-width="0.22">P19</text>
<text x="33.0" y="487.3" font-size="9.2" fill="#333" text-anchor="end" stroke="#333" stroke-width="0.22">P17</text>
<text x="33.0" y="513.0" font-size="9.2" fill="#333" text-anchor="end" stroke="#333" stroke-width="0.22">P6</text>
<text x="272.5" y="402.2" font-size="9.2" fill="#333" text-anchor="end" stroke="#333" stroke-width="0.22">P19</text>
<text x="272.5" y="431.0" font-size="9.2" fill="#333" text-anchor="end" stroke="#333" stroke-width="0.22">P17</text>
<text x="272.5" y="445.6" font-size="9.2" fill="#333" text-anchor="end" stroke="#333" stroke-width="0.22">P6</text>
<text transform="translate(60.3,377.0) rotate(-90)" font-size="10.45" fill="#222" text-anchor="start" stroke="#222" stroke-width="0.22">Al-Kα</text>
<text transform="translate(71.3,371.0) rotate(-90)" font-size="10.45" fill="#222" text-anchor="start" stroke="#222" stroke-width="0.22">Si-Kα</text>
<text transform="translate(93.3,402.5) rotate(-90)" font-size="10.45" fill="#ac4444" text-anchor="start" stroke="#ac4444" stroke-width="0.22">Rh-Lα</text>
<text transform="translate(113.8,377.0) rotate(-90)" font-size="10.45" fill="#222" text-anchor="start" stroke="#222" stroke-width="0.22">Ca-Kα</text>
<text transform="translate(124.3,377.0) rotate(-90)" font-size="10.45" fill="#222" text-anchor="start" stroke="#222" stroke-width="0.22">Ca-Kβ</text>
<text transform="translate(135.0,377.0) rotate(-90)" font-size="10.45" fill="#222" text-anchor="start" stroke="#222" stroke-width="0.22">Ti-Kα</text>
<text transform="translate(146.0,377.0) rotate(-90)" font-size="10.45" fill="#222" text-anchor="start" stroke="#222" stroke-width="0.22">Ti-Kβ</text>
<text transform="translate(168.8,377.0) rotate(-90)" font-size="10.45" fill="#222" text-anchor="start" stroke="#222" stroke-width="0.22">Mn-Kα</text>
<text transform="translate(187.2,353.5) rotate(-90)" font-size="10.45" fill="#222" text-anchor="start" stroke="#222" stroke-width="0.22">Fe-Kα</text>
<text transform="translate(195.2,378.0) rotate(-90)" font-size="10.45" fill="#222" text-anchor="start" stroke="#222" stroke-width="0.22">Fe-Kβ</text>
<text transform="translate(332.4,390.0) rotate(-90)" font-size="10.5" fill="#ac4444" text-anchor="start" stroke="#ac4444" stroke-width="0.22">Fe pile up</text>
<text transform="translate(405.6,391.0) rotate(-90)" font-size="10.5" fill="#222" text-anchor="start" stroke="#222" stroke-width="0.22">Zr-Kα</text>
<text transform="translate(511.8,434.0) rotate(-90)" font-size="9.8" fill="#ac4444" text-anchor="start" stroke="#ac4444" stroke-width="0.22">Rh-Kα</text>
</g>
<g id="pd">
<rect x="549.8" y="313.1" width="522.6" height="255.9" fill="#fff" stroke="#c6c7c6" stroke-width="1.5"/>
<text x="555.2" y="334.2" font-size="21" fill="#111" stroke="#111" stroke-width="0.35">d</text>
<rect x="617.69" y="493.85" width="3.9" height="24.55" fill="#8c8c8c"/>
<rect x="622.62" y="469.30" width="3.9" height="49.10" fill="#8c8c8c"/>
<rect x="627.55" y="346.55" width="3.9" height="171.85" fill="#8c8c8c"/>
<rect x="647.28" y="346.55" width="3.9" height="171.85" fill="#8c8c8c"/>
<rect x="652.21" y="493.85" width="3.9" height="24.55" fill="#8c8c8c"/>
<rect x="667.00" y="493.85" width="3.9" height="24.55" fill="#8c8c8c"/>
<rect x="681.80" y="346.55" width="3.9" height="171.85" fill="#8c8c8c"/>
<rect x="686.73" y="420.20" width="3.9" height="98.20" fill="#8c8c8c"/>
<rect x="696.59" y="469.30" width="3.9" height="49.10" fill="#8c8c8c"/>
<rect x="706.45" y="420.20" width="3.9" height="98.20" fill="#8c8c8c"/>
<rect x="711.38" y="444.75" width="3.9" height="73.65" fill="#8c8c8c"/>
<rect x="795.21" y="493.85" width="3.9" height="24.55" fill="#8c8c8c"/>
<rect x="800.14" y="493.85" width="3.9" height="24.55" fill="#8c8c8c"/>
<rect x="600.0" y="322.0" width="204.6" height="196.4" fill="none" stroke="#868686" stroke-width="1.1"/>
<line x1="604.85" y1="518.4" x2="604.85" y2="524.6" stroke="#4a4a4a" stroke-width="1.05"/>
<text x="603.1" y="538.5" font-size="10.7" fill="#333" text-anchor="middle" stroke="#333" stroke-width="0.22">P1</text>
<line x1="609.78" y1="518.4" x2="609.78" y2="521.9" stroke="#4a4a4a" stroke-width="1.05"/>
<line x1="614.71" y1="518.4" x2="614.71" y2="521.9" stroke="#4a4a4a" stroke-width="1.05"/>
<line x1="619.64" y1="518.4" x2="619.64" y2="521.9" stroke="#4a4a4a" stroke-width="1.05"/>
<line x1="624.57" y1="518.4" x2="624.57" y2="521.9" stroke="#4a4a4a" stroke-width="1.05"/>
<line x1="629.50" y1="518.4" x2="629.50" y2="524.6" stroke="#4a4a4a" stroke-width="1.05"/>
<text x="627.8" y="538.5" font-size="10.7" fill="#333" text-anchor="middle" stroke="#333" stroke-width="0.22">P6</text>
<line x1="634.44" y1="518.4" x2="634.44" y2="521.9" stroke="#4a4a4a" stroke-width="1.05"/>
<line x1="639.37" y1="518.4" x2="639.37" y2="521.9" stroke="#4a4a4a" stroke-width="1.05"/>
<line x1="644.30" y1="518.4" x2="644.30" y2="521.9" stroke="#4a4a4a" stroke-width="1.05"/>
<line x1="649.23" y1="518.4" x2="649.23" y2="521.9" stroke="#4a4a4a" stroke-width="1.05"/>
<line x1="654.16" y1="518.4" x2="654.16" y2="524.6" stroke="#4a4a4a" stroke-width="1.05"/>
<text x="652.5" y="538.5" font-size="10.7" fill="#333" text-anchor="middle" stroke="#333" stroke-width="0.22">P11</text>
<line x1="659.09" y1="518.4" x2="659.09" y2="521.9" stroke="#4a4a4a" stroke-width="1.05"/>
<line x1="664.02" y1="518.4" x2="664.02" y2="521.9" stroke="#4a4a4a" stroke-width="1.05"/>
<line x1="668.95" y1="518.4" x2="668.95" y2="521.9" stroke="#4a4a4a" stroke-width="1.05"/>
<line x1="673.88" y1="518.4" x2="673.88" y2="521.9" stroke="#4a4a4a" stroke-width="1.05"/>
<line x1="678.82" y1="518.4" x2="678.82" y2="524.6" stroke="#4a4a4a" stroke-width="1.05"/>
<text x="677.1" y="538.5" font-size="10.7" fill="#333" text-anchor="middle" stroke="#333" stroke-width="0.22">P16</text>
<line x1="683.75" y1="518.4" x2="683.75" y2="521.9" stroke="#4a4a4a" stroke-width="1.05"/>
<line x1="688.68" y1="518.4" x2="688.68" y2="521.9" stroke="#4a4a4a" stroke-width="1.05"/>
<line x1="693.61" y1="518.4" x2="693.61" y2="521.9" stroke="#4a4a4a" stroke-width="1.05"/>
<line x1="698.54" y1="518.4" x2="698.54" y2="521.9" stroke="#4a4a4a" stroke-width="1.05"/>
<line x1="703.47" y1="518.4" x2="703.47" y2="524.6" stroke="#4a4a4a" stroke-width="1.05"/>
<text x="701.8" y="538.5" font-size="10.7" fill="#333" text-anchor="middle" stroke="#333" stroke-width="0.22">P21</text>
<line x1="708.40" y1="518.4" x2="708.40" y2="521.9" stroke="#4a4a4a" stroke-width="1.05"/>
<line x1="713.33" y1="518.4" x2="713.33" y2="521.9" stroke="#4a4a4a" stroke-width="1.05"/>
<line x1="718.26" y1="518.4" x2="718.26" y2="521.9" stroke="#4a4a4a" stroke-width="1.05"/>
<line x1="723.19" y1="518.4" x2="723.19" y2="521.9" stroke="#4a4a4a" stroke-width="1.05"/>
<line x1="728.12" y1="518.4" x2="728.12" y2="524.6" stroke="#4a4a4a" stroke-width="1.05"/>
<text x="726.4" y="538.5" font-size="10.7" fill="#333" text-anchor="middle" stroke="#333" stroke-width="0.22">P26</text>
<line x1="733.06" y1="518.4" x2="733.06" y2="521.9" stroke="#4a4a4a" stroke-width="1.05"/>
<line x1="737.99" y1="518.4" x2="737.99" y2="521.9" stroke="#4a4a4a" stroke-width="1.05"/>
<line x1="742.92" y1="518.4" x2="742.92" y2="521.9" stroke="#4a4a4a" stroke-width="1.05"/>
<line x1="747.85" y1="518.4" x2="747.85" y2="521.9" stroke="#4a4a4a" stroke-width="1.05"/>
<line x1="752.78" y1="518.4" x2="752.78" y2="524.6" stroke="#4a4a4a" stroke-width="1.05"/>
<text x="751.1" y="538.5" font-size="10.7" fill="#333" text-anchor="middle" stroke="#333" stroke-width="0.22">P31</text>
<line x1="757.71" y1="518.4" x2="757.71" y2="521.9" stroke="#4a4a4a" stroke-width="1.05"/>
<line x1="762.64" y1="518.4" x2="762.64" y2="521.9" stroke="#4a4a4a" stroke-width="1.05"/>
<line x1="767.57" y1="518.4" x2="767.57" y2="521.9" stroke="#4a4a4a" stroke-width="1.05"/>
<line x1="772.50" y1="518.4" x2="772.50" y2="521.9" stroke="#4a4a4a" stroke-width="1.05"/>
<line x1="777.44" y1="518.4" x2="777.44" y2="524.6" stroke="#4a4a4a" stroke-width="1.05"/>
<text x="775.7" y="538.5" font-size="10.7" fill="#333" text-anchor="middle" stroke="#333" stroke-width="0.22">P36</text>
<line x1="782.37" y1="518.4" x2="782.37" y2="521.9" stroke="#4a4a4a" stroke-width="1.05"/>
<line x1="787.30" y1="518.4" x2="787.30" y2="521.9" stroke="#4a4a4a" stroke-width="1.05"/>
<line x1="792.23" y1="518.4" x2="792.23" y2="521.9" stroke="#4a4a4a" stroke-width="1.05"/>
<line x1="797.16" y1="518.4" x2="797.16" y2="521.9" stroke="#4a4a4a" stroke-width="1.05"/>
<line x1="802.09" y1="518.4" x2="802.09" y2="524.6" stroke="#4a4a4a" stroke-width="1.05"/>
<text x="800.4" y="538.5" font-size="10.7" fill="#333" text-anchor="middle" stroke="#333" stroke-width="0.22">P41</text>
<line x1="595.0" y1="518.4" x2="600.0" y2="518.4" stroke="#555" stroke-width="0.9"/>
<text x="593.0" y="522.2" font-size="10.4" fill="#333" text-anchor="end" stroke="#333" stroke-width="0.22">0.00</text>
<line x1="595.0" y1="469.3" x2="600.0" y2="469.3" stroke="#555" stroke-width="0.9"/>
<text x="593.0" y="473.1" font-size="10.4" fill="#333" text-anchor="end" stroke="#333" stroke-width="0.22">0.02</text>
<line x1="595.0" y1="420.2" x2="600.0" y2="420.2" stroke="#555" stroke-width="0.9"/>
<text x="593.0" y="424.0" font-size="10.4" fill="#333" text-anchor="end" stroke="#333" stroke-width="0.22">0.04</text>
<line x1="595.0" y1="371.1" x2="600.0" y2="371.1" stroke="#555" stroke-width="0.9"/>
<text x="593.0" y="374.9" font-size="10.4" fill="#333" text-anchor="end" stroke="#333" stroke-width="0.22">0.06</text>
<line x1="595.0" y1="322.0" x2="600.0" y2="322.0" stroke="#555" stroke-width="0.9"/>
<text x="593.0" y="325.8" font-size="10.4" fill="#333" text-anchor="end" stroke="#333" stroke-width="0.22">0.08</text>
<line x1="597.0" y1="493.8" x2="600.0" y2="493.8" stroke="#555" stroke-width="0.8"/>
<line x1="597.0" y1="444.8" x2="600.0" y2="444.8" stroke="#555" stroke-width="0.8"/>
<line x1="597.0" y1="395.6" x2="600.0" y2="395.6" stroke="#555" stroke-width="0.8"/>
<line x1="597.0" y1="346.5" x2="600.0" y2="346.5" stroke="#555" stroke-width="0.8"/>
<text transform="translate(565.3,421) rotate(-90)" font-size="14.25" fill="#333" text-anchor="middle" stroke="#333" stroke-width="0.22">Zr (norm., wt%)</text>
<text x="702.4" y="564" font-size="14" fill="#333" text-anchor="middle" stroke="#333" stroke-width="0.22">Particle</text>
<rect x="858.85" y="479.91" width="3.9" height="38.49" fill="#8c8c8c"/>
<rect x="863.79" y="490.90" width="3.9" height="27.50" fill="#8c8c8c"/>
<rect x="868.73" y="499.55" width="3.9" height="18.85" fill="#8c8c8c"/>
<rect x="873.67" y="509.76" width="3.9" height="8.64" fill="#8c8c8c"/>
<rect x="878.61" y="516.04" width="3.9" height="2.36" fill="#8c8c8c"/>
<rect x="883.55" y="502.69" width="3.9" height="15.71" fill="#8c8c8c"/>
<rect x="888.49" y="506.62" width="3.9" height="11.78" fill="#8c8c8c"/>
<rect x="893.43" y="494.28" width="3.9" height="24.12" fill="#8c8c8c"/>
<rect x="898.37" y="509.76" width="3.9" height="8.64" fill="#8c8c8c"/>
<rect x="903.31" y="514.08" width="3.9" height="4.32" fill="#8c8c8c"/>
<rect x="908.25" y="489.33" width="3.9" height="29.07" fill="#8c8c8c"/>
<rect x="913.19" y="502.69" width="3.9" height="15.71" fill="#8c8c8c"/>
<rect x="918.13" y="498.76" width="3.9" height="19.64" fill="#8c8c8c"/>
<rect x="923.07" y="503.87" width="3.9" height="14.53" fill="#8c8c8c"/>
<rect x="928.01" y="482.26" width="3.9" height="36.14" fill="#8c8c8c"/>
<rect x="932.95" y="497.97" width="3.9" height="20.43" fill="#8c8c8c"/>
<rect x="937.89" y="352.64" width="3.9" height="165.76" fill="#8c8c8c"/>
<rect x="942.83" y="382.49" width="3.9" height="135.91" fill="#8c8c8c"/>
<rect x="947.77" y="512.12" width="3.9" height="6.28" fill="#8c8c8c"/>
<rect x="952.71" y="509.76" width="3.9" height="8.64" fill="#8c8c8c"/>
<rect x="957.65" y="508.97" width="3.9" height="9.43" fill="#8c8c8c"/>
<rect x="962.59" y="499.55" width="3.9" height="18.85" fill="#8c8c8c"/>
<rect x="967.53" y="344.39" width="3.9" height="174.01" fill="#8c8c8c"/>
<rect x="972.47" y="500.33" width="3.9" height="18.07" fill="#8c8c8c"/>
<rect x="977.41" y="421.77" width="3.9" height="96.63" fill="#8c8c8c"/>
<rect x="982.35" y="509.76" width="3.9" height="8.64" fill="#8c8c8c"/>
<rect x="987.29" y="517.61" width="3.9" height="0.79" fill="#8c8c8c"/>
<rect x="992.23" y="496.80" width="3.9" height="21.60" fill="#8c8c8c"/>
<rect x="997.17" y="498.37" width="3.9" height="20.03" fill="#8c8c8c"/>
<rect x="1002.11" y="393.49" width="3.9" height="124.91" fill="#8c8c8c"/>
<rect x="1007.05" y="506.62" width="3.9" height="11.78" fill="#8c8c8c"/>
<rect x="1011.99" y="507.01" width="3.9" height="11.39" fill="#8c8c8c"/>
<rect x="1016.93" y="502.69" width="3.9" height="15.71" fill="#8c8c8c"/>
<rect x="1021.87" y="514.08" width="3.9" height="4.32" fill="#8c8c8c"/>
<rect x="1026.81" y="507.01" width="3.9" height="11.39" fill="#8c8c8c"/>
<rect x="1031.75" y="510.54" width="3.9" height="7.86" fill="#8c8c8c"/>
<rect x="1036.69" y="512.12" width="3.9" height="6.28" fill="#8c8c8c"/>
<rect x="1041.63" y="515.26" width="3.9" height="3.14" fill="#8c8c8c"/>
<rect x="1046.57" y="516.44" width="3.9" height="1.96" fill="#8c8c8c"/>
<rect x="1051.51" y="505.83" width="3.9" height="12.57" fill="#8c8c8c"/>
<rect x="1056.45" y="514.47" width="3.9" height="3.93" fill="#8c8c8c"/>
<rect x="855.9" y="322.0" width="205.4" height="196.4" fill="none" stroke="#868686" stroke-width="1.1"/>
<line x1="860.80" y1="518.4" x2="860.80" y2="524.6" stroke="#4a4a4a" stroke-width="1.05"/>
<text x="859.1" y="538.5" font-size="10.7" fill="#333" text-anchor="middle" stroke="#333" stroke-width="0.22">P1</text>
<line x1="865.74" y1="518.4" x2="865.74" y2="521.9" stroke="#4a4a4a" stroke-width="1.05"/>
<line x1="870.68" y1="518.4" x2="870.68" y2="521.9" stroke="#4a4a4a" stroke-width="1.05"/>
<line x1="875.62" y1="518.4" x2="875.62" y2="521.9" stroke="#4a4a4a" stroke-width="1.05"/>
<line x1="880.56" y1="518.4" x2="880.56" y2="521.9" stroke="#4a4a4a" stroke-width="1.05"/>
<line x1="885.50" y1="518.4" x2="885.50" y2="524.6" stroke="#4a4a4a" stroke-width="1.05"/>
<text x="883.8" y="538.5" font-size="10.7" fill="#333" text-anchor="middle" stroke="#333" stroke-width="0.22">P6</text>
<line x1="890.44" y1="518.4" x2="890.44" y2="521.9" stroke="#4a4a4a" stroke-width="1.05"/>
<line x1="895.38" y1="518.4" x2="895.38" y2="521.9" stroke="#4a4a4a" stroke-width="1.05"/>
<line x1="900.32" y1="518.4" x2="900.32" y2="521.9" stroke="#4a4a4a" stroke-width="1.05"/>
<line x1="905.26" y1="518.4" x2="905.26" y2="521.9" stroke="#4a4a4a" stroke-width="1.05"/>
<line x1="910.20" y1="518.4" x2="910.20" y2="524.6" stroke="#4a4a4a" stroke-width="1.05"/>
<text x="908.5" y="538.5" font-size="10.7" fill="#333" text-anchor="middle" stroke="#333" stroke-width="0.22">P11</text>
<line x1="915.14" y1="518.4" x2="915.14" y2="521.9" stroke="#4a4a4a" stroke-width="1.05"/>
<line x1="920.08" y1="518.4" x2="920.08" y2="521.9" stroke="#4a4a4a" stroke-width="1.05"/>
<line x1="925.02" y1="518.4" x2="925.02" y2="521.9" stroke="#4a4a4a" stroke-width="1.05"/>
<line x1="929.96" y1="518.4" x2="929.96" y2="521.9" stroke="#4a4a4a" stroke-width="1.05"/>
<line x1="934.90" y1="518.4" x2="934.90" y2="524.6" stroke="#4a4a4a" stroke-width="1.05"/>
<text x="933.2" y="538.5" font-size="10.7" fill="#333" text-anchor="middle" stroke="#333" stroke-width="0.22">P16</text>
<line x1="939.84" y1="518.4" x2="939.84" y2="521.9" stroke="#4a4a4a" stroke-width="1.05"/>
<line x1="944.78" y1="518.4" x2="944.78" y2="521.9" stroke="#4a4a4a" stroke-width="1.05"/>
<line x1="949.72" y1="518.4" x2="949.72" y2="521.9" stroke="#4a4a4a" stroke-width="1.05"/>
<line x1="954.66" y1="518.4" x2="954.66" y2="521.9" stroke="#4a4a4a" stroke-width="1.05"/>
<line x1="959.60" y1="518.4" x2="959.60" y2="524.6" stroke="#4a4a4a" stroke-width="1.05"/>
<text x="957.9" y="538.5" font-size="10.7" fill="#333" text-anchor="middle" stroke="#333" stroke-width="0.22">P21</text>
<line x1="964.54" y1="518.4" x2="964.54" y2="521.9" stroke="#4a4a4a" stroke-width="1.05"/>
<line x1="969.48" y1="518.4" x2="969.48" y2="521.9" stroke="#4a4a4a" stroke-width="1.05"/>
<line x1="974.42" y1="518.4" x2="974.42" y2="521.9" stroke="#4a4a4a" stroke-width="1.05"/>
<line x1="979.36" y1="518.4" x2="979.36" y2="521.9" stroke="#4a4a4a" stroke-width="1.05"/>
<line x1="984.30" y1="518.4" x2="984.30" y2="524.6" stroke="#4a4a4a" stroke-width="1.05"/>
<text x="982.6" y="538.5" font-size="10.7" fill="#333" text-anchor="middle" stroke="#333" stroke-width="0.22">P26</text>
<line x1="989.24" y1="518.4" x2="989.24" y2="521.9" stroke="#4a4a4a" stroke-width="1.05"/>
<line x1="994.18" y1="518.4" x2="994.18" y2="521.9" stroke="#4a4a4a" stroke-width="1.05"/>
<line x1="999.12" y1="518.4" x2="999.12" y2="521.9" stroke="#4a4a4a" stroke-width="1.05"/>
<line x1="1004.06" y1="518.4" x2="1004.06" y2="521.9" stroke="#4a4a4a" stroke-width="1.05"/>
<line x1="1009.00" y1="518.4" x2="1009.00" y2="524.6" stroke="#4a4a4a" stroke-width="1.05"/>
<text x="1007.3" y="538.5" font-size="10.7" fill="#333" text-anchor="middle" stroke="#333" stroke-width="0.22">P31</text>
<line x1="1013.94" y1="518.4" x2="1013.94" y2="521.9" stroke="#4a4a4a" stroke-width="1.05"/>
<line x1="1018.88" y1="518.4" x2="1018.88" y2="521.9" stroke="#4a4a4a" stroke-width="1.05"/>
<line x1="1023.82" y1="518.4" x2="1023.82" y2="521.9" stroke="#4a4a4a" stroke-width="1.05"/>
<line x1="1028.76" y1="518.4" x2="1028.76" y2="521.9" stroke="#4a4a4a" stroke-width="1.05"/>
<line x1="1033.70" y1="518.4" x2="1033.70" y2="524.6" stroke="#4a4a4a" stroke-width="1.05"/>
<text x="1032.0" y="538.5" font-size="10.7" fill="#333" text-anchor="middle" stroke="#333" stroke-width="0.22">P36</text>
<line x1="1038.64" y1="518.4" x2="1038.64" y2="521.9" stroke="#4a4a4a" stroke-width="1.05"/>
<line x1="1043.58" y1="518.4" x2="1043.58" y2="521.9" stroke="#4a4a4a" stroke-width="1.05"/>
<line x1="1048.52" y1="518.4" x2="1048.52" y2="521.9" stroke="#4a4a4a" stroke-width="1.05"/>
<line x1="1053.46" y1="518.4" x2="1053.46" y2="521.9" stroke="#4a4a4a" stroke-width="1.05"/>
<line x1="1058.40" y1="518.4" x2="1058.40" y2="524.6" stroke="#4a4a4a" stroke-width="1.05"/>
<text x="1056.7" y="538.5" font-size="10.7" fill="#333" text-anchor="middle" stroke="#333" stroke-width="0.22">P41</text>
<line x1="850.9" y1="518.4" x2="855.9" y2="518.4" stroke="#555" stroke-width="0.9"/>
<text x="848.9" y="522.2" font-size="10.4" fill="#333" text-anchor="end" stroke="#333" stroke-width="0.22">0</text>
<line x1="850.9" y1="479.1" x2="855.9" y2="479.1" stroke="#555" stroke-width="0.9"/>
<text x="848.9" y="482.9" font-size="10.4" fill="#333" text-anchor="end" stroke="#333" stroke-width="0.22">5</text>
<line x1="850.9" y1="439.8" x2="855.9" y2="439.8" stroke="#555" stroke-width="0.9"/>
<text x="848.9" y="443.6" font-size="10.4" fill="#333" text-anchor="end" stroke="#333" stroke-width="0.22">10</text>
<line x1="850.9" y1="400.6" x2="855.9" y2="400.6" stroke="#555" stroke-width="0.9"/>
<text x="848.9" y="404.4" font-size="10.4" fill="#333" text-anchor="end" stroke="#333" stroke-width="0.22">15</text>
<line x1="850.9" y1="361.3" x2="855.9" y2="361.3" stroke="#555" stroke-width="0.9"/>
<text x="848.9" y="365.1" font-size="10.4" fill="#333" text-anchor="end" stroke="#333" stroke-width="0.22">20</text>
<line x1="850.9" y1="322.0" x2="855.9" y2="322.0" stroke="#555" stroke-width="0.9"/>
<text x="848.9" y="325.8" font-size="10.4" fill="#333" text-anchor="end" stroke="#333" stroke-width="0.22">25</text>
<line x1="852.9" y1="498.8" x2="855.9" y2="498.8" stroke="#555" stroke-width="0.8"/>
<line x1="852.9" y1="459.5" x2="855.9" y2="459.5" stroke="#555" stroke-width="0.8"/>
<line x1="852.9" y1="420.2" x2="855.9" y2="420.2" stroke="#555" stroke-width="0.8"/>
<line x1="852.9" y1="380.9" x2="855.9" y2="380.9" stroke="#555" stroke-width="0.8"/>
<line x1="852.9" y1="341.6" x2="855.9" y2="341.6" stroke="#555" stroke-width="0.8"/>
<text transform="translate(829.5,421) rotate(-90)" font-size="14.25" fill="#333" text-anchor="middle" stroke="#333" stroke-width="0.22">Ti (norm., wt%)</text>
<text x="958.0" y="564" font-size="14" fill="#333" text-anchor="middle" stroke="#333" stroke-width="0.22">Particle</text>
<path d="M629.5,344.6 L626.0,333.3 L628.2,332.7 L628.2,329.1 L630.8,329.1 L630.8,332.7 L633.0,333.3 Z" fill="#2a2a2a"/>
<path d="M683.7,344.6 L680.2,333.3 L682.4,332.7 L682.4,329.1 L685.0,329.1 L685.0,332.7 L687.2,333.3 Z" fill="#c41e1e"/>
<path d="M693.6,516.0 L690.1,504.3 L692.3,503.7 L692.3,500.0 L694.9,500.0 L694.9,503.7 L697.1,504.3 Z" fill="#1414e6"/>
<path d="M885.5,499.8 L882.0,489.2 L884.2,488.6 L884.2,485.3 L886.8,485.3 L886.8,488.6 L889.0,489.2 Z" fill="#2a2a2a"/>
<path d="M939.8,352.4 L936.3,341.3 L938.5,340.7 L938.5,337.2 L941.1,337.2 L941.1,340.7 L943.3,341.3 Z" fill="#c41e1e"/>
<path d="M949.7,509.3 L946.2,499.1 L948.4,498.5 L948.4,495.3 L951.0,495.3 L951.0,498.5 L953.2,499.1 Z" fill="#1414e6"/>
</g>
</svg>
</body></html>
